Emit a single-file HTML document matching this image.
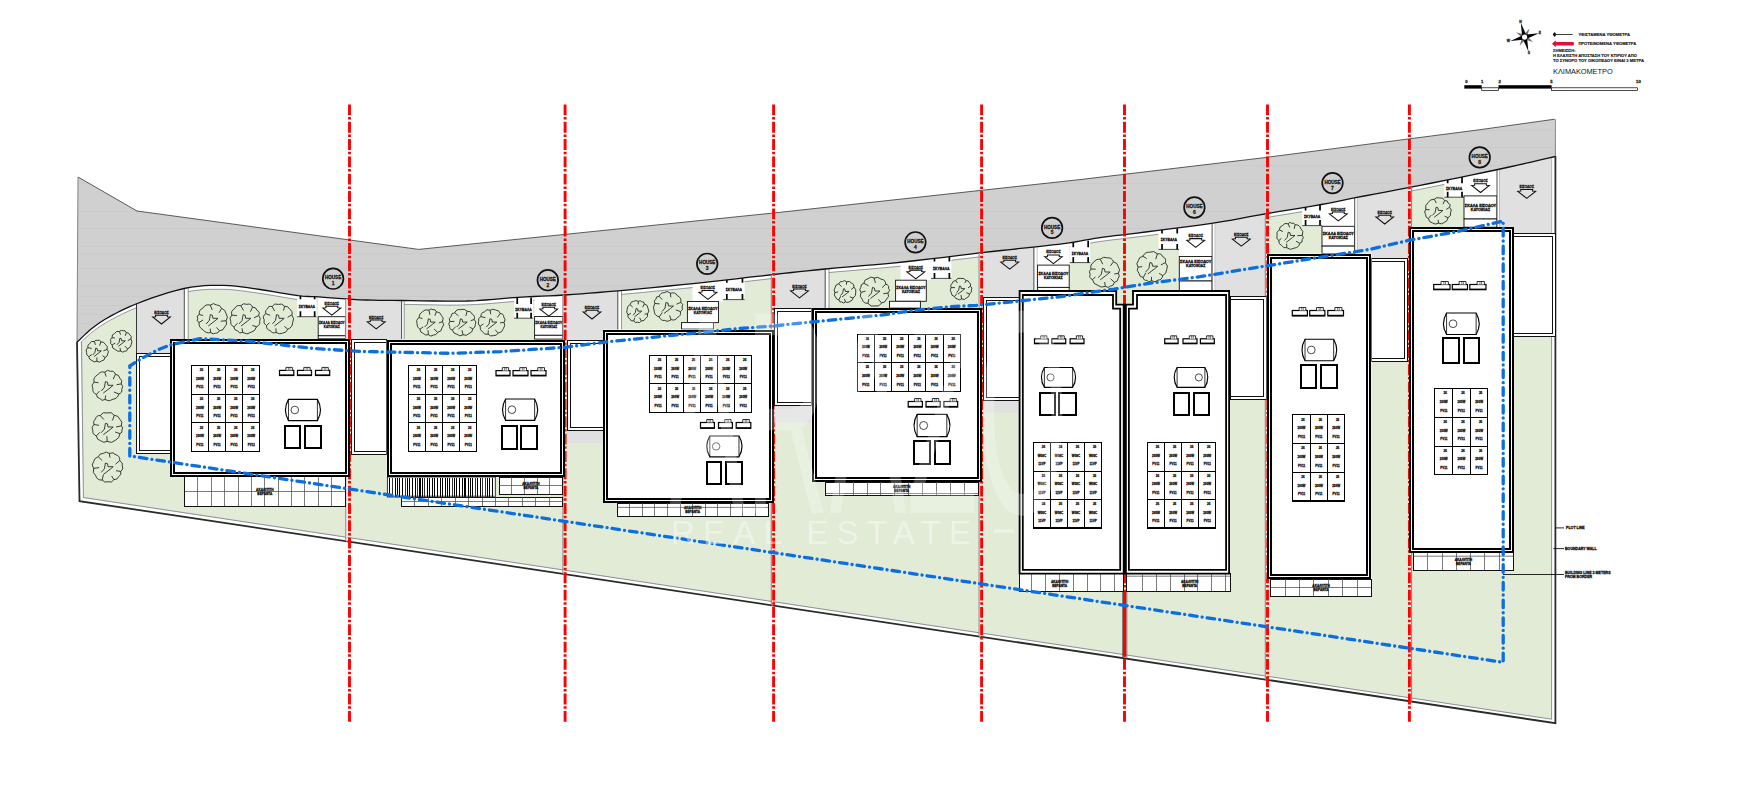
<!DOCTYPE html>
<html><head><meta charset="utf-8"><style>
html,body{margin:0;padding:0;background:#fff;overflow:hidden;}
svg{display:block;}
</style></head><body>
<svg width="1752" height="807" viewBox="0 0 1752 807">
<rect width="1752" height="807" fill="#fff"/>
<polygon points="77.0,342.0 79.4,339.9 82.5,336.9 86.2,333.4 90.5,329.6 95.1,325.9 100.0,322.5 105.1,319.3 110.6,316.1 116.4,313.0 122.6,309.9 129.2,306.9 136.0,304.0 143.4,301.1 151.4,298.2 159.8,295.3 168.2,292.6 176.4,290.3 184.0,288.5 191.1,287.2 197.8,286.3 204.3,285.7 210.6,285.4 216.9,285.4 223.2,285.4 229.5,285.6 235.6,286.2 241.7,286.9 247.7,287.7 253.8,288.6 260.0,289.5 266.5,290.5 273.3,291.6 280.1,292.8 286.7,293.9 292.8,294.9 298.2,295.7 302.4,296.2 305.6,296.4 308.3,296.5 311.0,296.6 314.3,296.7 318.7,296.9 324.4,297.3 330.9,297.8 338.0,298.4 345.4,298.9 352.8,299.4 360.0,299.8 366.7,300.0 373.1,300.2 379.5,300.3 386.3,300.4 393.7,300.4 402.0,300.5 411.7,300.6 422.5,300.8 433.9,301.0 445.5,301.2 456.7,301.2 467.0,301.0 476.4,300.6 485.2,300.0 493.6,299.3 501.8,298.6 509.9,297.9 518.0,297.3 526.0,296.9 533.7,296.5 541.4,296.2 549.1,295.9 556.9,295.5 565.0,295.0 573.2,294.4 581.2,293.9 589.5,293.2 598.1,292.5 607.5,291.7 617.8,290.8 629.3,289.8 641.9,288.6 655.1,287.3 668.7,286.0 682.3,284.7 695.6,283.3 708.9,281.9 722.5,280.3 736.2,278.8 749.5,277.2 762.0,275.8 773.5,274.5 783.3,273.4 791.7,272.5 799.4,271.6 807.0,270.8 815.4,270.0 825.2,269.0 836.7,267.9 849.2,266.9 862.5,265.7 876.1,264.6 889.8,263.3 903.1,262.0 916.5,260.5 930.2,258.9 944.0,257.3 957.4,255.6 970.1,254.1 981.6,252.7 991.9,251.5 1001.4,250.5 1010.1,249.6 1018.2,248.7 1025.8,247.9 1033.2,247.1 1040.2,246.3 1046.5,245.6 1052.5,244.9 1058.2,244.3 1063.7,243.6 1069.2,242.8 1074.6,242.0 1079.7,241.1 1084.7,240.2 1089.6,239.3 1094.7,238.4 1100.0,237.6 1105.1,236.9 1109.8,236.3 1114.6,235.7 1120.1,235.1 1126.7,234.3 1135.0,233.3 1145.6,232.0 1158.2,230.4 1172.0,228.7 1186.0,226.9 1199.5,225.1 1211.5,223.4 1222.0,221.7 1231.7,220.1 1240.8,218.4 1249.6,216.7 1258.3,215.1 1267.3,213.5 1276.6,211.9 1286.2,210.4 1295.7,208.8 1304.8,207.3 1313.5,205.9 1321.3,204.5 1327.8,203.3 1333.0,202.3 1337.7,201.3 1342.5,200.3 1348.2,199.1 1355.4,197.7 1364.3,196.0 1374.3,194.1 1385.1,192.1 1396.5,189.9 1408.3,187.7 1420.0,185.4 1432.1,183.0 1444.9,180.4 1458.0,177.8 1471.0,175.1 1483.6,172.5 1495.4,170.0 1507.0,167.5 1518.8,164.9 1530.1,162.3 1540.4,159.9 1549.1,157.9 1555.4,156.5 1555.4,723.2 79.5,501.1" fill="#e1ebd6"/>
<polyline points="1555.4,158.7 1549.1,160.1 1540.4,162.1 1530.1,164.5 1518.8,167.1 1507.0,169.7 1495.4,172.2 1483.6,174.7 1471.0,177.3 1458.0,180.0 1444.9,182.6 1432.1,185.2 1420.0,187.6 1408.3,189.9 1396.5,192.1 1385.1,194.3 1374.3,196.3 1364.3,198.2 1355.4,199.9 1348.2,201.3 1342.5,202.5 1337.7,203.5 1333.0,204.5 1327.8,205.5 1321.3,206.7 1313.5,208.1 1304.8,209.5 1295.7,211.0 1286.2,212.6 1276.6,214.1 1267.3,215.7 1258.3,217.3 1249.6,218.9 1240.8,220.6 1231.7,222.3 1222.0,223.9 1211.5,225.6 1199.5,227.3 1186.0,229.1 1172.0,230.9 1158.2,232.6 1145.6,234.2 1135.0,235.5 1126.7,236.5 1120.1,237.3 1114.6,237.9 1109.8,238.5 1105.1,239.1 1100.0,239.8 1094.7,240.6 1089.6,241.5 1084.7,242.4 1079.7,243.3 1074.6,244.2 1069.2,245.0 1063.7,245.8 1058.2,246.5 1052.5,247.1 1046.5,247.8 1040.2,248.5 1033.2,249.3 1025.8,250.1 1018.2,250.9 1010.1,251.8 1001.4,252.7 991.9,253.7 981.6,254.9 970.1,256.3 957.4,257.8 944.0,259.5 930.2,261.1 916.5,262.7 903.1,264.2 889.8,265.5 876.1,266.8 862.5,267.9 849.2,269.1 836.7,270.1 825.2,271.2 815.4,272.2 807.0,273.0 799.4,273.8 791.7,274.7 783.3,275.6 773.5,276.7 762.0,278.0 749.5,279.4 736.2,281.0 722.5,282.5 708.9,284.1 695.6,285.5 682.3,286.9 668.7,288.2 655.1,289.5 641.9,290.8 629.3,292.0 617.8,293.0 607.5,293.9 598.1,294.7 589.5,295.4 581.2,296.1 573.2,296.6 565.0,297.2 556.9,297.7 549.1,298.1 541.4,298.4 533.7,298.7 526.0,299.1 518.0,299.5 509.9,300.1 501.8,300.8 493.6,301.5 485.2,302.2 476.4,302.8 467.0,303.2 456.7,303.4 445.5,303.4 433.9,303.2 422.5,303.0 411.7,302.8 402.0,302.7 393.7,302.6 386.3,302.6 379.5,302.5 373.1,302.4 366.7,302.2 360.0,302.0 352.8,301.6 345.4,301.1 338.0,300.6 330.9,300.0 324.4,299.5 318.7,299.1 314.3,298.9 311.0,298.8 308.3,298.7 305.6,298.6 302.4,298.4 298.2,297.9 292.8,297.1 286.7,296.1 280.1,295.0 273.3,293.8 266.5,292.7 260.0,291.7 253.8,290.8 247.7,289.9 241.7,289.1 235.6,288.4 229.5,287.8 223.2,287.6 216.9,287.6 210.6,287.6 204.3,287.9 197.8,288.5 191.1,289.4 184.0,290.7 176.4,292.5 168.2,294.8 159.8,297.5 151.4,300.4 143.4,303.3 136.0,306.2 129.2,309.1 122.6,312.1 116.4,315.2 110.6,318.3 105.1,321.5 100.0,324.7 95.1,328.1 90.5,331.8 86.2,335.6 82.5,339.1 79.4,342.1 77.0,344.2" fill="none" stroke="#fff" stroke-width="3.2"/>
<polyline points="1555.4,160.4 1549.1,161.8 1540.4,163.8 1530.1,166.2 1518.8,168.8 1507.0,171.4 1495.4,173.9 1483.6,176.4 1471.0,179.0 1458.0,181.7 1444.9,184.3 1432.1,186.9 1420.0,189.3 1408.3,191.6 1396.5,193.8 1385.1,196.0 1374.3,198.0 1364.3,199.9 1355.4,201.6 1348.2,203.0 1342.5,204.2 1337.7,205.2 1333.0,206.2 1327.8,207.2 1321.3,208.4 1313.5,209.8 1304.8,211.2 1295.7,212.7 1286.2,214.3 1276.6,215.8 1267.3,217.4 1258.3,219.0 1249.6,220.6 1240.8,222.3 1231.7,224.0 1222.0,225.6 1211.5,227.3 1199.5,229.0 1186.0,230.8 1172.0,232.6 1158.2,234.3 1145.6,235.9 1135.0,237.2 1126.7,238.2 1120.1,239.0 1114.6,239.6 1109.8,240.2 1105.1,240.8 1100.0,241.5 1094.7,242.3 1089.6,243.2 1084.7,244.1 1079.7,245.0 1074.6,245.9 1069.2,246.7 1063.7,247.5 1058.2,248.2 1052.5,248.8 1046.5,249.5 1040.2,250.2 1033.2,251.0 1025.8,251.8 1018.2,252.6 1010.1,253.5 1001.4,254.4 991.9,255.4 981.6,256.6 970.1,258.0 957.4,259.5 944.0,261.2 930.2,262.8 916.5,264.4 903.1,265.9 889.8,267.2 876.1,268.5 862.5,269.6 849.2,270.8 836.7,271.8 825.2,272.9 815.4,273.9 807.0,274.7 799.4,275.5 791.7,276.4 783.3,277.3 773.5,278.4 762.0,279.7 749.5,281.1 736.2,282.7 722.5,284.2 708.9,285.8 695.6,287.2 682.3,288.6 668.7,289.9 655.1,291.2 641.9,292.5 629.3,293.7 617.8,294.7 607.5,295.6 598.1,296.4 589.5,297.1 581.2,297.8 573.2,298.3 565.0,298.9 556.9,299.4 549.1,299.8 541.4,300.1 533.7,300.4 526.0,300.8 518.0,301.2 509.9,301.8 501.8,302.5 493.6,303.2 485.2,303.9 476.4,304.5 467.0,304.9 456.7,305.1 445.5,305.1 433.9,304.9 422.5,304.7 411.7,304.5 402.0,304.4 393.7,304.3 386.3,304.3 379.5,304.2 373.1,304.1 366.7,303.9 360.0,303.7 352.8,303.3 345.4,302.8 338.0,302.3 330.9,301.7 324.4,301.2 318.7,300.8 314.3,300.6 311.0,300.5 308.3,300.4 305.6,300.3 302.4,300.1 298.2,299.6 292.8,298.8 286.7,297.8 280.1,296.7 273.3,295.5 266.5,294.4 260.0,293.4 253.8,292.5 247.7,291.6 241.7,290.8 235.6,290.1 229.5,289.5 223.2,289.3 216.9,289.3 210.6,289.3 204.3,289.6 197.8,290.2 191.1,291.1 184.0,292.4 176.4,294.2 168.2,296.5 159.8,299.2 151.4,302.1 143.4,305.0 136.0,307.9 129.2,310.8 122.6,313.8 116.4,316.9 110.6,320.0 105.1,323.2 100.0,326.4 95.1,329.8 90.5,333.5 86.2,337.3 82.5,340.8 79.4,343.8 77.0,345.9" fill="none" stroke="#556" stroke-width="0.6"/>
<polyline points="1553.4,156 1553.4,721.5 81.5,499.5 79,342" fill="none" stroke="#fff" stroke-width="3.4"/>
<polyline points="1551.6,156 1551.6,719.2 83.4,497.5 81.5,342" fill="none" stroke="#667" stroke-width="0.7"/>
<clipPath id="siteclip"><polygon points="77.0,342.0 79.4,339.9 82.5,336.9 86.2,333.4 90.5,329.6 95.1,325.9 100.0,322.5 105.1,319.3 110.6,316.1 116.4,313.0 122.6,309.9 129.2,306.9 136.0,304.0 143.4,301.1 151.4,298.2 159.8,295.3 168.2,292.6 176.4,290.3 184.0,288.5 191.1,287.2 197.8,286.3 204.3,285.7 210.6,285.4 216.9,285.4 223.2,285.4 229.5,285.6 235.6,286.2 241.7,286.9 247.7,287.7 253.8,288.6 260.0,289.5 266.5,290.5 273.3,291.6 280.1,292.8 286.7,293.9 292.8,294.9 298.2,295.7 302.4,296.2 305.6,296.4 308.3,296.5 311.0,296.6 314.3,296.7 318.7,296.9 324.4,297.3 330.9,297.8 338.0,298.4 345.4,298.9 352.8,299.4 360.0,299.8 366.7,300.0 373.1,300.2 379.5,300.3 386.3,300.4 393.7,300.4 402.0,300.5 411.7,300.6 422.5,300.8 433.9,301.0 445.5,301.2 456.7,301.2 467.0,301.0 476.4,300.6 485.2,300.0 493.6,299.3 501.8,298.6 509.9,297.9 518.0,297.3 526.0,296.9 533.7,296.5 541.4,296.2 549.1,295.9 556.9,295.5 565.0,295.0 573.2,294.4 581.2,293.9 589.5,293.2 598.1,292.5 607.5,291.7 617.8,290.8 629.3,289.8 641.9,288.6 655.1,287.3 668.7,286.0 682.3,284.7 695.6,283.3 708.9,281.9 722.5,280.3 736.2,278.8 749.5,277.2 762.0,275.8 773.5,274.5 783.3,273.4 791.7,272.5 799.4,271.6 807.0,270.8 815.4,270.0 825.2,269.0 836.7,267.9 849.2,266.9 862.5,265.7 876.1,264.6 889.8,263.3 903.1,262.0 916.5,260.5 930.2,258.9 944.0,257.3 957.4,255.6 970.1,254.1 981.6,252.7 991.9,251.5 1001.4,250.5 1010.1,249.6 1018.2,248.7 1025.8,247.9 1033.2,247.1 1040.2,246.3 1046.5,245.6 1052.5,244.9 1058.2,244.3 1063.7,243.6 1069.2,242.8 1074.6,242.0 1079.7,241.1 1084.7,240.2 1089.6,239.3 1094.7,238.4 1100.0,237.6 1105.1,236.9 1109.8,236.3 1114.6,235.7 1120.1,235.1 1126.7,234.3 1135.0,233.3 1145.6,232.0 1158.2,230.4 1172.0,228.7 1186.0,226.9 1199.5,225.1 1211.5,223.4 1222.0,221.7 1231.7,220.1 1240.8,218.4 1249.6,216.7 1258.3,215.1 1267.3,213.5 1276.6,211.9 1286.2,210.4 1295.7,208.8 1304.8,207.3 1313.5,205.9 1321.3,204.5 1327.8,203.3 1333.0,202.3 1337.7,201.3 1342.5,200.3 1348.2,199.1 1355.4,197.7 1364.3,196.0 1374.3,194.1 1385.1,192.1 1396.5,189.9 1408.3,187.7 1420.0,185.4 1432.1,183.0 1444.9,180.4 1458.0,177.8 1471.0,175.1 1483.6,172.5 1495.4,170.0 1507.0,167.5 1518.8,164.9 1530.1,162.3 1540.4,159.9 1549.1,157.9 1555.4,156.5 1555.4,723.2 79.5,501.1"/></clipPath>
<g clip-path="url(#siteclip)">
<rect x="136.40" y="140.00" width="47.90" height="214.00" fill="#e0e0e0" stroke="none" stroke-width="1" />
<text x="161.50" y="313.70" font-size="4.1" text-anchor="middle" fill="#111" stroke="#111" stroke-width="0.28" font-family="Liberation Sans" font-weight="bold" textLength="14.5" lengthAdjust="spacingAndGlyphs">ΕΙΣΟΔΟΣ</text>
<polygon points="155.6,315.2 167.4,315.2 167.4,316.7 170.4,317.0 161.5,324.0 152.6,317.0 155.6,316.7" fill="none" stroke="#111" stroke-width="1.05" stroke-linejoin="miter"/>
<rect x="184.30" y="280.00" width="3.90" height="59.00" fill="#fff" stroke="none" stroke-width="1" />
<line x1="184.30" y1="280.00" x2="184.30" y2="339.00" stroke="#222" stroke-width="0.8" />
<line x1="188.20" y1="280.00" x2="188.20" y2="339.00" stroke="#555" stroke-width="0.6" />
<line x1="136.50" y1="290.00" x2="136.50" y2="354.00" stroke="#222" stroke-width="0.9" />
<rect x="297.10" y="140.00" width="19.50" height="176.70" fill="#fff" stroke="none" stroke-width="1" />
<line x1="297.10" y1="316.70" x2="316.60" y2="316.70" stroke="#222" stroke-width="0.8" />
<line x1="300.42" y1="292.70" x2="300.42" y2="299.20" stroke="#000" stroke-width="1.7" />
<line x1="300.42" y1="311.20" x2="300.42" y2="316.70" stroke="#000" stroke-width="1.7" />
<line x1="314.65" y1="292.70" x2="314.65" y2="299.20" stroke="#000" stroke-width="1.7" />
<line x1="314.65" y1="311.20" x2="314.65" y2="316.70" stroke="#000" stroke-width="1.7" />
<text x="306.85" y="307.90" font-size="3.4" text-anchor="middle" fill="#111" stroke="#111" stroke-width="0.28" font-family="Liberation Sans" font-weight="bold" >ΣΚΥΒΑΛΑ</text>
<rect x="316.60" y="290.00" width="1.60" height="49.00" fill="#e1ebd6" stroke="none" stroke-width="1" />
<rect x="318.20" y="140.00" width="27.20" height="176.70" fill="#fff" stroke="none" stroke-width="1" />
<rect x="318.20" y="140.00" width="27.20" height="198.80" fill="#fff" stroke="none" stroke-width="1" />
<text x="331.80" y="304.80" font-size="4.1" text-anchor="middle" fill="#111" stroke="#111" stroke-width="0.28" font-family="Liberation Sans" font-weight="bold" textLength="14.5" lengthAdjust="spacingAndGlyphs">ΕΙΣΟΔΟΣ</text>
<polygon points="325.9,306.3 337.7,306.3 337.7,307.8 340.7,308.1 331.8,315.1 322.9,308.1 325.9,307.8" fill="none" stroke="#111" stroke-width="1.05" stroke-linejoin="miter"/>
<rect x="318.20" y="316.70" width="27.20" height="19.10" fill="#fff" stroke="#111" stroke-width="0.9" />
<text x="331.80" y="324.10" font-size="3.3" text-anchor="middle" fill="#111" stroke="#111" stroke-width="0.28" font-family="Liberation Sans" font-weight="bold" textLength="25.8" lengthAdjust="spacingAndGlyphs">ΣΚΑΛΑ ΕΙΣΟΔΟΥ</text>
<text x="331.80" y="328.00" font-size="3.3" text-anchor="middle" fill="#111" stroke="#111" stroke-width="0.28" font-family="Liberation Sans" font-weight="bold" textLength="16.0" lengthAdjust="spacingAndGlyphs">ΚΑΤΟΙΚΙΑΣ</text>
<rect x="318.20" y="335.80" width="27.20" height="3.00" fill="#fff" stroke="#111" stroke-width="0.9" />
<rect x="345.40" y="140.00" width="4.10" height="199.00" fill="#e0e0e0" stroke="none" stroke-width="1" />
<rect x="349.50" y="140.00" width="52.10" height="199.50" fill="#e0e0e0" stroke="none" stroke-width="1" />
<text x="376.20" y="318.50" font-size="4.1" text-anchor="middle" fill="#111" stroke="#111" stroke-width="0.28" font-family="Liberation Sans" font-weight="bold" textLength="14.5" lengthAdjust="spacingAndGlyphs">ΕΙΣΟΔΟΣ</text>
<polygon points="370.3,320.0 382.1,320.0 382.1,321.5 385.1,321.8 376.2,328.8 367.3,321.8 370.3,321.5" fill="none" stroke="#111" stroke-width="1.05" stroke-linejoin="miter"/>
<rect x="401.60" y="290.00" width="2.60" height="49.00" fill="#fff" stroke="none" stroke-width="1" />
<line x1="401.60" y1="290.00" x2="401.60" y2="339.00" stroke="#222" stroke-width="0.8" />
<line x1="404.20" y1="290.00" x2="404.20" y2="339.00" stroke="#555" stroke-width="0.6" />
<rect x="514.00" y="140.00" width="19.00" height="178.20" fill="#fff" stroke="none" stroke-width="1" />
<line x1="514.00" y1="318.20" x2="533.00" y2="318.20" stroke="#222" stroke-width="0.8" />
<line x1="517.23" y1="297.40" x2="517.23" y2="303.90" stroke="#000" stroke-width="1.7" />
<line x1="517.23" y1="312.70" x2="517.23" y2="318.20" stroke="#000" stroke-width="1.7" />
<line x1="531.10" y1="297.40" x2="531.10" y2="303.90" stroke="#000" stroke-width="1.7" />
<line x1="531.10" y1="312.70" x2="531.10" y2="318.20" stroke="#000" stroke-width="1.7" />
<text x="523.50" y="311.00" font-size="3.4" text-anchor="middle" fill="#111" stroke="#111" stroke-width="0.28" font-family="Liberation Sans" font-weight="bold" >ΣΚΥΒΑΛΑ</text>
<rect x="534.60" y="140.00" width="28.30" height="176.50" fill="#fff" stroke="none" stroke-width="1" />
<rect x="534.60" y="140.00" width="28.30" height="199.10" fill="#fff" stroke="none" stroke-width="1" />
<text x="548.75" y="305.80" font-size="4.1" text-anchor="middle" fill="#111" stroke="#111" stroke-width="0.28" font-family="Liberation Sans" font-weight="bold" textLength="14.5" lengthAdjust="spacingAndGlyphs">ΕΙΣΟΔΟΣ</text>
<polygon points="542.9,307.3 554.6,307.3 554.6,308.8 557.6,309.1 548.8,316.1 539.9,309.1 542.9,308.8" fill="none" stroke="#111" stroke-width="1.05" stroke-linejoin="miter"/>
<rect x="534.60" y="316.50" width="28.30" height="18.80" fill="#fff" stroke="#111" stroke-width="0.9" />
<text x="548.75" y="323.70" font-size="3.3" text-anchor="middle" fill="#111" stroke="#111" stroke-width="0.28" font-family="Liberation Sans" font-weight="bold" textLength="26.9" lengthAdjust="spacingAndGlyphs">ΣΚΑΛΑ ΕΙΣΟΔΟΥ</text>
<text x="548.75" y="327.60" font-size="3.3" text-anchor="middle" fill="#111" stroke="#111" stroke-width="0.28" font-family="Liberation Sans" font-weight="bold" textLength="16.7" lengthAdjust="spacingAndGlyphs">ΚΑΤΟΙΚΙΑΣ</text>
<rect x="534.60" y="335.30" width="28.30" height="3.80" fill="#fff" stroke="#111" stroke-width="0.9" />
<rect x="562.90" y="140.00" width="2.20" height="200.00" fill="#e0e0e0" stroke="none" stroke-width="1" />
<rect x="565.10" y="140.00" width="52.70" height="199.40" fill="#e0e0e0" stroke="none" stroke-width="1" />
<text x="592.00" y="308.70" font-size="4.1" text-anchor="middle" fill="#111" stroke="#111" stroke-width="0.28" font-family="Liberation Sans" font-weight="bold" textLength="14.5" lengthAdjust="spacingAndGlyphs">ΕΙΣΟΔΟΣ</text>
<polygon points="586.1,310.2 597.9,310.2 597.9,311.7 600.9,312.0 592.0,319.0 583.1,312.0 586.1,311.7" fill="none" stroke="#111" stroke-width="1.05" stroke-linejoin="miter"/>
<rect x="617.80" y="285.00" width="3.70" height="54.40" fill="#fff" stroke="none" stroke-width="1" />
<line x1="617.80" y1="285.00" x2="617.80" y2="339.40" stroke="#222" stroke-width="0.8" />
<line x1="621.50" y1="285.00" x2="621.50" y2="339.40" stroke="#555" stroke-width="0.6" />
<rect x="692.50" y="140.00" width="30.70" height="161.50" fill="#fff" stroke="none" stroke-width="1" />
<text x="707.85" y="289.00" font-size="4.1" text-anchor="middle" fill="#111" stroke="#111" stroke-width="0.28" font-family="Liberation Sans" font-weight="bold" textLength="14.5" lengthAdjust="spacingAndGlyphs">ΕΙΣΟΔΟΣ</text>
<polygon points="702.0,290.5 713.8,290.5 713.8,292.0 716.8,292.3 707.9,299.3 699.0,292.3 702.0,292.0" fill="none" stroke="#111" stroke-width="1.05" stroke-linejoin="miter"/>
<rect x="687.40" y="301.50" width="31.10" height="21.10" fill="#fff" stroke="#111" stroke-width="0.9" />
<text x="702.95" y="309.60" font-size="3.3" text-anchor="middle" fill="#111" stroke="#111" stroke-width="0.28" font-family="Liberation Sans" font-weight="bold" textLength="29.5" lengthAdjust="spacingAndGlyphs">ΣΚΑΛΑ ΕΙΣΟΔΟΥ</text>
<text x="702.95" y="313.50" font-size="3.3" text-anchor="middle" fill="#111" stroke="#111" stroke-width="0.28" font-family="Liberation Sans" font-weight="bold" textLength="18.3" lengthAdjust="spacingAndGlyphs">ΚΑΤΟΙΚΙΑΣ</text>
<rect x="681.50" y="322.60" width="31.90" height="6.50" fill="#fff" stroke="#111" stroke-width="0.9" />
<rect x="723.20" y="140.00" width="21.40" height="159.60" fill="#fff" stroke="none" stroke-width="1" />
<line x1="723.20" y1="299.60" x2="744.60" y2="299.60" stroke="#222" stroke-width="0.8" />
<line x1="726.84" y1="276.30" x2="726.84" y2="282.80" stroke="#000" stroke-width="1.7" />
<line x1="726.84" y1="294.10" x2="726.84" y2="299.60" stroke="#000" stroke-width="1.7" />
<line x1="742.46" y1="276.30" x2="742.46" y2="282.80" stroke="#000" stroke-width="1.7" />
<line x1="742.46" y1="294.10" x2="742.46" y2="299.60" stroke="#000" stroke-width="1.7" />
<text x="733.90" y="291.15" font-size="3.4" text-anchor="middle" fill="#111" stroke="#111" stroke-width="0.28" font-family="Liberation Sans" font-weight="bold" >ΣΚΥΒΑΛΑ</text>
<rect x="773.60" y="140.00" width="51.60" height="168.50" fill="#e0e0e0" stroke="none" stroke-width="1" />
<text x="799.50" y="287.50" font-size="4.1" text-anchor="middle" fill="#111" stroke="#111" stroke-width="0.28" font-family="Liberation Sans" font-weight="bold" textLength="14.5" lengthAdjust="spacingAndGlyphs">ΕΙΣΟΔΟΣ</text>
<polygon points="793.6,289.0 805.4,289.0 805.4,290.5 808.4,290.8 799.5,297.8 790.6,290.8 793.6,290.5" fill="none" stroke="#111" stroke-width="1.05" stroke-linejoin="miter"/>
<rect x="825.20" y="265.00" width="3.80" height="43.50" fill="#fff" stroke="none" stroke-width="1" />
<line x1="825.20" y1="265.00" x2="825.20" y2="308.50" stroke="#222" stroke-width="0.8" />
<line x1="829.00" y1="265.00" x2="829.00" y2="308.50" stroke="#555" stroke-width="0.6" />
<rect x="900.60" y="140.00" width="30.40" height="140.20" fill="#fff" stroke="none" stroke-width="1" />
<text x="915.80" y="268.60" font-size="4.1" text-anchor="middle" fill="#111" stroke="#111" stroke-width="0.28" font-family="Liberation Sans" font-weight="bold" textLength="14.5" lengthAdjust="spacingAndGlyphs">ΕΙΣΟΔΟΣ</text>
<polygon points="909.9,270.1 921.7,270.1 921.7,271.6 924.7,271.9 915.8,278.9 906.9,271.9 909.9,271.6" fill="none" stroke="#111" stroke-width="1.05" stroke-linejoin="miter"/>
<rect x="895.60" y="280.20" width="30.70" height="21.10" fill="#fff" stroke="#111" stroke-width="0.9" />
<text x="910.95" y="288.70" font-size="3.3" text-anchor="middle" fill="#111" stroke="#111" stroke-width="0.28" font-family="Liberation Sans" font-weight="bold" textLength="29.2" lengthAdjust="spacingAndGlyphs">ΣΚΑΛΑ ΕΙΣΟΔΟΥ</text>
<text x="910.95" y="292.60" font-size="3.3" text-anchor="middle" fill="#111" stroke="#111" stroke-width="0.28" font-family="Liberation Sans" font-weight="bold" textLength="18.1" lengthAdjust="spacingAndGlyphs">ΚΑΤΟΙΚΙΑΣ</text>
<rect x="889.50" y="301.30" width="30.90" height="6.80" fill="#fff" stroke="#111" stroke-width="0.9" />
<rect x="931.00" y="140.00" width="20.40" height="138.40" fill="#fff" stroke="none" stroke-width="1" />
<line x1="931.00" y1="278.40" x2="951.40" y2="278.40" stroke="#222" stroke-width="0.8" />
<line x1="934.47" y1="255.00" x2="934.47" y2="261.50" stroke="#000" stroke-width="1.7" />
<line x1="934.47" y1="272.90" x2="934.47" y2="278.40" stroke="#000" stroke-width="1.7" />
<line x1="949.36" y1="255.00" x2="949.36" y2="261.50" stroke="#000" stroke-width="1.7" />
<line x1="949.36" y1="272.90" x2="949.36" y2="278.40" stroke="#000" stroke-width="1.7" />
<text x="941.20" y="269.90" font-size="3.4" text-anchor="middle" fill="#111" stroke="#111" stroke-width="0.28" font-family="Liberation Sans" font-weight="bold" >ΣΚΥΒΑΛΑ</text>
<rect x="981.60" y="140.00" width="52.30" height="156.70" fill="#e0e0e0" stroke="none" stroke-width="1" />
<text x="1009.70" y="258.80" font-size="4.1" text-anchor="middle" fill="#111" stroke="#111" stroke-width="0.28" font-family="Liberation Sans" font-weight="bold" textLength="14.5" lengthAdjust="spacingAndGlyphs">ΕΙΣΟΔΟΣ</text>
<polygon points="1003.8,260.3 1015.6,260.3 1015.6,261.8 1018.6,262.1 1009.7,269.1 1000.8,262.1 1003.8,261.8" fill="none" stroke="#111" stroke-width="1.05" stroke-linejoin="miter"/>
<rect x="1033.90" y="245.00" width="3.40" height="45.50" fill="#fff" stroke="none" stroke-width="1" />
<line x1="1033.90" y1="245.00" x2="1033.90" y2="290.50" stroke="#222" stroke-width="0.8" />
<line x1="1037.30" y1="245.00" x2="1037.30" y2="290.50" stroke="#555" stroke-width="0.6" />
<rect x="1037.60" y="140.00" width="31.60" height="125.10" fill="#fff" stroke="none" stroke-width="1" />
<rect x="1037.60" y="140.00" width="31.60" height="150.50" fill="#fff" stroke="none" stroke-width="1" />
<text x="1053.40" y="253.40" font-size="4.1" text-anchor="middle" fill="#111" stroke="#111" stroke-width="0.28" font-family="Liberation Sans" font-weight="bold" textLength="14.5" lengthAdjust="spacingAndGlyphs">ΕΙΣΟΔΟΣ</text>
<polygon points="1047.5,254.9 1059.3,254.9 1059.3,256.4 1062.3,256.7 1053.4,263.7 1044.5,256.7 1047.5,256.4" fill="none" stroke="#111" stroke-width="1.05" stroke-linejoin="miter"/>
<rect x="1037.60" y="265.10" width="31.60" height="22.30" fill="#fff" stroke="#111" stroke-width="0.9" />
<text x="1053.40" y="275.45" font-size="3.3" text-anchor="middle" fill="#111" stroke="#111" stroke-width="0.28" font-family="Liberation Sans" font-weight="bold" textLength="30.0" lengthAdjust="spacingAndGlyphs">ΣΚΑΛΑ ΕΙΣΟΔΟΥ</text>
<text x="1053.40" y="279.35" font-size="3.3" text-anchor="middle" fill="#111" stroke="#111" stroke-width="0.28" font-family="Liberation Sans" font-weight="bold" textLength="18.6" lengthAdjust="spacingAndGlyphs">ΚΑΤΟΙΚΙΑΣ</text>
<rect x="1037.60" y="287.40" width="31.60" height="3.10" fill="#fff" stroke="#111" stroke-width="0.9" />
<rect x="1069.80" y="140.00" width="20.40" height="122.60" fill="#fff" stroke="none" stroke-width="1" />
<line x1="1069.80" y1="262.60" x2="1090.20" y2="262.60" stroke="#222" stroke-width="0.8" />
<line x1="1073.27" y1="240.80" x2="1073.27" y2="247.30" stroke="#000" stroke-width="1.7" />
<line x1="1073.27" y1="257.10" x2="1073.27" y2="262.60" stroke="#000" stroke-width="1.7" />
<line x1="1088.16" y1="240.80" x2="1088.16" y2="247.30" stroke="#000" stroke-width="1.7" />
<line x1="1088.16" y1="257.10" x2="1088.16" y2="262.60" stroke="#000" stroke-width="1.7" />
<text x="1080.00" y="254.90" font-size="3.4" text-anchor="middle" fill="#111" stroke="#111" stroke-width="0.28" font-family="Liberation Sans" font-weight="bold" >ΣΚΥΒΑΛΑ</text>
<rect x="1158.50" y="140.00" width="20.80" height="109.40" fill="#fff" stroke="none" stroke-width="1" />
<line x1="1158.50" y1="249.40" x2="1179.30" y2="249.40" stroke="#222" stroke-width="0.8" />
<line x1="1162.04" y1="227.00" x2="1162.04" y2="233.50" stroke="#000" stroke-width="1.7" />
<line x1="1162.04" y1="243.90" x2="1162.04" y2="249.40" stroke="#000" stroke-width="1.7" />
<line x1="1177.22" y1="227.00" x2="1177.22" y2="233.50" stroke="#000" stroke-width="1.7" />
<line x1="1177.22" y1="243.90" x2="1177.22" y2="249.40" stroke="#000" stroke-width="1.7" />
<text x="1168.90" y="241.40" font-size="3.4" text-anchor="middle" fill="#111" stroke="#111" stroke-width="0.28" font-family="Liberation Sans" font-weight="bold" >ΣΚΥΒΑΛΑ</text>
<rect x="1179.30" y="140.00" width="32.80" height="116.50" fill="#fff" stroke="none" stroke-width="1" />
<rect x="1179.30" y="140.00" width="32.80" height="150.70" fill="#fff" stroke="none" stroke-width="1" />
<text x="1195.70" y="237.10" font-size="4.1" text-anchor="middle" fill="#111" stroke="#111" stroke-width="0.28" font-family="Liberation Sans" font-weight="bold" textLength="14.5" lengthAdjust="spacingAndGlyphs">ΕΙΣΟΔΟΣ</text>
<polygon points="1189.8,238.6 1201.6,238.6 1201.6,240.1 1204.6,240.4 1195.7,247.4 1186.8,240.4 1189.8,240.1" fill="none" stroke="#111" stroke-width="1.05" stroke-linejoin="miter"/>
<rect x="1179.30" y="256.50" width="32.80" height="24.50" fill="#fff" stroke="#111" stroke-width="0.9" />
<text x="1195.70" y="262.80" font-size="3.3" text-anchor="middle" fill="#111" stroke="#111" stroke-width="0.28" font-family="Liberation Sans" font-weight="bold" textLength="31.2" lengthAdjust="spacingAndGlyphs">ΣΚΑΛΑ ΕΙΣΟΔΟΥ</text>
<text x="1195.70" y="266.70" font-size="3.3" text-anchor="middle" fill="#111" stroke="#111" stroke-width="0.28" font-family="Liberation Sans" font-weight="bold" textLength="19.3" lengthAdjust="spacingAndGlyphs">ΚΑΤΟΙΚΙΑΣ</text>
<rect x="1179.30" y="281.00" width="32.80" height="9.70" fill="#fff" stroke="#111" stroke-width="0.9" />
<rect x="1212.10" y="222.00" width="3.10" height="68.70" fill="#fff" stroke="none" stroke-width="1" />
<line x1="1212.10" y1="222.00" x2="1212.10" y2="290.70" stroke="#222" stroke-width="0.8" />
<line x1="1215.20" y1="222.00" x2="1215.20" y2="290.70" stroke="#555" stroke-width="0.6" />
<rect x="1215.20" y="140.00" width="52.30" height="156.40" fill="#e0e0e0" stroke="none" stroke-width="1" />
<text x="1241.30" y="235.80" font-size="4.1" text-anchor="middle" fill="#111" stroke="#111" stroke-width="0.28" font-family="Liberation Sans" font-weight="bold" textLength="14.5" lengthAdjust="spacingAndGlyphs">ΕΙΣΟΔΟΣ</text>
<polygon points="1235.4,237.3 1247.2,237.3 1247.2,238.8 1250.2,239.1 1241.3,246.1 1232.4,239.1 1235.4,238.8" fill="none" stroke="#111" stroke-width="1.05" stroke-linejoin="miter"/>
<rect x="1302.20" y="140.00" width="19.80" height="85.60" fill="#fff" stroke="none" stroke-width="1" />
<line x1="1302.20" y1="225.60" x2="1322.00" y2="225.60" stroke="#222" stroke-width="0.8" />
<line x1="1305.57" y1="203.90" x2="1305.57" y2="210.40" stroke="#000" stroke-width="1.7" />
<line x1="1305.57" y1="220.10" x2="1305.57" y2="225.60" stroke="#000" stroke-width="1.7" />
<line x1="1320.02" y1="203.90" x2="1320.02" y2="210.40" stroke="#000" stroke-width="1.7" />
<line x1="1320.02" y1="220.10" x2="1320.02" y2="225.60" stroke="#000" stroke-width="1.7" />
<text x="1312.10" y="217.95" font-size="3.4" text-anchor="middle" fill="#111" stroke="#111" stroke-width="0.28" font-family="Liberation Sans" font-weight="bold" >ΣΚΥΒΑΛΑ</text>
<rect x="1322.00" y="140.00" width="32.70" height="86.30" fill="#fff" stroke="none" stroke-width="1" />
<rect x="1322.00" y="140.00" width="32.70" height="113.60" fill="#fff" stroke="none" stroke-width="1" />
<text x="1338.35" y="210.50" font-size="4.1" text-anchor="middle" fill="#111" stroke="#111" stroke-width="0.28" font-family="Liberation Sans" font-weight="bold" textLength="14.5" lengthAdjust="spacingAndGlyphs">ΕΙΣΟΔΟΣ</text>
<polygon points="1332.4,212.0 1344.2,212.0 1344.2,213.5 1347.2,213.8 1338.3,220.8 1329.4,213.8 1332.4,213.5" fill="none" stroke="#111" stroke-width="1.05" stroke-linejoin="miter"/>
<rect x="1322.00" y="226.30" width="32.70" height="19.80" fill="#fff" stroke="#111" stroke-width="0.9" />
<text x="1338.35" y="235.40" font-size="3.3" text-anchor="middle" fill="#111" stroke="#111" stroke-width="0.28" font-family="Liberation Sans" font-weight="bold" textLength="31.1" lengthAdjust="spacingAndGlyphs">ΣΚΑΛΑ ΕΙΣΟΔΟΥ</text>
<text x="1338.35" y="239.30" font-size="3.3" text-anchor="middle" fill="#111" stroke="#111" stroke-width="0.28" font-family="Liberation Sans" font-weight="bold" textLength="19.3" lengthAdjust="spacingAndGlyphs">ΚΑΤΟΙΚΙΑΣ</text>
<rect x="1322.00" y="246.10" width="32.70" height="7.50" fill="#fff" stroke="#111" stroke-width="0.9" />
<rect x="1354.70" y="197.00" width="2.70" height="56.60" fill="#fff" stroke="none" stroke-width="1" />
<line x1="1354.70" y1="197.00" x2="1354.70" y2="253.60" stroke="#222" stroke-width="0.8" />
<line x1="1357.40" y1="197.00" x2="1357.40" y2="253.60" stroke="#555" stroke-width="0.6" />
<rect x="1357.40" y="140.00" width="52.00" height="120.60" fill="#e0e0e0" stroke="none" stroke-width="1" />
<text x="1384.70" y="213.70" font-size="4.1" text-anchor="middle" fill="#111" stroke="#111" stroke-width="0.28" font-family="Liberation Sans" font-weight="bold" textLength="14.5" lengthAdjust="spacingAndGlyphs">ΕΙΣΟΔΟΣ</text>
<polygon points="1378.8,215.2 1390.6,215.2 1390.6,216.7 1393.6,217.0 1384.7,224.0 1375.8,217.0 1378.8,216.7" fill="none" stroke="#111" stroke-width="1.05" stroke-linejoin="miter"/>
<rect x="1444.30" y="140.00" width="19.70" height="57.20" fill="#fff" stroke="none" stroke-width="1" />
<line x1="1444.30" y1="197.20" x2="1464.00" y2="197.20" stroke="#222" stroke-width="0.8" />
<line x1="1447.65" y1="176.80" x2="1447.65" y2="183.30" stroke="#000" stroke-width="1.7" />
<line x1="1447.65" y1="191.70" x2="1447.65" y2="197.20" stroke="#000" stroke-width="1.7" />
<line x1="1462.03" y1="176.80" x2="1462.03" y2="183.30" stroke="#000" stroke-width="1.7" />
<line x1="1462.03" y1="191.70" x2="1462.03" y2="197.20" stroke="#000" stroke-width="1.7" />
<text x="1454.15" y="190.20" font-size="3.4" text-anchor="middle" fill="#111" stroke="#111" stroke-width="0.28" font-family="Liberation Sans" font-weight="bold" >ΣΚΥΒΑΛΑ</text>
<rect x="1464.00" y="140.00" width="33.00" height="55.90" fill="#fff" stroke="none" stroke-width="1" />
<rect x="1464.00" y="140.00" width="33.00" height="87.20" fill="#fff" stroke="none" stroke-width="1" />
<text x="1480.50" y="182.20" font-size="4.1" text-anchor="middle" fill="#111" stroke="#111" stroke-width="0.28" font-family="Liberation Sans" font-weight="bold" textLength="14.5" lengthAdjust="spacingAndGlyphs">ΕΙΣΟΔΟΣ</text>
<polygon points="1474.6,183.7 1486.4,183.7 1486.4,185.2 1489.4,185.5 1480.5,192.5 1471.6,185.5 1474.6,185.2" fill="none" stroke="#111" stroke-width="1.05" stroke-linejoin="miter"/>
<rect x="1464.00" y="195.90" width="33.00" height="23.10" fill="#fff" stroke="#111" stroke-width="0.9" />
<text x="1480.50" y="206.65" font-size="3.3" text-anchor="middle" fill="#111" stroke="#111" stroke-width="0.28" font-family="Liberation Sans" font-weight="bold" textLength="31.3" lengthAdjust="spacingAndGlyphs">ΣΚΑΛΑ ΕΙΣΟΔΟΥ</text>
<text x="1480.50" y="210.55" font-size="3.3" text-anchor="middle" fill="#111" stroke="#111" stroke-width="0.28" font-family="Liberation Sans" font-weight="bold" textLength="19.4" lengthAdjust="spacingAndGlyphs">ΚΑΤΟΙΚΙΑΣ</text>
<rect x="1464.00" y="219.00" width="33.00" height="8.20" fill="#fff" stroke="#111" stroke-width="0.9" />
<rect x="1497.00" y="168.00" width="2.50" height="59.20" fill="#fff" stroke="none" stroke-width="1" />
<line x1="1497.00" y1="168.00" x2="1497.00" y2="227.20" stroke="#222" stroke-width="0.8" />
<line x1="1499.50" y1="168.00" x2="1499.50" y2="227.20" stroke="#555" stroke-width="0.6" />
<rect x="1499.50" y="140.00" width="52.00" height="94.40" fill="#e0e0e0" stroke="none" stroke-width="1" />
<text x="1526.70" y="188.00" font-size="4.1" text-anchor="middle" fill="#111" stroke="#111" stroke-width="0.28" font-family="Liberation Sans" font-weight="bold" textLength="14.5" lengthAdjust="spacingAndGlyphs">ΕΙΣΟΔΟΣ</text>
<polygon points="1520.8,189.5 1532.6,189.5 1532.6,191.0 1535.6,191.3 1526.7,198.3 1517.8,191.3 1520.8,191.0" fill="none" stroke="#111" stroke-width="1.05" stroke-linejoin="miter"/>
<path d="M102.54,355.78 L105.07,357.50 Q104.66,360.72 101.66,360.82 Q99.67,363.18 96.92,361.28 M96.88,357.39 L96.92,361.28 Q94.01,362.70 91.93,360.53 Q89.18,359.68 88.71,356.64 M91.83,354.62 L88.71,356.64 Q86.14,355.11 86.56,352.37 Q85.14,349.75 87.73,347.74 M91.74,348.40 L87.73,347.74 Q87.43,344.73 89.84,343.30 Q91.21,340.61 94.41,341.51 M95.41,344.88 L94.41,341.51 Q95.84,339.56 97.71,340.41 Q99.74,339.32 100.89,341.82 M99.64,345.62 L100.89,341.82 Q104.17,341.60 105.40,344.43 Q108.18,346.07 107.11,349.36 M103.41,350.84 L107.11,349.36 Q109.37,351.58 107.72,353.84 Q107.79,356.45 105.07,357.50 M92.71,354.93 L94.97,352.35 L95.69,348.18 L97.20,348.62 L97.56,350.84 L101.29,350.84 L99.07,352.71 L94.18,356.44" fill="none" stroke="#262b24" stroke-width="0.9" stroke-linejoin="round"/>
<path d="M119.95,347.92 L120.70,351.08 Q117.47,352.03 115.30,349.60 Q111.84,348.70 112.14,344.97 M115.28,343.01 L112.14,344.97 Q109.66,343.61 110.79,341.39 Q109.53,339.21 112.01,337.78 M114.88,337.98 L112.01,337.78 Q111.48,334.33 114.65,333.35 Q116.23,330.59 119.44,331.48 M120.55,334.70 L119.44,331.48 Q121.19,329.51 123.08,330.79 Q125.42,329.82 126.28,332.64 M125.29,335.84 L126.28,332.64 Q129.09,332.49 129.80,334.89 Q132.17,336.14 130.93,338.91 M127.81,340.59 L130.93,338.91 Q132.73,341.73 131.30,344.57 Q130.74,347.72 127.58,348.85 M124.94,346.07 L127.58,348.85 Q127.07,351.74 124.58,351.32 Q122.80,352.98 120.70,351.08 M116.89,344.87 L119.11,342.33 L119.82,338.24 L121.30,338.66 L121.65,340.85 L125.32,340.85 L123.13,342.68 L118.34,346.35" fill="none" stroke="#262b24" stroke-width="0.9" stroke-linejoin="round"/>
<path d="M105.72,395.49 L105.04,399.53 Q101.58,401.62 99.90,398.49 Q96.53,398.29 96.56,394.45 M99.39,391.14 L96.56,394.45 Q92.23,392.89 92.86,388.77 Q90.76,385.23 94.05,382.10 M98.46,382.79 L94.05,382.10 Q93.05,377.07 97.46,375.06 Q99.90,371.10 104.70,372.13 M106.17,376.59 L104.70,372.13 Q107.49,368.94 110.45,371.33 Q114.07,370.35 115.42,374.31 M113.26,379.12 L115.42,374.31 Q119.21,374.66 119.82,378.19 Q122.76,380.29 121.31,383.86 M116.61,384.70 L121.31,383.86 Q123.89,386.64 121.72,389.31 Q122.77,392.85 118.82,393.95 M113.92,392.00 L118.82,393.95 Q117.63,398.69 112.96,399.26 Q109.23,402.35 105.04,399.53 M101.29,390.97 L104.42,387.39 L105.41,381.63 L107.50,382.22 L108.00,385.30 L113.16,385.30 L110.08,387.89 L103.33,393.05" fill="none" stroke="#262b24" stroke-width="0.9" stroke-linejoin="round"/>
<path d="M112.44,420.49 L114.24,415.29 Q118.60,415.40 119.78,419.26 Q123.06,421.76 121.36,425.89 M116.03,427.00 L121.36,425.89 Q123.84,427.94 121.81,429.95 Q123.09,432.53 120.03,433.63 M115.15,432.00 L120.03,433.63 Q119.48,438.43 115.31,440.33 Q111.88,443.83 107.18,441.45 M106.89,436.22 L107.18,441.45 Q103.47,443.35 100.67,440.77 Q96.88,440.07 96.33,435.86 M99.99,432.21 L96.33,435.86 Q92.32,434.42 92.83,430.67 Q90.82,427.47 93.88,424.50 M99.02,425.29 L93.88,424.50 Q92.65,420.88 95.53,418.94 Q96.14,415.25 100.27,415.57 M103.77,419.48 L100.27,415.57 Q102.79,411.29 107.20,412.97 Q111.52,411.22 114.24,415.29 M101.29,432.67 L104.42,429.09 L105.41,423.33 L107.50,423.92 L108.00,427.00 L113.16,427.00 L110.08,429.59 L103.33,434.75" fill="none" stroke="#262b24" stroke-width="0.9" stroke-linejoin="round"/>
<path d="M115.55,464.13 L119.78,460.58 Q123.12,462.51 122.34,465.87 Q123.95,469.06 120.76,471.52 M116.01,470.61 L120.76,471.52 Q121.64,475.10 118.66,476.69 Q117.62,479.93 113.90,479.60 M111.64,475.99 L113.90,479.60 Q111.79,483.36 108.11,481.73 Q104.66,483.28 102.17,480.09 M103.36,474.89 L102.17,480.09 Q97.13,480.41 95.76,475.80 Q92.08,472.99 93.60,468.40 M99.13,467.58 L93.60,468.40 Q90.84,464.73 93.63,461.66 Q94.18,457.83 98.25,456.76 M102.15,460.48 L98.25,456.76 Q99.59,453.12 103.25,453.40 Q106.09,450.72 109.28,453.36 M109.99,457.58 L109.28,453.36 Q113.44,451.64 116.00,454.83 Q120.05,455.94 119.78,460.58 M101.29,472.37 L104.42,468.79 L105.41,463.03 L107.50,463.62 L108.00,466.70 L113.16,466.70 L110.08,469.29 L103.33,474.45" fill="none" stroke="#262b24" stroke-width="0.9" stroke-linejoin="round"/>
<path d="M203.13,319.96 L199.04,322.48 Q195.65,320.88 197.79,318.49 Q195.75,316.00 199.21,314.55 M203.17,315.52 L199.21,314.55 Q198.77,309.71 203.10,307.89 Q205.52,303.76 210.29,305.10 M212.16,309.88 L210.29,305.10 Q213.49,302.33 216.47,304.86 Q220.17,304.66 221.55,308.39 M219.14,312.74 L221.55,308.39 Q225.62,309.72 226.11,313.73 Q228.72,317.05 226.12,320.74 M220.83,321.24 L226.12,320.74 Q227.83,324.71 224.60,326.99 Q223.66,330.80 219.39,330.77 M216.60,327.40 L219.39,330.77 Q218.16,333.77 215.40,333.16 Q213.13,334.91 210.79,332.57 M210.12,328.65 L210.79,332.57 Q205.85,333.75 203.04,329.71 Q198.56,327.58 199.04,322.48 M206.23,323.93 L209.34,320.38 L210.33,314.65 L212.40,315.25 L212.89,318.31 L218.03,318.31 L214.97,320.87 L208.25,326.01" fill="none" stroke="#262b24" stroke-width="0.9" stroke-linejoin="round"/>
<path d="M254.04,317.77 L258.66,315.51 Q261.27,318.35 259.68,321.49 Q260.41,325.14 256.59,326.70 M252.35,325.47 L256.59,326.70 Q255.28,331.27 250.85,332.37 Q247.02,335.41 242.78,332.45 M241.97,328.36 L242.78,332.45 Q239.30,334.01 237.52,330.94 Q234.14,330.48 233.90,326.83 M237.65,323.21 L233.90,326.83 Q230.04,325.15 230.80,321.36 Q228.69,318.05 231.83,315.14 M236.98,315.58 L231.83,315.14 Q230.52,310.55 234.56,308.75 Q236.23,304.77 240.79,305.66 M243.58,310.48 L240.79,305.66 Q243.53,302.51 246.93,304.38 Q250.79,303.05 252.59,307.07 M250.37,311.75 L252.59,307.07 Q256.27,307.03 256.96,310.33 Q260.37,311.81 258.66,315.51 M239.03,323.93 L242.14,320.38 L243.13,314.65 L245.20,315.25 L245.69,318.31 L250.83,318.31 L247.77,320.87 L241.05,326.01" fill="none" stroke="#262b24" stroke-width="0.9" stroke-linejoin="round"/>
<path d="M284.44,326.40 L287.76,329.20 Q286.33,333.03 282.61,333.11 Q279.37,334.81 276.17,332.44 M275.85,328.35 L276.17,332.44 Q272.21,334.02 270.28,330.50 Q266.27,329.88 266.51,325.58 M269.57,322.76 L266.51,325.58 Q262.66,323.55 264.20,319.78 Q261.86,316.21 265.70,313.73 M270.17,315.31 L265.70,313.73 Q264.62,310.19 267.51,308.90 Q268.20,305.53 272.11,306.56 M274.59,311.05 L272.11,306.56 Q274.40,302.59 278.31,304.42 Q282.08,302.80 284.60,306.31 M283.52,310.55 L284.60,306.31 Q288.53,305.90 289.75,309.28 Q292.90,311.02 291.88,314.84 M287.60,317.35 L291.88,314.84 Q294.87,318.71 292.62,322.82 Q292.44,327.55 287.76,329.20 M272.43,323.93 L275.54,320.38 L276.53,314.65 L278.60,315.25 L279.09,318.31 L284.23,318.31 L281.17,320.87 L274.45,326.01" fill="none" stroke="#262b24" stroke-width="0.9" stroke-linejoin="round"/>
<path d="M434.08,329.06 L437.62,332.35 Q436.40,335.42 433.40,335.09 Q430.95,337.25 428.39,334.70 M428.01,330.13 L428.39,334.70 Q425.19,335.89 423.22,333.41 Q420.07,332.73 419.88,329.25 M423.22,326.87 L419.88,329.25 Q416.71,327.14 416.99,323.61 Q415.39,320.04 418.90,317.56 M422.40,318.50 L418.90,317.56 Q419.09,313.55 422.40,311.74 Q425.00,308.74 429.02,310.23 M429.84,314.79 L429.02,310.23 Q431.06,307.82 432.96,309.74 Q435.49,308.74 436.34,311.81 M434.88,315.78 L436.34,311.81 Q440.42,311.83 441.39,315.41 Q444.40,317.76 442.49,321.51 M438.84,323.02 L442.49,321.51 Q444.94,325.05 442.04,327.82 Q441.81,331.77 437.62,332.35 M424.71,327.07 L427.48,323.91 L428.36,318.81 L430.20,319.34 L430.64,322.06 L435.21,322.06 L432.48,324.34 L426.51,328.91" fill="none" stroke="#262b24" stroke-width="0.9" stroke-linejoin="round"/>
<path d="M458.48,315.87 L454.71,312.71 Q456.62,308.75 460.68,309.68 Q464.37,308.08 467.19,311.23 M465.83,315.99 L467.19,311.23 Q471.01,310.77 472.19,314.09 Q475.47,315.72 474.16,319.50 M470.69,320.71 L474.16,319.50 Q476.92,321.77 475.33,324.44 Q475.71,327.33 472.78,328.83 M469.64,327.17 L472.78,328.83 Q472.51,332.69 469.02,333.59 Q466.66,336.36 463.08,334.80 M461.94,330.25 L463.08,334.80 Q459.63,337.03 456.92,334.28 Q453.24,333.86 452.43,330.03 M455.71,326.60 L452.43,330.03 Q449.04,329.23 449.75,326.21 Q447.45,324.07 449.91,321.55 M454.47,321.36 L449.91,321.55 Q448.18,318.36 451.00,316.42 Q451.12,313.02 454.71,312.71 M456.71,327.07 L459.48,323.91 L460.36,318.81 L462.20,319.34 L462.64,322.06 L467.21,322.06 L464.48,324.34 L458.51,328.91" fill="none" stroke="#262b24" stroke-width="0.9" stroke-linejoin="round"/>
<path d="M495.22,330.07 L498.33,332.96 Q496.63,336.04 493.47,335.62 Q490.52,336.84 488.10,334.26 M488.28,330.36 L488.10,334.26 Q484.31,334.95 482.50,331.91 Q479.68,330.00 480.08,326.34 M483.48,323.90 L480.08,326.34 Q477.26,324.14 478.63,321.28 Q477.55,318.14 480.99,316.58 M485.48,317.74 L480.99,316.58 Q480.66,312.42 484.49,311.85 Q486.39,308.44 490.16,310.28 M490.71,314.24 L490.16,310.28 Q493.06,308.17 495.76,310.10 Q499.12,310.01 500.21,313.49 M497.32,317.44 L500.21,313.49 Q504.06,313.81 503.81,317.22 Q506.17,319.42 504.13,322.40 M500.02,322.83 L504.13,322.40 Q505.65,325.99 503.22,328.77 Q502.42,332.54 498.33,332.96 M486.31,327.07 L489.08,323.91 L489.96,318.81 L491.80,319.34 L492.24,322.06 L496.81,322.06 L494.08,324.34 L488.11,328.91" fill="none" stroke="#262b24" stroke-width="0.9" stroke-linejoin="round"/>
<path d="M642.65,307.22 L644.40,303.93 Q647.97,304.85 647.98,308.28 Q650.00,311.10 647.49,313.89 M644.52,314.12 L647.49,313.89 Q648.49,317.12 645.53,318.40 Q644.54,321.31 641.34,320.96 M639.55,317.69 L641.34,320.96 Q639.87,323.69 637.52,322.25 Q635.20,323.35 633.72,320.90 M634.66,317.88 L633.72,320.90 Q630.55,321.69 629.82,318.78 Q627.06,317.81 627.97,314.76 M630.88,313.47 L627.97,314.76 Q625.86,312.22 627.17,309.34 Q626.96,306.10 630.06,304.68 M632.69,307.05 L630.06,304.68 Q630.55,301.39 633.52,301.35 Q635.78,299.87 638.32,301.36 M638.28,304.38 L638.32,301.36 Q640.38,299.96 641.74,301.75 Q644.16,301.18 644.40,303.93 M633.07,315.27 L635.35,312.66 L636.08,308.46 L637.60,308.89 L637.96,311.14 L641.73,311.14 L639.48,313.02 L634.56,316.79" fill="none" stroke="#262b24" stroke-width="0.9" stroke-linejoin="round"/>
<path d="M662.22,299.64 L659.12,296.33 Q660.43,292.43 664.19,292.69 Q667.26,290.04 670.41,293.22 M670.82,297.35 L670.41,293.22 Q675.14,291.71 677.41,295.76 Q681.66,297.53 680.85,302.37 M676.45,304.16 L680.85,302.37 Q684.06,304.29 681.99,307.03 Q683.78,309.90 680.50,311.59 M675.77,309.90 L680.50,311.59 Q681.25,316.05 677.37,317.45 Q675.36,321.00 671.10,319.64 M669.58,315.46 L671.10,319.64 Q667.97,322.68 664.65,320.45 Q660.66,320.96 659.27,316.80 M662.25,312.45 L659.27,316.80 Q654.33,315.72 654.23,311.05 Q652.37,307.21 654.85,303.44 M659.65,303.89 L654.85,303.44 Q653.21,300.51 655.88,299.22 Q655.66,296.17 659.12,296.33 M661.99,311.50 L665.02,308.04 L665.98,302.46 L668.00,303.04 L668.48,306.02 L673.48,306.02 L670.50,308.52 L663.96,313.52" fill="none" stroke="#262b24" stroke-width="0.9" stroke-linejoin="round"/>
<path d="M849.86,296.80 L853.06,298.00 Q852.55,300.83 850.01,301.49 Q848.01,303.20 845.40,301.96 M844.49,298.91 L845.40,301.96 Q843.36,304.06 841.81,301.96 Q839.34,302.77 838.86,299.91 M840.67,296.22 L838.86,299.91 Q836.10,299.49 835.52,297.01 Q833.38,295.31 834.87,292.65 M838.15,291.88 L834.87,292.65 Q833.24,289.84 835.12,287.47 Q835.32,284.27 838.75,283.77 M841.51,286.67 L838.75,283.77 Q839.74,280.98 842.45,281.56 Q844.57,279.63 846.75,281.78 M846.31,284.73 L846.75,281.78 Q849.76,280.62 851.45,283.01 Q854.30,283.84 854.03,287.12 M851.18,289.58 L854.03,287.12 Q856.62,289.51 855.70,292.75 Q856.18,296.16 853.06,298.00 M840.47,295.57 L842.75,292.96 L843.48,288.76 L845.00,289.19 L845.36,291.44 L849.13,291.44 L846.88,293.32 L841.96,297.09" fill="none" stroke="#262b24" stroke-width="0.9" stroke-linejoin="round"/>
<path d="M883.32,293.74 L887.92,292.99 Q889.99,296.91 886.54,299.08 Q885.63,302.68 881.65,302.95 M878.34,299.39 L881.65,302.95 Q879.24,307.26 874.88,305.93 Q870.60,307.47 867.97,303.32 M868.91,298.94 L867.97,303.32 Q863.19,303.52 862.23,299.29 Q858.91,296.59 861.03,292.38 M865.53,291.09 L861.03,292.38 Q858.53,289.64 860.85,287.31 Q860.43,284.19 863.84,283.22 M868.58,285.80 L863.84,283.22 Q864.35,279.20 867.99,278.70 Q870.49,275.83 874.09,278.01 M875.42,282.93 L874.09,278.01 Q878.05,276.12 881.01,279.15 Q885.48,279.53 885.86,284.21 M882.11,287.64 L885.86,284.21 Q889.39,285.20 888.52,288.22 Q890.93,290.52 887.92,292.99 M868.49,296.50 L871.52,293.04 L872.48,287.46 L874.50,288.04 L874.98,291.02 L879.98,291.02 L877.00,293.52 L870.46,298.52" fill="none" stroke="#262b24" stroke-width="0.9" stroke-linejoin="round"/>
<path d="M957.51,283.07 L955.70,280.57 Q957.61,277.37 960.92,278.39 Q964.15,277.65 966.12,280.59 M964.90,282.95 L966.12,280.59 Q968.77,280.36 969.32,282.61 Q971.36,283.74 970.41,286.23 M968.06,287.85 L970.41,286.23 Q972.91,287.97 971.38,290.19 Q972.08,292.59 969.55,293.82 M966.31,292.71 L969.55,293.82 Q969.41,297.05 966.55,297.92 Q964.65,300.47 961.57,298.88 M961.00,295.06 L961.57,298.88 Q959.44,300.61 957.59,299.03 Q955.29,298.98 954.48,296.54 M956.97,293.57 L954.48,296.54 Q951.18,295.86 951.28,292.66 Q949.33,290.31 951.09,287.63 M955.01,287.57 L951.09,287.63 Q949.87,284.87 952.22,283.34 Q952.73,280.62 955.70,280.57 M956.49,292.67 L958.71,290.13 L959.42,286.04 L960.90,286.46 L961.25,288.65 L964.92,288.65 L962.73,290.48 L957.94,294.15" fill="none" stroke="#262b24" stroke-width="0.9" stroke-linejoin="round"/>
<path d="M1102.75,264.16 L1100.21,259.23 Q1103.51,256.04 1107.36,257.83 Q1111.77,257.28 1113.47,261.82 M1110.43,265.81 L1113.47,261.82 Q1117.73,262.65 1118.21,266.58 Q1120.78,269.62 1118.43,273.29 M1114.30,274.03 L1118.43,273.29 Q1120.33,276.35 1118.08,278.57 Q1118.02,281.79 1114.38,282.35 M1110.64,278.76 L1114.38,282.35 Q1113.79,285.90 1110.63,286.04 Q1108.50,288.55 1105.38,286.42 M1104.64,281.97 L1105.38,286.42 Q1101.08,288.28 1097.71,285.26 Q1093.24,284.22 1092.46,279.55 M1095.50,276.95 L1092.46,279.55 Q1088.56,278.03 1090.21,274.48 Q1088.11,271.55 1091.00,268.99 M1095.70,269.19 L1091.00,268.99 Q1089.87,264.41 1093.72,262.34 Q1095.82,258.78 1100.21,259.23 M1098.29,277.67 L1101.42,274.09 L1102.41,268.33 L1104.50,268.92 L1105.00,272.00 L1110.16,272.00 L1107.08,274.59 L1100.33,279.75" fill="none" stroke="#262b24" stroke-width="0.9" stroke-linejoin="round"/>
<path d="M1160.91,264.93 L1165.33,262.58 Q1168.85,265.82 1166.69,269.62 Q1166.69,273.69 1162.74,275.60 M1159.06,273.34 L1162.74,275.60 Q1162.14,280.05 1157.99,280.12 Q1155.18,283.20 1151.46,280.64 M1151.48,276.88 L1151.46,280.64 Q1148.66,283.23 1146.86,280.36 Q1143.84,280.95 1143.22,277.54 M1145.84,272.72 L1143.22,277.54 Q1139.16,276.99 1138.92,273.19 Q1136.06,270.70 1138.06,267.13 M1142.27,266.63 L1138.06,267.13 Q1135.45,263.52 1138.30,260.74 Q1138.84,257.07 1142.82,256.20 M1146.63,258.59 L1142.82,256.20 Q1145.00,251.85 1149.63,252.21 Q1153.93,250.13 1157.35,253.82 M1155.77,259.21 L1157.35,253.82 Q1161.48,253.23 1162.86,256.82 Q1166.62,258.34 1165.33,262.58 M1145.79,271.87 L1148.92,268.29 L1149.91,262.53 L1152.00,263.12 L1152.50,266.20 L1157.66,266.20 L1154.58,268.79 L1147.83,273.95" fill="none" stroke="#262b24" stroke-width="0.9" stroke-linejoin="round"/>
<path d="M1296.04,241.26 L1299.74,243.31 Q1298.66,247.93 1294.15,248.12 Q1290.46,250.82 1286.79,247.71 M1286.64,243.58 L1286.79,247.71 Q1283.23,248.55 1281.67,245.47 Q1278.53,244.23 1278.74,240.70 M1281.45,238.30 L1278.74,240.70 Q1275.99,238.38 1277.08,235.22 Q1275.88,231.83 1279.31,229.95 M1282.90,231.50 L1279.31,229.95 Q1279.35,226.27 1282.72,225.45 Q1284.58,222.37 1288.12,223.80 M1289.74,227.44 L1288.12,223.80 Q1289.88,221.10 1291.74,223.35 Q1294.01,222.17 1295.10,224.77 M1294.18,228.89 L1295.10,224.77 Q1299.66,224.53 1300.82,228.62 Q1304.16,231.23 1302.23,235.36 M1297.34,235.67 L1302.23,235.36 Q1304.53,237.79 1302.16,239.70 Q1302.93,242.58 1299.74,243.31 M1284.55,240.43 L1287.30,237.29 L1288.17,232.24 L1290.00,232.76 L1290.44,235.46 L1294.97,235.46 L1292.27,237.73 L1286.34,242.26" fill="none" stroke="#262b24" stroke-width="0.9" stroke-linejoin="round"/>
<path d="M1444.65,216.26 L1448.06,217.73 Q1447.59,221.39 1444.36,222.38 Q1441.92,224.93 1438.46,223.13 M1438.18,219.84 L1438.46,223.13 Q1435.22,225.06 1432.52,222.94 Q1429.03,222.49 1428.42,218.64 M1431.18,215.10 L1428.42,218.64 Q1425.27,217.54 1425.59,214.48 Q1423.59,212.09 1425.74,209.47 M1429.68,209.82 L1425.74,209.47 Q1424.66,205.20 1428.03,202.66 Q1429.99,199.00 1434.31,199.20 M1436.24,203.08 L1434.31,199.20 Q1436.78,196.77 1439.72,197.97 Q1443.12,196.94 1444.58,200.64 M1442.99,204.20 L1444.58,200.64 Q1448.04,200.02 1448.14,203.17 Q1451.09,204.15 1449.59,207.29 M1446.23,209.43 L1449.59,207.29 Q1452.43,209.78 1450.59,212.77 Q1451.34,216.09 1448.06,217.73 M1432.45,215.43 L1435.20,212.29 L1436.07,207.24 L1437.90,207.76 L1438.34,210.46 L1442.87,210.46 L1440.17,212.73 L1434.24,217.26" fill="none" stroke="#262b24" stroke-width="0.9" stroke-linejoin="round"/>
</g>
<polygon points="78.0,177.0 137.0,211.0 418.7,249.4 773.6,213.0 1080.0,179.6 1260.0,158.2 1480.0,129.7 1554.7,119.2 1555.4,156.5 1549.1,157.9 1540.4,159.9 1530.1,162.3 1518.8,164.9 1507.0,167.5 1495.4,170.0 1483.6,172.5 1471.0,175.1 1458.0,177.8 1444.9,180.4 1432.1,183.0 1420.0,185.4 1408.3,187.7 1396.5,189.9 1385.1,192.1 1374.3,194.1 1364.3,196.0 1355.4,197.7 1348.2,199.1 1342.5,200.3 1337.7,201.3 1333.0,202.3 1327.8,203.3 1321.3,204.5 1313.5,205.9 1304.8,207.3 1295.7,208.8 1286.2,210.4 1276.6,211.9 1267.3,213.5 1258.3,215.1 1249.6,216.7 1240.8,218.4 1231.7,220.1 1222.0,221.7 1211.5,223.4 1199.5,225.1 1186.0,226.9 1172.0,228.7 1158.2,230.4 1145.6,232.0 1135.0,233.3 1126.7,234.3 1120.1,235.1 1114.6,235.7 1109.8,236.3 1105.1,236.9 1100.0,237.6 1094.7,238.4 1089.6,239.3 1084.7,240.2 1079.7,241.1 1074.6,242.0 1069.2,242.8 1063.7,243.6 1058.2,244.3 1052.5,244.9 1046.5,245.6 1040.2,246.3 1033.2,247.1 1025.8,247.9 1018.2,248.7 1010.1,249.6 1001.4,250.5 991.9,251.5 981.6,252.7 970.1,254.1 957.4,255.6 944.0,257.3 930.2,258.9 916.5,260.5 903.1,262.0 889.8,263.3 876.1,264.6 862.5,265.7 849.2,266.9 836.7,267.9 825.2,269.0 815.4,270.0 807.0,270.8 799.4,271.6 791.7,272.5 783.3,273.4 773.5,274.5 762.0,275.8 749.5,277.2 736.2,278.8 722.5,280.3 708.9,281.9 695.6,283.3 682.3,284.7 668.7,286.0 655.1,287.3 641.9,288.6 629.3,289.8 617.8,290.8 607.5,291.7 598.1,292.5 589.5,293.2 581.2,293.9 573.2,294.4 565.0,295.0 556.9,295.5 549.1,295.9 541.4,296.2 533.7,296.5 526.0,296.9 518.0,297.3 509.9,297.9 501.8,298.6 493.6,299.3 485.2,300.0 476.4,300.6 467.0,301.0 456.7,301.2 445.5,301.2 433.9,301.0 422.5,300.8 411.7,300.6 402.0,300.5 393.7,300.4 386.3,300.4 379.5,300.3 373.1,300.2 366.7,300.0 360.0,299.8 352.8,299.4 345.4,298.9 338.0,298.4 330.9,297.8 324.4,297.3 318.7,296.9 314.3,296.7 311.0,296.6 308.3,296.5 305.6,296.4 302.4,296.2 298.2,295.7 292.8,294.9 286.7,293.9 280.1,292.8 273.3,291.6 266.5,290.5 260.0,289.5 253.8,288.6 247.7,287.7 241.7,286.9 235.6,286.2 229.5,285.6 223.2,285.4 216.9,285.4 210.6,285.4 204.3,285.7 197.8,286.3 191.1,287.2 184.0,288.5 176.4,290.3 168.2,292.6 159.8,295.3 151.4,298.2 143.4,301.1 136.0,304.0 129.2,306.9 122.6,309.9 116.4,313.0 110.6,316.1 105.1,319.3 100.0,322.5 95.1,325.9 90.5,329.6 86.2,333.4 82.5,336.9 79.4,339.9 77.0,342.0" fill="#d0d0d0"/>
<line x1="78" y1="130.5" x2="1555" y2="130.5" stroke="#c9c9c9" stroke-width="0.8" clip-path="url(#roadclip)"/>
<line x1="78" y1="147.5" x2="1555" y2="147.5" stroke="#c9c9c9" stroke-width="0.8" clip-path="url(#roadclip)"/>
<line x1="78" y1="165.5" x2="1555" y2="165.5" stroke="#c9c9c9" stroke-width="0.8" clip-path="url(#roadclip)"/>
<line x1="78" y1="183.5" x2="1555" y2="183.5" stroke="#c9c9c9" stroke-width="0.8" clip-path="url(#roadclip)"/>
<line x1="78" y1="211.5" x2="1555" y2="211.5" stroke="#c9c9c9" stroke-width="0.8" clip-path="url(#roadclip)"/>
<line x1="78" y1="228.5" x2="1555" y2="228.5" stroke="#c9c9c9" stroke-width="0.8" clip-path="url(#roadclip)"/>
<line x1="78" y1="246.5" x2="1555" y2="246.5" stroke="#c9c9c9" stroke-width="0.8" clip-path="url(#roadclip)"/>
<line x1="78" y1="253.5" x2="1555" y2="253.5" stroke="#c9c9c9" stroke-width="0.8" clip-path="url(#roadclip)"/>
<line x1="78" y1="268.5" x2="1555" y2="268.5" stroke="#c9c9c9" stroke-width="0.8" clip-path="url(#roadclip)"/>
<line x1="78" y1="285.5" x2="1555" y2="285.5" stroke="#c9c9c9" stroke-width="0.8" clip-path="url(#roadclip)"/>
<line x1="78" y1="296.5" x2="1555" y2="296.5" stroke="#c9c9c9" stroke-width="0.8" clip-path="url(#roadclip)"/>
<line x1="78" y1="305.5" x2="1555" y2="305.5" stroke="#c9c9c9" stroke-width="0.8" clip-path="url(#roadclip)"/>
<line x1="78" y1="314.5" x2="1555" y2="314.5" stroke="#c9c9c9" stroke-width="0.8" clip-path="url(#roadclip)"/>
<line x1="78" y1="323.5" x2="1555" y2="323.5" stroke="#c9c9c9" stroke-width="0.8" clip-path="url(#roadclip)"/>
<line x1="78" y1="332.5" x2="1555" y2="332.5" stroke="#c9c9c9" stroke-width="0.8" clip-path="url(#roadclip)"/>
<clipPath id="roadclip"><polygon points="78.0,177.0 137.0,211.0 418.7,249.4 773.6,213.0 1080.0,179.6 1260.0,158.2 1480.0,129.7 1554.7,119.2 1555.4,156.5 1549.1,157.9 1540.4,159.9 1530.1,162.3 1518.8,164.9 1507.0,167.5 1495.4,170.0 1483.6,172.5 1471.0,175.1 1458.0,177.8 1444.9,180.4 1432.1,183.0 1420.0,185.4 1408.3,187.7 1396.5,189.9 1385.1,192.1 1374.3,194.1 1364.3,196.0 1355.4,197.7 1348.2,199.1 1342.5,200.3 1337.7,201.3 1333.0,202.3 1327.8,203.3 1321.3,204.5 1313.5,205.9 1304.8,207.3 1295.7,208.8 1286.2,210.4 1276.6,211.9 1267.3,213.5 1258.3,215.1 1249.6,216.7 1240.8,218.4 1231.7,220.1 1222.0,221.7 1211.5,223.4 1199.5,225.1 1186.0,226.9 1172.0,228.7 1158.2,230.4 1145.6,232.0 1135.0,233.3 1126.7,234.3 1120.1,235.1 1114.6,235.7 1109.8,236.3 1105.1,236.9 1100.0,237.6 1094.7,238.4 1089.6,239.3 1084.7,240.2 1079.7,241.1 1074.6,242.0 1069.2,242.8 1063.7,243.6 1058.2,244.3 1052.5,244.9 1046.5,245.6 1040.2,246.3 1033.2,247.1 1025.8,247.9 1018.2,248.7 1010.1,249.6 1001.4,250.5 991.9,251.5 981.6,252.7 970.1,254.1 957.4,255.6 944.0,257.3 930.2,258.9 916.5,260.5 903.1,262.0 889.8,263.3 876.1,264.6 862.5,265.7 849.2,266.9 836.7,267.9 825.2,269.0 815.4,270.0 807.0,270.8 799.4,271.6 791.7,272.5 783.3,273.4 773.5,274.5 762.0,275.8 749.5,277.2 736.2,278.8 722.5,280.3 708.9,281.9 695.6,283.3 682.3,284.7 668.7,286.0 655.1,287.3 641.9,288.6 629.3,289.8 617.8,290.8 607.5,291.7 598.1,292.5 589.5,293.2 581.2,293.9 573.2,294.4 565.0,295.0 556.9,295.5 549.1,295.9 541.4,296.2 533.7,296.5 526.0,296.9 518.0,297.3 509.9,297.9 501.8,298.6 493.6,299.3 485.2,300.0 476.4,300.6 467.0,301.0 456.7,301.2 445.5,301.2 433.9,301.0 422.5,300.8 411.7,300.6 402.0,300.5 393.7,300.4 386.3,300.4 379.5,300.3 373.1,300.2 366.7,300.0 360.0,299.8 352.8,299.4 345.4,298.9 338.0,298.4 330.9,297.8 324.4,297.3 318.7,296.9 314.3,296.7 311.0,296.6 308.3,296.5 305.6,296.4 302.4,296.2 298.2,295.7 292.8,294.9 286.7,293.9 280.1,292.8 273.3,291.6 266.5,290.5 260.0,289.5 253.8,288.6 247.7,287.7 241.7,286.9 235.6,286.2 229.5,285.6 223.2,285.4 216.9,285.4 210.6,285.4 204.3,285.7 197.8,286.3 191.1,287.2 184.0,288.5 176.4,290.3 168.2,292.6 159.8,295.3 151.4,298.2 143.4,301.1 136.0,304.0 129.2,306.9 122.6,309.9 116.4,313.0 110.6,316.1 105.1,319.3 100.0,322.5 95.1,325.9 90.5,329.6 86.2,333.4 82.5,336.9 79.4,339.9 77.0,342.0"/></clipPath>
<polyline points="78.0,177.0 137.0,211.0 418.7,249.4 773.6,213.0 1080.0,179.6 1260.0,158.2 1480.0,129.7 1554.7,119.2" fill="none" stroke="#4a4a4a" stroke-width="0.9"/>
<polyline points="78,177 77,342" fill="none" stroke="#777" stroke-width="0.9"/>
<polyline points="1555.4,119.2 1555.4,156.5" fill="none" stroke="#777" stroke-width="0.9"/>
<polyline points="1555.4,156.5 1549.1,157.9 1540.4,159.9 1530.1,162.3 1518.8,164.9 1507.0,167.5 1495.4,170.0 1483.6,172.5 1471.0,175.1 1458.0,177.8 1444.9,180.4 1432.1,183.0 1420.0,185.4 1408.3,187.7 1396.5,189.9 1385.1,192.1 1374.3,194.1 1364.3,196.0 1355.4,197.7 1348.2,199.1 1342.5,200.3 1337.7,201.3 1333.0,202.3 1327.8,203.3 1321.3,204.5 1313.5,205.9 1304.8,207.3 1295.7,208.8 1286.2,210.4 1276.6,211.9 1267.3,213.5 1258.3,215.1 1249.6,216.7 1240.8,218.4 1231.7,220.1 1222.0,221.7 1211.5,223.4 1199.5,225.1 1186.0,226.9 1172.0,228.7 1158.2,230.4 1145.6,232.0 1135.0,233.3 1126.7,234.3 1120.1,235.1 1114.6,235.7 1109.8,236.3 1105.1,236.9 1100.0,237.6 1094.7,238.4 1089.6,239.3 1084.7,240.2 1079.7,241.1 1074.6,242.0 1069.2,242.8 1063.7,243.6 1058.2,244.3 1052.5,244.9 1046.5,245.6 1040.2,246.3 1033.2,247.1 1025.8,247.9 1018.2,248.7 1010.1,249.6 1001.4,250.5 991.9,251.5 981.6,252.7 970.1,254.1 957.4,255.6 944.0,257.3 930.2,258.9 916.5,260.5 903.1,262.0 889.8,263.3 876.1,264.6 862.5,265.7 849.2,266.9 836.7,267.9 825.2,269.0 815.4,270.0 807.0,270.8 799.4,271.6 791.7,272.5 783.3,273.4 773.5,274.5 762.0,275.8 749.5,277.2 736.2,278.8 722.5,280.3 708.9,281.9 695.6,283.3 682.3,284.7 668.7,286.0 655.1,287.3 641.9,288.6 629.3,289.8 617.8,290.8 607.5,291.7 598.1,292.5 589.5,293.2 581.2,293.9 573.2,294.4 565.0,295.0 556.9,295.5 549.1,295.9 541.4,296.2 533.7,296.5 526.0,296.9 518.0,297.3 509.9,297.9 501.8,298.6 493.6,299.3 485.2,300.0 476.4,300.6 467.0,301.0 456.7,301.2 445.5,301.2 433.9,301.0 422.5,300.8 411.7,300.6 402.0,300.5 393.7,300.4 386.3,300.4 379.5,300.3 373.1,300.2 366.7,300.0 360.0,299.8 352.8,299.4 345.4,298.9 338.0,298.4 330.9,297.8 324.4,297.3 318.7,296.9 314.3,296.7 311.0,296.6 308.3,296.5 305.6,296.4 302.4,296.2 298.2,295.7 292.8,294.9 286.7,293.9 280.1,292.8 273.3,291.6 266.5,290.5 260.0,289.5 253.8,288.6 247.7,287.7 241.7,286.9 235.6,286.2 229.5,285.6 223.2,285.4 216.9,285.4 210.6,285.4 204.3,285.7 197.8,286.3 191.1,287.2 184.0,288.5 176.4,290.3 168.2,292.6 159.8,295.3 151.4,298.2 143.4,301.1 136.0,304.0 129.2,306.9 122.6,309.9 116.4,313.0 110.6,316.1 105.1,319.3 100.0,322.5 95.1,325.9 90.5,329.6 86.2,333.4 82.5,336.9 79.4,339.9 77.0,342.0" fill="none" stroke="#111" stroke-width="1.3"/>
<polyline points="1555.4,156 1555.4,723.2 79.5,501.1 77,342" fill="none" stroke="#2a2a2a" stroke-width="1.8" stroke-linejoin="miter"/>
<circle cx="333.1" cy="278.7" r="10.3" fill="none" stroke="#111" stroke-width="1.7"/>
<text x="333.10" y="279.30" font-size="5.4" text-anchor="middle" fill="#111" stroke="#111" stroke-width="0.28" font-family="Liberation Sans" font-weight="bold" textLength="16.2" lengthAdjust="spacingAndGlyphs">HOUSE</text>
<text x="333.10" y="285.20" font-size="5.0" text-anchor="middle" fill="#332200" stroke="#332200" stroke-width="0.28" font-family="Liberation Sans" font-weight="bold" >1</text>
<circle cx="547.8" cy="280.2" r="10.3" fill="none" stroke="#111" stroke-width="1.7"/>
<text x="547.80" y="280.80" font-size="5.4" text-anchor="middle" fill="#111" stroke="#111" stroke-width="0.28" font-family="Liberation Sans" font-weight="bold" textLength="16.2" lengthAdjust="spacingAndGlyphs">HOUSE</text>
<text x="547.80" y="286.70" font-size="5.0" text-anchor="middle" fill="#332200" stroke="#332200" stroke-width="0.28" font-family="Liberation Sans" font-weight="bold" >2</text>
<circle cx="707.2" cy="263.8" r="10.3" fill="none" stroke="#111" stroke-width="1.7"/>
<text x="707.20" y="264.40" font-size="5.4" text-anchor="middle" fill="#111" stroke="#111" stroke-width="0.28" font-family="Liberation Sans" font-weight="bold" textLength="16.2" lengthAdjust="spacingAndGlyphs">HOUSE</text>
<text x="707.20" y="270.30" font-size="5.0" text-anchor="middle" fill="#332200" stroke="#332200" stroke-width="0.28" font-family="Liberation Sans" font-weight="bold" >3</text>
<circle cx="915.4" cy="242.3" r="10.3" fill="none" stroke="#111" stroke-width="1.7"/>
<text x="915.40" y="242.90" font-size="5.4" text-anchor="middle" fill="#111" stroke="#111" stroke-width="0.28" font-family="Liberation Sans" font-weight="bold" textLength="16.2" lengthAdjust="spacingAndGlyphs">HOUSE</text>
<text x="915.40" y="248.80" font-size="5.0" text-anchor="middle" fill="#332200" stroke="#332200" stroke-width="0.28" font-family="Liberation Sans" font-weight="bold" >4</text>
<circle cx="1052.1" cy="227.9" r="10.3" fill="none" stroke="#111" stroke-width="1.7"/>
<text x="1052.10" y="228.50" font-size="5.4" text-anchor="middle" fill="#111" stroke="#111" stroke-width="0.28" font-family="Liberation Sans" font-weight="bold" textLength="16.2" lengthAdjust="spacingAndGlyphs">HOUSE</text>
<text x="1052.10" y="234.40" font-size="5.0" text-anchor="middle" fill="#332200" stroke="#332200" stroke-width="0.28" font-family="Liberation Sans" font-weight="bold" >5</text>
<circle cx="1194.4" cy="207.5" r="10.3" fill="none" stroke="#111" stroke-width="1.7"/>
<text x="1194.40" y="208.10" font-size="5.4" text-anchor="middle" fill="#111" stroke="#111" stroke-width="0.28" font-family="Liberation Sans" font-weight="bold" textLength="16.2" lengthAdjust="spacingAndGlyphs">HOUSE</text>
<text x="1194.40" y="214.00" font-size="5.0" text-anchor="middle" fill="#332200" stroke="#332200" stroke-width="0.28" font-family="Liberation Sans" font-weight="bold" >6</text>
<circle cx="1332.5" cy="183.1" r="10.3" fill="none" stroke="#111" stroke-width="1.7"/>
<text x="1332.50" y="183.70" font-size="5.4" text-anchor="middle" fill="#111" stroke="#111" stroke-width="0.28" font-family="Liberation Sans" font-weight="bold" textLength="16.2" lengthAdjust="spacingAndGlyphs">HOUSE</text>
<text x="1332.50" y="189.60" font-size="5.0" text-anchor="middle" fill="#332200" stroke="#332200" stroke-width="0.28" font-family="Liberation Sans" font-weight="bold" >7</text>
<circle cx="1479.7" cy="157.4" r="10.3" fill="none" stroke="#111" stroke-width="1.7"/>
<text x="1479.70" y="158.00" font-size="5.4" text-anchor="middle" fill="#111" stroke="#111" stroke-width="0.28" font-family="Liberation Sans" font-weight="bold" textLength="16.2" lengthAdjust="spacingAndGlyphs">HOUSE</text>
<text x="1479.70" y="163.90" font-size="5.0" text-anchor="middle" fill="#332200" stroke="#332200" stroke-width="0.28" font-family="Liberation Sans" font-weight="bold" >8</text>
<g clip-path="url(#siteclip)">
<rect x="345.80" y="140.00" width="1.60" height="620.00" fill="#fff" stroke="none" stroke-width="1" />
<line x1="345.80" y1="140.00" x2="345.80" y2="760.00" stroke="#666" stroke-width="0.8" />
<rect x="562.90" y="140.00" width="1.60" height="620.00" fill="#fff" stroke="none" stroke-width="1" />
<line x1="562.90" y1="140.00" x2="562.90" y2="760.00" stroke="#666" stroke-width="0.8" />
<rect x="771.30" y="140.00" width="1.60" height="620.00" fill="#fff" stroke="none" stroke-width="1" />
<line x1="771.30" y1="140.00" x2="771.30" y2="760.00" stroke="#666" stroke-width="0.8" />
<rect x="979.10" y="140.00" width="1.60" height="620.00" fill="#fff" stroke="none" stroke-width="1" />
<line x1="979.10" y1="140.00" x2="979.10" y2="760.00" stroke="#666" stroke-width="0.8" />
<rect x="1265.30" y="140.00" width="1.60" height="620.00" fill="#fff" stroke="none" stroke-width="1" />
<line x1="1265.30" y1="140.00" x2="1265.30" y2="760.00" stroke="#666" stroke-width="0.8" />
<rect x="1409.90" y="140.00" width="1.70" height="620.00" fill="#fff" stroke="none" stroke-width="1" />
<line x1="1411.60" y1="140.00" x2="1411.60" y2="760.00" stroke="#666" stroke-width="0.8" />
<line x1="1122.60" y1="580.00" x2="1122.60" y2="760.00" stroke="#555" stroke-width="0.8" />
<line x1="1126.80" y1="580.00" x2="1126.80" y2="760.00" stroke="#555" stroke-width="0.8" />
</g>
<line x1="1124.60" y1="591.00" x2="1124.60" y2="656.50" stroke="#ff0000" stroke-width="3.1" />
<line x1="349.50" y1="104.40" x2="349.50" y2="722.70" stroke="#ff0000" stroke-width="2.9" stroke-dasharray="10.9 1.8 2.5 2.13"/>
<line x1="565.10" y1="104.40" x2="565.10" y2="722.70" stroke="#ff0000" stroke-width="2.9" stroke-dasharray="10.9 1.8 2.5 2.13"/>
<line x1="773.60" y1="104.40" x2="773.60" y2="722.70" stroke="#ff0000" stroke-width="2.9" stroke-dasharray="10.9 1.8 2.5 2.13"/>
<line x1="981.60" y1="104.40" x2="981.60" y2="722.70" stroke="#ff0000" stroke-width="2.9" stroke-dasharray="10.9 1.8 2.5 2.13"/>
<line x1="1124.50" y1="104.40" x2="1124.50" y2="722.70" stroke="#ff0000" stroke-width="2.9" stroke-dasharray="10.9 1.8 2.5 2.13"/>
<line x1="1267.50" y1="104.40" x2="1267.50" y2="722.70" stroke="#ff0000" stroke-width="2.9" stroke-dasharray="10.9 1.8 2.5 2.13"/>
<line x1="1409.40" y1="104.40" x2="1409.40" y2="722.70" stroke="#ff0000" stroke-width="2.9" stroke-dasharray="10.9 1.8 2.5 2.13"/>
<rect x="136.50" y="353.60" width="33.90" height="100.20" fill="#fff" stroke="#111" stroke-width="1" shape-rendering="crispEdges"/>
<rect x="139.50" y="356.60" width="30.90" height="94.20" fill="none" stroke="#111" stroke-width="1" shape-rendering="crispEdges"/>
<rect x="351.00" y="339.50" width="35.70" height="114.90" fill="#fff" stroke="#111" stroke-width="1" shape-rendering="crispEdges"/>
<rect x="354.00" y="342.50" width="32.70" height="108.90" fill="none" stroke="#111" stroke-width="1" shape-rendering="crispEdges"/>
<rect x="567.00" y="430.50" width="36.40" height="12.70" fill="#e0e0e0" stroke="none" stroke-width="1" />
<rect x="567.00" y="340.80" width="36.40" height="89.70" fill="#fff" stroke="#111" stroke-width="1" shape-rendering="crispEdges"/>
<rect x="570.00" y="343.80" width="33.40" height="83.70" fill="none" stroke="#111" stroke-width="1" shape-rendering="crispEdges"/>
<rect x="774.50" y="405.80" width="37.10" height="16.70" fill="#e0e0e0" stroke="none" stroke-width="1" />
<rect x="774.50" y="308.60" width="37.10" height="97.20" fill="#fff" stroke="#111" stroke-width="1" shape-rendering="crispEdges"/>
<rect x="777.50" y="311.60" width="34.10" height="91.20" fill="none" stroke="#111" stroke-width="1" shape-rendering="crispEdges"/>
<rect x="983.50" y="400.50" width="36.10" height="12.00" fill="#e0e0e0" stroke="none" stroke-width="1" />
<rect x="983.50" y="297.00" width="36.10" height="103.50" fill="#fff" stroke="#111" stroke-width="1" shape-rendering="crispEdges"/>
<rect x="986.50" y="300.00" width="33.10" height="97.50" fill="none" stroke="#111" stroke-width="1" shape-rendering="crispEdges"/>
<rect x="1230.00" y="296.40" width="36.40" height="103.10" fill="#fff" stroke="#111" stroke-width="1" shape-rendering="crispEdges"/>
<rect x="1230.00" y="299.40" width="33.40" height="97.10" fill="none" stroke="#111" stroke-width="1" shape-rendering="crispEdges"/>
<rect x="1371.40" y="258.60" width="36.10" height="102.40" fill="#fff" stroke="#111" stroke-width="1" shape-rendering="crispEdges"/>
<rect x="1371.40" y="261.60" width="33.10" height="96.40" fill="none" stroke="#111" stroke-width="1" shape-rendering="crispEdges"/>
<rect x="1513.50" y="233.60" width="41.50" height="102.40" fill="#fff" stroke="#111" stroke-width="1" shape-rendering="crispEdges"/>
<rect x="1513.50" y="236.60" width="38.50" height="96.40" fill="none" stroke="#111" stroke-width="1" shape-rendering="crispEdges"/>
<rect x="184.50" y="476.90" width="160.60" height="29.10" fill="#fff" stroke="#111" stroke-width="1" shape-rendering="crispEdges"/>
<line x1="197.88" y1="476.90" x2="197.88" y2="506.00" stroke="#444" stroke-width="0.7" shape-rendering="crispEdges"/>
<line x1="211.27" y1="476.90" x2="211.27" y2="506.00" stroke="#444" stroke-width="0.7" shape-rendering="crispEdges"/>
<line x1="224.65" y1="476.90" x2="224.65" y2="506.00" stroke="#444" stroke-width="0.7" shape-rendering="crispEdges"/>
<line x1="238.03" y1="476.90" x2="238.03" y2="506.00" stroke="#444" stroke-width="0.7" shape-rendering="crispEdges"/>
<line x1="251.42" y1="476.90" x2="251.42" y2="506.00" stroke="#444" stroke-width="0.7" shape-rendering="crispEdges"/>
<line x1="264.80" y1="476.90" x2="264.80" y2="506.00" stroke="#444" stroke-width="0.7" shape-rendering="crispEdges"/>
<line x1="278.18" y1="476.90" x2="278.18" y2="506.00" stroke="#444" stroke-width="0.7" shape-rendering="crispEdges"/>
<line x1="291.57" y1="476.90" x2="291.57" y2="506.00" stroke="#444" stroke-width="0.7" shape-rendering="crispEdges"/>
<line x1="304.95" y1="476.90" x2="304.95" y2="506.00" stroke="#444" stroke-width="0.7" shape-rendering="crispEdges"/>
<line x1="318.33" y1="476.90" x2="318.33" y2="506.00" stroke="#444" stroke-width="0.7" shape-rendering="crispEdges"/>
<line x1="331.72" y1="476.90" x2="331.72" y2="506.00" stroke="#444" stroke-width="0.7" shape-rendering="crispEdges"/>
<line x1="184.50" y1="491.45" x2="345.10" y2="491.45" stroke="#444" stroke-width="0.7" shape-rendering="crispEdges"/>
<text x="264.80" y="491.15" font-size="3.2" text-anchor="middle" fill="#111" stroke="#111" stroke-width="0.28" font-family="Liberation Sans" font-weight="bold" >ΑΚΑΛΥΠΤΗ</text>
<text x="264.80" y="495.05" font-size="3.2" text-anchor="middle" fill="#111" stroke="#111" stroke-width="0.28" font-family="Liberation Sans" font-weight="bold" >ΒΕΡΑΝΤΑ</text>
<rect x="401.50" y="497.00" width="161.10" height="9.20" fill="#fff" stroke="#111" stroke-width="1" shape-rendering="crispEdges"/>
<line x1="414.93" y1="497.00" x2="414.93" y2="506.20" stroke="#444" stroke-width="0.7" shape-rendering="crispEdges"/>
<line x1="428.35" y1="497.00" x2="428.35" y2="506.20" stroke="#444" stroke-width="0.7" shape-rendering="crispEdges"/>
<line x1="441.77" y1="497.00" x2="441.77" y2="506.20" stroke="#444" stroke-width="0.7" shape-rendering="crispEdges"/>
<line x1="455.20" y1="497.00" x2="455.20" y2="506.20" stroke="#444" stroke-width="0.7" shape-rendering="crispEdges"/>
<line x1="468.62" y1="497.00" x2="468.62" y2="506.20" stroke="#444" stroke-width="0.7" shape-rendering="crispEdges"/>
<line x1="482.05" y1="497.00" x2="482.05" y2="506.20" stroke="#444" stroke-width="0.7" shape-rendering="crispEdges"/>
<line x1="495.48" y1="497.00" x2="495.48" y2="506.20" stroke="#444" stroke-width="0.7" shape-rendering="crispEdges"/>
<line x1="508.90" y1="497.00" x2="508.90" y2="506.20" stroke="#444" stroke-width="0.7" shape-rendering="crispEdges"/>
<line x1="522.33" y1="497.00" x2="522.33" y2="506.20" stroke="#444" stroke-width="0.7" shape-rendering="crispEdges"/>
<line x1="535.75" y1="497.00" x2="535.75" y2="506.20" stroke="#444" stroke-width="0.7" shape-rendering="crispEdges"/>
<line x1="549.18" y1="497.00" x2="549.18" y2="506.20" stroke="#444" stroke-width="0.7" shape-rendering="crispEdges"/>
<line x1="401.50" y1="501.60" x2="562.60" y2="501.60" stroke="#444" stroke-width="0.7" shape-rendering="crispEdges"/>
<rect x="387.40" y="477.00" width="107.90" height="20.00" fill="#fff" stroke="#222" stroke-width="0.9" />
<line x1="389.50" y1="477.50" x2="389.50" y2="496.50" stroke="#000" stroke-width="1" shape-rendering="crispEdges"/>
<line x1="392.30" y1="477.50" x2="392.30" y2="496.50" stroke="#000" stroke-width="0.8" shape-rendering="crispEdges"/>
<line x1="395.30" y1="477.50" x2="395.30" y2="496.50" stroke="#000" stroke-width="1" shape-rendering="crispEdges"/>
<line x1="397.50" y1="477.50" x2="397.50" y2="496.50" stroke="#000" stroke-width="1" shape-rendering="crispEdges"/>
<line x1="399.70" y1="477.50" x2="399.70" y2="496.50" stroke="#000" stroke-width="1" shape-rendering="crispEdges"/>
<line x1="402.70" y1="477.50" x2="402.70" y2="496.50" stroke="#000" stroke-width="1" shape-rendering="crispEdges"/>
<line x1="405.70" y1="477.50" x2="405.70" y2="496.50" stroke="#000" stroke-width="0.8" shape-rendering="crispEdges"/>
<line x1="407.70" y1="477.50" x2="407.70" y2="496.50" stroke="#000" stroke-width="1" shape-rendering="crispEdges"/>
<line x1="409.90" y1="477.50" x2="409.90" y2="496.50" stroke="#000" stroke-width="1" shape-rendering="crispEdges"/>
<line x1="412.90" y1="477.50" x2="412.90" y2="496.50" stroke="#000" stroke-width="1" shape-rendering="crispEdges"/>
<line x1="415.30" y1="477.50" x2="415.30" y2="496.50" stroke="#000" stroke-width="1.5" shape-rendering="crispEdges"/>
<line x1="417.70" y1="477.50" x2="417.70" y2="496.50" stroke="#000" stroke-width="0.8" shape-rendering="crispEdges"/>
<line x1="420.10" y1="477.50" x2="420.10" y2="496.50" stroke="#000" stroke-width="1.5" shape-rendering="crispEdges"/>
<line x1="422.50" y1="477.50" x2="422.50" y2="496.50" stroke="#000" stroke-width="1" shape-rendering="crispEdges"/>
<line x1="424.70" y1="477.50" x2="424.70" y2="496.50" stroke="#000" stroke-width="0.8" shape-rendering="crispEdges"/>
<line x1="427.10" y1="477.50" x2="427.10" y2="496.50" stroke="#000" stroke-width="1" shape-rendering="crispEdges"/>
<line x1="429.50" y1="477.50" x2="429.50" y2="496.50" stroke="#000" stroke-width="1" shape-rendering="crispEdges"/>
<line x1="432.30" y1="477.50" x2="432.30" y2="496.50" stroke="#000" stroke-width="1" shape-rendering="crispEdges"/>
<line x1="434.70" y1="477.50" x2="434.70" y2="496.50" stroke="#000" stroke-width="1" shape-rendering="crispEdges"/>
<line x1="437.10" y1="477.50" x2="437.10" y2="496.50" stroke="#000" stroke-width="1" shape-rendering="crispEdges"/>
<line x1="440.10" y1="477.50" x2="440.10" y2="496.50" stroke="#000" stroke-width="1" shape-rendering="crispEdges"/>
<line x1="442.30" y1="477.50" x2="442.30" y2="496.50" stroke="#000" stroke-width="1" shape-rendering="crispEdges"/>
<line x1="445.30" y1="477.50" x2="445.30" y2="496.50" stroke="#000" stroke-width="1" shape-rendering="crispEdges"/>
<line x1="447.70" y1="477.50" x2="447.70" y2="496.50" stroke="#000" stroke-width="1" shape-rendering="crispEdges"/>
<line x1="449.90" y1="477.50" x2="449.90" y2="496.50" stroke="#000" stroke-width="1" shape-rendering="crispEdges"/>
<line x1="452.70" y1="477.50" x2="452.70" y2="496.50" stroke="#000" stroke-width="0.8" shape-rendering="crispEdges"/>
<line x1="454.70" y1="477.50" x2="454.70" y2="496.50" stroke="#000" stroke-width="1" shape-rendering="crispEdges"/>
<line x1="456.90" y1="477.50" x2="456.90" y2="496.50" stroke="#000" stroke-width="1" shape-rendering="crispEdges"/>
<line x1="459.70" y1="477.50" x2="459.70" y2="496.50" stroke="#000" stroke-width="1" shape-rendering="crispEdges"/>
<line x1="462.70" y1="477.50" x2="462.70" y2="496.50" stroke="#000" stroke-width="1" shape-rendering="crispEdges"/>
<line x1="465.10" y1="477.50" x2="465.10" y2="496.50" stroke="#000" stroke-width="1.5" shape-rendering="crispEdges"/>
<line x1="468.10" y1="477.50" x2="468.10" y2="496.50" stroke="#000" stroke-width="1" shape-rendering="crispEdges"/>
<line x1="470.30" y1="477.50" x2="470.30" y2="496.50" stroke="#000" stroke-width="1" shape-rendering="crispEdges"/>
<line x1="472.50" y1="477.50" x2="472.50" y2="496.50" stroke="#000" stroke-width="1" shape-rendering="crispEdges"/>
<line x1="475.50" y1="477.50" x2="475.50" y2="496.50" stroke="#000" stroke-width="0.8" shape-rendering="crispEdges"/>
<line x1="477.50" y1="477.50" x2="477.50" y2="496.50" stroke="#000" stroke-width="1.5" shape-rendering="crispEdges"/>
<line x1="480.30" y1="477.50" x2="480.30" y2="496.50" stroke="#000" stroke-width="1.5" shape-rendering="crispEdges"/>
<line x1="482.30" y1="477.50" x2="482.30" y2="496.50" stroke="#000" stroke-width="0.8" shape-rendering="crispEdges"/>
<line x1="485.30" y1="477.50" x2="485.30" y2="496.50" stroke="#000" stroke-width="0.8" shape-rendering="crispEdges"/>
<line x1="487.70" y1="477.50" x2="487.70" y2="496.50" stroke="#000" stroke-width="1" shape-rendering="crispEdges"/>
<line x1="489.90" y1="477.50" x2="489.90" y2="496.50" stroke="#000" stroke-width="1" shape-rendering="crispEdges"/>
<line x1="492.90" y1="477.50" x2="492.90" y2="496.50" stroke="#000" stroke-width="1" shape-rendering="crispEdges"/>
<line x1="389.00" y1="496.00" x2="494.00" y2="496.00" stroke="#333" stroke-width="0.6" />
<rect x="499.30" y="477.00" width="63.30" height="17.20" fill="#fff" stroke="#111" stroke-width="1" shape-rendering="crispEdges"/>
<line x1="511.96" y1="477.00" x2="511.96" y2="494.20" stroke="#444" stroke-width="0.7" shape-rendering="crispEdges"/>
<line x1="524.62" y1="477.00" x2="524.62" y2="494.20" stroke="#444" stroke-width="0.7" shape-rendering="crispEdges"/>
<line x1="537.28" y1="477.00" x2="537.28" y2="494.20" stroke="#444" stroke-width="0.7" shape-rendering="crispEdges"/>
<line x1="549.94" y1="477.00" x2="549.94" y2="494.20" stroke="#444" stroke-width="0.7" shape-rendering="crispEdges"/>
<line x1="499.30" y1="485.60" x2="562.60" y2="485.60" stroke="#444" stroke-width="0.7" shape-rendering="crispEdges"/>
<text x="530.95" y="485.30" font-size="3.2" text-anchor="middle" fill="#111" stroke="#111" stroke-width="0.28" font-family="Liberation Sans" font-weight="bold" >ΑΚΑΛΥΠΤΗ</text>
<text x="530.95" y="489.20" font-size="3.2" text-anchor="middle" fill="#111" stroke="#111" stroke-width="0.28" font-family="Liberation Sans" font-weight="bold" >ΒΕΡΑΝΤΑ</text>
<rect x="617.20" y="503.00" width="150.90" height="13.40" fill="#fff" stroke="#111" stroke-width="1" shape-rendering="crispEdges"/>
<line x1="629.78" y1="503.00" x2="629.78" y2="516.40" stroke="#444" stroke-width="0.7" shape-rendering="crispEdges"/>
<line x1="642.35" y1="503.00" x2="642.35" y2="516.40" stroke="#444" stroke-width="0.7" shape-rendering="crispEdges"/>
<line x1="654.93" y1="503.00" x2="654.93" y2="516.40" stroke="#444" stroke-width="0.7" shape-rendering="crispEdges"/>
<line x1="667.50" y1="503.00" x2="667.50" y2="516.40" stroke="#444" stroke-width="0.7" shape-rendering="crispEdges"/>
<line x1="680.08" y1="503.00" x2="680.08" y2="516.40" stroke="#444" stroke-width="0.7" shape-rendering="crispEdges"/>
<line x1="692.65" y1="503.00" x2="692.65" y2="516.40" stroke="#444" stroke-width="0.7" shape-rendering="crispEdges"/>
<line x1="705.23" y1="503.00" x2="705.23" y2="516.40" stroke="#444" stroke-width="0.7" shape-rendering="crispEdges"/>
<line x1="717.80" y1="503.00" x2="717.80" y2="516.40" stroke="#444" stroke-width="0.7" shape-rendering="crispEdges"/>
<line x1="730.38" y1="503.00" x2="730.38" y2="516.40" stroke="#444" stroke-width="0.7" shape-rendering="crispEdges"/>
<line x1="742.95" y1="503.00" x2="742.95" y2="516.40" stroke="#444" stroke-width="0.7" shape-rendering="crispEdges"/>
<line x1="755.52" y1="503.00" x2="755.52" y2="516.40" stroke="#444" stroke-width="0.7" shape-rendering="crispEdges"/>
<text x="692.65" y="509.40" font-size="3.2" text-anchor="middle" fill="#111" stroke="#111" stroke-width="0.28" font-family="Liberation Sans" font-weight="bold" >ΑΚΑΛΥΠΤΗ</text>
<text x="692.65" y="513.30" font-size="3.2" text-anchor="middle" fill="#111" stroke="#111" stroke-width="0.28" font-family="Liberation Sans" font-weight="bold" >ΒΕΡΑΝΤΑ</text>
<line x1="617.20" y1="507.40" x2="768.10" y2="507.40" stroke="#444" stroke-width="0.7" />
<rect x="825.40" y="482.00" width="152.60" height="13.40" fill="#fff" stroke="#111" stroke-width="1" shape-rendering="crispEdges"/>
<line x1="839.27" y1="482.00" x2="839.27" y2="495.40" stroke="#444" stroke-width="0.7" shape-rendering="crispEdges"/>
<line x1="853.15" y1="482.00" x2="853.15" y2="495.40" stroke="#444" stroke-width="0.7" shape-rendering="crispEdges"/>
<line x1="867.02" y1="482.00" x2="867.02" y2="495.40" stroke="#444" stroke-width="0.7" shape-rendering="crispEdges"/>
<line x1="880.89" y1="482.00" x2="880.89" y2="495.40" stroke="#444" stroke-width="0.7" shape-rendering="crispEdges"/>
<line x1="894.76" y1="482.00" x2="894.76" y2="495.40" stroke="#444" stroke-width="0.7" shape-rendering="crispEdges"/>
<line x1="908.64" y1="482.00" x2="908.64" y2="495.40" stroke="#444" stroke-width="0.7" shape-rendering="crispEdges"/>
<line x1="922.51" y1="482.00" x2="922.51" y2="495.40" stroke="#444" stroke-width="0.7" shape-rendering="crispEdges"/>
<line x1="936.38" y1="482.00" x2="936.38" y2="495.40" stroke="#444" stroke-width="0.7" shape-rendering="crispEdges"/>
<line x1="950.25" y1="482.00" x2="950.25" y2="495.40" stroke="#444" stroke-width="0.7" shape-rendering="crispEdges"/>
<line x1="964.13" y1="482.00" x2="964.13" y2="495.40" stroke="#444" stroke-width="0.7" shape-rendering="crispEdges"/>
<text x="901.70" y="488.40" font-size="3.2" text-anchor="middle" fill="#111" stroke="#111" stroke-width="0.28" font-family="Liberation Sans" font-weight="bold" >ΑΚΑΛΥΠΤΗ</text>
<text x="901.70" y="492.30" font-size="3.2" text-anchor="middle" fill="#111" stroke="#111" stroke-width="0.28" font-family="Liberation Sans" font-weight="bold" >ΒΕΡΑΝΤΑ</text>
<line x1="825.40" y1="493.50" x2="978.00" y2="493.50" stroke="#444" stroke-width="0.7" />
<rect x="1019.60" y="573.70" width="104.00" height="17.50" fill="#fff" stroke="#111" stroke-width="1" shape-rendering="crispEdges"/>
<line x1="1031.50" y1="573.70" x2="1031.50" y2="591.20" stroke="#444" stroke-width="0.7" shape-rendering="crispEdges"/>
<line x1="1045.20" y1="573.70" x2="1045.20" y2="591.20" stroke="#444" stroke-width="0.7" shape-rendering="crispEdges"/>
<line x1="1059.60" y1="573.70" x2="1059.60" y2="591.20" stroke="#444" stroke-width="0.7" shape-rendering="crispEdges"/>
<line x1="1073.40" y1="573.70" x2="1073.40" y2="591.20" stroke="#444" stroke-width="0.7" shape-rendering="crispEdges"/>
<line x1="1087.30" y1="573.70" x2="1087.30" y2="591.20" stroke="#444" stroke-width="0.7" shape-rendering="crispEdges"/>
<line x1="1100.70" y1="573.70" x2="1100.70" y2="591.20" stroke="#444" stroke-width="0.7" shape-rendering="crispEdges"/>
<line x1="1114.40" y1="573.70" x2="1114.40" y2="591.20" stroke="#444" stroke-width="0.7" shape-rendering="crispEdges"/>
<text x="1059.60" y="582.60" font-size="3.2" text-anchor="middle" fill="#111" stroke="#111" stroke-width="0.28" font-family="Liberation Sans" font-weight="bold" >ΑΚΑΛΥΠΤΗ</text>
<text x="1059.60" y="587.40" font-size="3.2" text-anchor="middle" fill="#111" stroke="#111" stroke-width="0.28" font-family="Liberation Sans" font-weight="bold" >ΒΕΡΑΝΤΑ</text>
<rect x="1126.60" y="573.70" width="103.50" height="17.50" fill="#fff" stroke="#111" stroke-width="1" shape-rendering="crispEdges"/>
<line x1="1142.50" y1="573.70" x2="1142.50" y2="591.20" stroke="#444" stroke-width="0.7" shape-rendering="crispEdges"/>
<line x1="1156.50" y1="573.70" x2="1156.50" y2="591.20" stroke="#444" stroke-width="0.7" shape-rendering="crispEdges"/>
<line x1="1170.40" y1="573.70" x2="1170.40" y2="591.20" stroke="#444" stroke-width="0.7" shape-rendering="crispEdges"/>
<line x1="1184.10" y1="573.70" x2="1184.10" y2="591.20" stroke="#444" stroke-width="0.7" shape-rendering="crispEdges"/>
<line x1="1197.50" y1="573.70" x2="1197.50" y2="591.20" stroke="#444" stroke-width="0.7" shape-rendering="crispEdges"/>
<line x1="1211.50" y1="573.70" x2="1211.50" y2="591.20" stroke="#444" stroke-width="0.7" shape-rendering="crispEdges"/>
<line x1="1225.20" y1="573.70" x2="1225.20" y2="591.20" stroke="#444" stroke-width="0.7" shape-rendering="crispEdges"/>
<line x1="1126.60" y1="576.20" x2="1230.10" y2="576.20" stroke="#444" stroke-width="0.7" />
<text x="1189.70" y="582.60" font-size="3.2" text-anchor="middle" fill="#111" stroke="#111" stroke-width="0.28" font-family="Liberation Sans" font-weight="bold" >ΑΚΑΛΥΠΤΗ</text>
<text x="1189.70" y="587.40" font-size="3.2" text-anchor="middle" fill="#111" stroke="#111" stroke-width="0.28" font-family="Liberation Sans" font-weight="bold" >ΒΕΡΑΝΤΑ</text>
<rect x="1270.70" y="579.00" width="100.70" height="17.40" fill="#fff" stroke="#111" stroke-width="1" shape-rendering="crispEdges"/>
<line x1="1285.09" y1="579.00" x2="1285.09" y2="596.40" stroke="#444" stroke-width="0.7" shape-rendering="crispEdges"/>
<line x1="1299.47" y1="579.00" x2="1299.47" y2="596.40" stroke="#444" stroke-width="0.7" shape-rendering="crispEdges"/>
<line x1="1313.86" y1="579.00" x2="1313.86" y2="596.40" stroke="#444" stroke-width="0.7" shape-rendering="crispEdges"/>
<line x1="1328.24" y1="579.00" x2="1328.24" y2="596.40" stroke="#444" stroke-width="0.7" shape-rendering="crispEdges"/>
<line x1="1342.63" y1="579.00" x2="1342.63" y2="596.40" stroke="#444" stroke-width="0.7" shape-rendering="crispEdges"/>
<line x1="1357.01" y1="579.00" x2="1357.01" y2="596.40" stroke="#444" stroke-width="0.7" shape-rendering="crispEdges"/>
<line x1="1270.70" y1="587.70" x2="1371.40" y2="587.70" stroke="#444" stroke-width="0.7" shape-rendering="crispEdges"/>
<text x="1321.05" y="587.40" font-size="3.2" text-anchor="middle" fill="#111" stroke="#111" stroke-width="0.28" font-family="Liberation Sans" font-weight="bold" >ΑΚΑΛΥΠΤΗ</text>
<text x="1321.05" y="591.30" font-size="3.2" text-anchor="middle" fill="#111" stroke="#111" stroke-width="0.28" font-family="Liberation Sans" font-weight="bold" >ΒΕΡΑΝΤΑ</text>
<rect x="1413.40" y="552.80" width="100.10" height="17.40" fill="#fff" stroke="#111" stroke-width="1" shape-rendering="crispEdges"/>
<line x1="1427.70" y1="552.80" x2="1427.70" y2="570.20" stroke="#444" stroke-width="0.7" shape-rendering="crispEdges"/>
<line x1="1442.00" y1="552.80" x2="1442.00" y2="570.20" stroke="#444" stroke-width="0.7" shape-rendering="crispEdges"/>
<line x1="1456.30" y1="552.80" x2="1456.30" y2="570.20" stroke="#444" stroke-width="0.7" shape-rendering="crispEdges"/>
<line x1="1470.60" y1="552.80" x2="1470.60" y2="570.20" stroke="#444" stroke-width="0.7" shape-rendering="crispEdges"/>
<line x1="1484.90" y1="552.80" x2="1484.90" y2="570.20" stroke="#444" stroke-width="0.7" shape-rendering="crispEdges"/>
<line x1="1499.20" y1="552.80" x2="1499.20" y2="570.20" stroke="#444" stroke-width="0.7" shape-rendering="crispEdges"/>
<text x="1463.45" y="561.20" font-size="3.2" text-anchor="middle" fill="#111" stroke="#111" stroke-width="0.28" font-family="Liberation Sans" font-weight="bold" >ΑΚΑΛΥΠΤΗ</text>
<text x="1463.45" y="565.10" font-size="3.2" text-anchor="middle" fill="#111" stroke="#111" stroke-width="0.28" font-family="Liberation Sans" font-weight="bold" >ΒΕΡΑΝΤΑ</text>
<line x1="1413.40" y1="556.20" x2="1513.50" y2="556.20" stroke="#444" stroke-width="0.7" />
<rect x="170.20" y="339.10" width="179.40" height="137.80" fill="#fff" stroke="none" stroke-width="1" />
<rect x="171.20" y="340.10" width="177.40" height="135.80" fill="none" stroke="#000" stroke-width="2" shape-rendering="crispEdges"/>
<rect x="174.20" y="343.10" width="171.40" height="129.80" fill="none" stroke="#000" stroke-width="2" shape-rendering="crispEdges"/>
<rect x="191.40" y="365.40" width="68.40" height="86.20" fill="#fff" stroke="#000" stroke-width="1.1" shape-rendering="crispEdges"/>
<line x1="208.50" y1="365.40" x2="208.50" y2="451.60" stroke="#000" stroke-width="1" shape-rendering="crispEdges"/>
<line x1="225.60" y1="365.40" x2="225.60" y2="451.60" stroke="#000" stroke-width="1" shape-rendering="crispEdges"/>
<line x1="242.70" y1="365.40" x2="242.70" y2="451.60" stroke="#000" stroke-width="1" shape-rendering="crispEdges"/>
<line x1="191.40" y1="394.13" x2="259.80" y2="394.13" stroke="#000" stroke-width="1" shape-rendering="crispEdges"/>
<line x1="191.40" y1="422.87" x2="259.80" y2="422.87" stroke="#000" stroke-width="1" shape-rendering="crispEdges"/>
<text x="201.45" y="371.15" font-size="3.0" text-anchor="middle" fill="#2a1a10" stroke="#2a1a10" stroke-width="0.28" font-family="Liberation Sans" font-weight="bold" >36</text>
<text x="199.95" y="379.77" font-size="3.0" text-anchor="middle" fill="#2a1a10" stroke="#2a1a10" stroke-width="0.28" font-family="Liberation Sans" font-weight="bold" >260W</text>
<text x="199.95" y="388.39" font-size="3.0" text-anchor="middle" fill="#1a1a30" stroke="#1a1a30" stroke-width="0.28" font-family="Liberation Sans" font-weight="bold" >PV11</text>
<text x="201.45" y="399.88" font-size="3.0" text-anchor="middle" fill="#2a1a10" stroke="#2a1a10" stroke-width="0.28" font-family="Liberation Sans" font-weight="bold" >36</text>
<text x="199.95" y="408.50" font-size="3.0" text-anchor="middle" fill="#2a1a10" stroke="#2a1a10" stroke-width="0.28" font-family="Liberation Sans" font-weight="bold" >260W</text>
<text x="199.95" y="417.12" font-size="3.0" text-anchor="middle" fill="#1a1a30" stroke="#1a1a30" stroke-width="0.28" font-family="Liberation Sans" font-weight="bold" >PV11</text>
<text x="201.45" y="428.61" font-size="3.0" text-anchor="middle" fill="#2a1a10" stroke="#2a1a10" stroke-width="0.28" font-family="Liberation Sans" font-weight="bold" >36</text>
<text x="199.95" y="437.23" font-size="3.0" text-anchor="middle" fill="#2a1a10" stroke="#2a1a10" stroke-width="0.28" font-family="Liberation Sans" font-weight="bold" >260W</text>
<text x="199.95" y="445.85" font-size="3.0" text-anchor="middle" fill="#1a1a30" stroke="#1a1a30" stroke-width="0.28" font-family="Liberation Sans" font-weight="bold" >PV11</text>
<text x="218.55" y="371.15" font-size="3.0" text-anchor="middle" fill="#2a1a10" stroke="#2a1a10" stroke-width="0.28" font-family="Liberation Sans" font-weight="bold" >36</text>
<text x="217.05" y="379.77" font-size="3.0" text-anchor="middle" fill="#2a1a10" stroke="#2a1a10" stroke-width="0.28" font-family="Liberation Sans" font-weight="bold" >260W</text>
<text x="217.05" y="388.39" font-size="3.0" text-anchor="middle" fill="#1a1a30" stroke="#1a1a30" stroke-width="0.28" font-family="Liberation Sans" font-weight="bold" >PV11</text>
<text x="218.55" y="399.88" font-size="3.0" text-anchor="middle" fill="#2a1a10" stroke="#2a1a10" stroke-width="0.28" font-family="Liberation Sans" font-weight="bold" >36</text>
<text x="217.05" y="408.50" font-size="3.0" text-anchor="middle" fill="#2a1a10" stroke="#2a1a10" stroke-width="0.28" font-family="Liberation Sans" font-weight="bold" >260W</text>
<text x="217.05" y="417.12" font-size="3.0" text-anchor="middle" fill="#1a1a30" stroke="#1a1a30" stroke-width="0.28" font-family="Liberation Sans" font-weight="bold" >PV11</text>
<text x="218.55" y="428.61" font-size="3.0" text-anchor="middle" fill="#2a1a10" stroke="#2a1a10" stroke-width="0.28" font-family="Liberation Sans" font-weight="bold" >36</text>
<text x="217.05" y="437.23" font-size="3.0" text-anchor="middle" fill="#2a1a10" stroke="#2a1a10" stroke-width="0.28" font-family="Liberation Sans" font-weight="bold" >260W</text>
<text x="217.05" y="445.85" font-size="3.0" text-anchor="middle" fill="#1a1a30" stroke="#1a1a30" stroke-width="0.28" font-family="Liberation Sans" font-weight="bold" >PV11</text>
<text x="235.65" y="371.15" font-size="3.0" text-anchor="middle" fill="#2a1a10" stroke="#2a1a10" stroke-width="0.28" font-family="Liberation Sans" font-weight="bold" >36</text>
<text x="234.15" y="379.77" font-size="3.0" text-anchor="middle" fill="#2a1a10" stroke="#2a1a10" stroke-width="0.28" font-family="Liberation Sans" font-weight="bold" >260W</text>
<text x="234.15" y="388.39" font-size="3.0" text-anchor="middle" fill="#1a1a30" stroke="#1a1a30" stroke-width="0.28" font-family="Liberation Sans" font-weight="bold" >PV11</text>
<text x="235.65" y="399.88" font-size="3.0" text-anchor="middle" fill="#2a1a10" stroke="#2a1a10" stroke-width="0.28" font-family="Liberation Sans" font-weight="bold" >36</text>
<text x="234.15" y="408.50" font-size="3.0" text-anchor="middle" fill="#2a1a10" stroke="#2a1a10" stroke-width="0.28" font-family="Liberation Sans" font-weight="bold" >260W</text>
<text x="234.15" y="417.12" font-size="3.0" text-anchor="middle" fill="#1a1a30" stroke="#1a1a30" stroke-width="0.28" font-family="Liberation Sans" font-weight="bold" >PV11</text>
<text x="235.65" y="428.61" font-size="3.0" text-anchor="middle" fill="#2a1a10" stroke="#2a1a10" stroke-width="0.28" font-family="Liberation Sans" font-weight="bold" >36</text>
<text x="234.15" y="437.23" font-size="3.0" text-anchor="middle" fill="#2a1a10" stroke="#2a1a10" stroke-width="0.28" font-family="Liberation Sans" font-weight="bold" >260W</text>
<text x="234.15" y="445.85" font-size="3.0" text-anchor="middle" fill="#1a1a30" stroke="#1a1a30" stroke-width="0.28" font-family="Liberation Sans" font-weight="bold" >PV11</text>
<text x="252.75" y="371.15" font-size="3.0" text-anchor="middle" fill="#2a1a10" stroke="#2a1a10" stroke-width="0.28" font-family="Liberation Sans" font-weight="bold" >36</text>
<text x="251.25" y="379.77" font-size="3.0" text-anchor="middle" fill="#2a1a10" stroke="#2a1a10" stroke-width="0.28" font-family="Liberation Sans" font-weight="bold" >260W</text>
<text x="251.25" y="388.39" font-size="3.0" text-anchor="middle" fill="#1a1a30" stroke="#1a1a30" stroke-width="0.28" font-family="Liberation Sans" font-weight="bold" >PV11</text>
<text x="252.75" y="399.88" font-size="3.0" text-anchor="middle" fill="#2a1a10" stroke="#2a1a10" stroke-width="0.28" font-family="Liberation Sans" font-weight="bold" >36</text>
<text x="251.25" y="408.50" font-size="3.0" text-anchor="middle" fill="#2a1a10" stroke="#2a1a10" stroke-width="0.28" font-family="Liberation Sans" font-weight="bold" >260W</text>
<text x="251.25" y="417.12" font-size="3.0" text-anchor="middle" fill="#1a1a30" stroke="#1a1a30" stroke-width="0.28" font-family="Liberation Sans" font-weight="bold" >PV11</text>
<text x="252.75" y="428.61" font-size="3.0" text-anchor="middle" fill="#2a1a10" stroke="#2a1a10" stroke-width="0.28" font-family="Liberation Sans" font-weight="bold" >36</text>
<text x="251.25" y="437.23" font-size="3.0" text-anchor="middle" fill="#2a1a10" stroke="#2a1a10" stroke-width="0.28" font-family="Liberation Sans" font-weight="bold" >260W</text>
<text x="251.25" y="445.85" font-size="3.0" text-anchor="middle" fill="#1a1a30" stroke="#1a1a30" stroke-width="0.28" font-family="Liberation Sans" font-weight="bold" >PV11</text>
<rect x="279.50" y="370.40" width="14.30" height="5.10" fill="#fff" stroke="#000" stroke-width="1.2" />
<line x1="279.50" y1="375.10" x2="293.80" y2="375.10" stroke="#000" stroke-width="1.4" />
<polyline points="285.94,370.40 285.94,367.40 292.37,367.40 292.37,370.40" fill="#fff" stroke="#000" stroke-width="0.8"/>
<line x1="288.35" y1="367.40" x2="288.35" y2="370.40" stroke="#000" stroke-width="0.5" />
<line x1="289.95" y1="367.40" x2="289.95" y2="370.40" stroke="#000" stroke-width="0.5" />
<rect x="297.50" y="370.40" width="14.00" height="5.10" fill="#fff" stroke="#000" stroke-width="1.2" />
<line x1="297.50" y1="375.10" x2="311.50" y2="375.10" stroke="#000" stroke-width="1.4" />
<polyline points="303.80,370.40 303.80,367.40 310.10,367.40 310.10,370.40" fill="#fff" stroke="#000" stroke-width="0.8"/>
<line x1="306.15" y1="367.40" x2="306.15" y2="370.40" stroke="#000" stroke-width="0.5" />
<line x1="307.75" y1="367.40" x2="307.75" y2="370.40" stroke="#000" stroke-width="0.5" />
<rect x="315.50" y="370.40" width="14.20" height="5.10" fill="#fff" stroke="#000" stroke-width="1.2" />
<line x1="315.50" y1="375.10" x2="329.70" y2="375.10" stroke="#000" stroke-width="1.4" />
<polyline points="321.89,370.40 321.89,367.40 328.28,367.40 328.28,370.40" fill="#fff" stroke="#000" stroke-width="0.8"/>
<line x1="324.28" y1="367.40" x2="324.28" y2="370.40" stroke="#000" stroke-width="0.5" />
<line x1="325.88" y1="367.40" x2="325.88" y2="370.40" stroke="#000" stroke-width="0.5" />
<path d="M288.48,399.40 L317.42,399.40 Q323.54,410.00 317.42,420.60 L288.48,420.60 Q282.36,410.00 288.48,399.40 Z" fill="#fff" stroke="#000" stroke-width="1.15"/>
<line x1="288.48" y1="399.40" x2="288.48" y2="420.60" stroke="#000" stroke-width="0.8" />
<line x1="317.42" y1="399.40" x2="317.42" y2="420.60" stroke="#000" stroke-width="0.8" />
<circle cx="294.79" cy="410.00" r="3.82" fill="none" stroke="#000" stroke-width="0.7"/>
<rect x="285.40" y="425.50" width="14.70" height="22.30" fill="#fff" stroke="#000" stroke-width="2" shape-rendering="crispEdges"/>
<rect x="305.40" y="425.50" width="15.10" height="22.30" fill="#fff" stroke="#000" stroke-width="2" shape-rendering="crispEdges"/>
<rect x="386.70" y="340.40" width="178.40" height="136.50" fill="#fff" stroke="none" stroke-width="1" />
<rect x="387.70" y="341.40" width="176.40" height="134.50" fill="none" stroke="#000" stroke-width="2" shape-rendering="crispEdges"/>
<rect x="390.70" y="344.40" width="170.40" height="128.50" fill="none" stroke="#000" stroke-width="2" shape-rendering="crispEdges"/>
<rect x="408.40" y="365.40" width="68.40" height="86.20" fill="#fff" stroke="#000" stroke-width="1.1" shape-rendering="crispEdges"/>
<line x1="425.50" y1="365.40" x2="425.50" y2="451.60" stroke="#000" stroke-width="1" shape-rendering="crispEdges"/>
<line x1="442.60" y1="365.40" x2="442.60" y2="451.60" stroke="#000" stroke-width="1" shape-rendering="crispEdges"/>
<line x1="459.70" y1="365.40" x2="459.70" y2="451.60" stroke="#000" stroke-width="1" shape-rendering="crispEdges"/>
<line x1="408.40" y1="394.13" x2="476.80" y2="394.13" stroke="#000" stroke-width="1" shape-rendering="crispEdges"/>
<line x1="408.40" y1="422.87" x2="476.80" y2="422.87" stroke="#000" stroke-width="1" shape-rendering="crispEdges"/>
<text x="418.45" y="371.15" font-size="3.0" text-anchor="middle" fill="#2a1a10" stroke="#2a1a10" stroke-width="0.28" font-family="Liberation Sans" font-weight="bold" >36</text>
<text x="416.95" y="379.77" font-size="3.0" text-anchor="middle" fill="#2a1a10" stroke="#2a1a10" stroke-width="0.28" font-family="Liberation Sans" font-weight="bold" >260W</text>
<text x="416.95" y="388.39" font-size="3.0" text-anchor="middle" fill="#1a1a30" stroke="#1a1a30" stroke-width="0.28" font-family="Liberation Sans" font-weight="bold" >PV11</text>
<text x="418.45" y="399.88" font-size="3.0" text-anchor="middle" fill="#2a1a10" stroke="#2a1a10" stroke-width="0.28" font-family="Liberation Sans" font-weight="bold" >36</text>
<text x="416.95" y="408.50" font-size="3.0" text-anchor="middle" fill="#2a1a10" stroke="#2a1a10" stroke-width="0.28" font-family="Liberation Sans" font-weight="bold" >260W</text>
<text x="416.95" y="417.12" font-size="3.0" text-anchor="middle" fill="#1a1a30" stroke="#1a1a30" stroke-width="0.28" font-family="Liberation Sans" font-weight="bold" >PV11</text>
<text x="418.45" y="428.61" font-size="3.0" text-anchor="middle" fill="#2a1a10" stroke="#2a1a10" stroke-width="0.28" font-family="Liberation Sans" font-weight="bold" >36</text>
<text x="416.95" y="437.23" font-size="3.0" text-anchor="middle" fill="#2a1a10" stroke="#2a1a10" stroke-width="0.28" font-family="Liberation Sans" font-weight="bold" >260W</text>
<text x="416.95" y="445.85" font-size="3.0" text-anchor="middle" fill="#1a1a30" stroke="#1a1a30" stroke-width="0.28" font-family="Liberation Sans" font-weight="bold" >PV11</text>
<text x="435.55" y="371.15" font-size="3.0" text-anchor="middle" fill="#2a1a10" stroke="#2a1a10" stroke-width="0.28" font-family="Liberation Sans" font-weight="bold" >36</text>
<text x="434.05" y="379.77" font-size="3.0" text-anchor="middle" fill="#2a1a10" stroke="#2a1a10" stroke-width="0.28" font-family="Liberation Sans" font-weight="bold" >260W</text>
<text x="434.05" y="388.39" font-size="3.0" text-anchor="middle" fill="#1a1a30" stroke="#1a1a30" stroke-width="0.28" font-family="Liberation Sans" font-weight="bold" >PV11</text>
<text x="435.55" y="399.88" font-size="3.0" text-anchor="middle" fill="#2a1a10" stroke="#2a1a10" stroke-width="0.28" font-family="Liberation Sans" font-weight="bold" >36</text>
<text x="434.05" y="408.50" font-size="3.0" text-anchor="middle" fill="#2a1a10" stroke="#2a1a10" stroke-width="0.28" font-family="Liberation Sans" font-weight="bold" >260W</text>
<text x="434.05" y="417.12" font-size="3.0" text-anchor="middle" fill="#1a1a30" stroke="#1a1a30" stroke-width="0.28" font-family="Liberation Sans" font-weight="bold" >PV11</text>
<text x="435.55" y="428.61" font-size="3.0" text-anchor="middle" fill="#2a1a10" stroke="#2a1a10" stroke-width="0.28" font-family="Liberation Sans" font-weight="bold" >36</text>
<text x="434.05" y="437.23" font-size="3.0" text-anchor="middle" fill="#2a1a10" stroke="#2a1a10" stroke-width="0.28" font-family="Liberation Sans" font-weight="bold" >260W</text>
<text x="434.05" y="445.85" font-size="3.0" text-anchor="middle" fill="#1a1a30" stroke="#1a1a30" stroke-width="0.28" font-family="Liberation Sans" font-weight="bold" >PV11</text>
<text x="452.65" y="371.15" font-size="3.0" text-anchor="middle" fill="#2a1a10" stroke="#2a1a10" stroke-width="0.28" font-family="Liberation Sans" font-weight="bold" >36</text>
<text x="451.15" y="379.77" font-size="3.0" text-anchor="middle" fill="#2a1a10" stroke="#2a1a10" stroke-width="0.28" font-family="Liberation Sans" font-weight="bold" >260W</text>
<text x="451.15" y="388.39" font-size="3.0" text-anchor="middle" fill="#1a1a30" stroke="#1a1a30" stroke-width="0.28" font-family="Liberation Sans" font-weight="bold" >PV11</text>
<text x="452.65" y="399.88" font-size="3.0" text-anchor="middle" fill="#2a1a10" stroke="#2a1a10" stroke-width="0.28" font-family="Liberation Sans" font-weight="bold" >36</text>
<text x="451.15" y="408.50" font-size="3.0" text-anchor="middle" fill="#2a1a10" stroke="#2a1a10" stroke-width="0.28" font-family="Liberation Sans" font-weight="bold" >260W</text>
<text x="451.15" y="417.12" font-size="3.0" text-anchor="middle" fill="#1a1a30" stroke="#1a1a30" stroke-width="0.28" font-family="Liberation Sans" font-weight="bold" >PV11</text>
<text x="452.65" y="428.61" font-size="3.0" text-anchor="middle" fill="#2a1a10" stroke="#2a1a10" stroke-width="0.28" font-family="Liberation Sans" font-weight="bold" >36</text>
<text x="451.15" y="437.23" font-size="3.0" text-anchor="middle" fill="#2a1a10" stroke="#2a1a10" stroke-width="0.28" font-family="Liberation Sans" font-weight="bold" >260W</text>
<text x="451.15" y="445.85" font-size="3.0" text-anchor="middle" fill="#1a1a30" stroke="#1a1a30" stroke-width="0.28" font-family="Liberation Sans" font-weight="bold" >PV11</text>
<text x="469.75" y="371.15" font-size="3.0" text-anchor="middle" fill="#2a1a10" stroke="#2a1a10" stroke-width="0.28" font-family="Liberation Sans" font-weight="bold" >36</text>
<text x="468.25" y="379.77" font-size="3.0" text-anchor="middle" fill="#2a1a10" stroke="#2a1a10" stroke-width="0.28" font-family="Liberation Sans" font-weight="bold" >260W</text>
<text x="468.25" y="388.39" font-size="3.0" text-anchor="middle" fill="#1a1a30" stroke="#1a1a30" stroke-width="0.28" font-family="Liberation Sans" font-weight="bold" >PV11</text>
<text x="469.75" y="399.88" font-size="3.0" text-anchor="middle" fill="#2a1a10" stroke="#2a1a10" stroke-width="0.28" font-family="Liberation Sans" font-weight="bold" >36</text>
<text x="468.25" y="408.50" font-size="3.0" text-anchor="middle" fill="#2a1a10" stroke="#2a1a10" stroke-width="0.28" font-family="Liberation Sans" font-weight="bold" >260W</text>
<text x="468.25" y="417.12" font-size="3.0" text-anchor="middle" fill="#1a1a30" stroke="#1a1a30" stroke-width="0.28" font-family="Liberation Sans" font-weight="bold" >PV11</text>
<text x="469.75" y="428.61" font-size="3.0" text-anchor="middle" fill="#2a1a10" stroke="#2a1a10" stroke-width="0.28" font-family="Liberation Sans" font-weight="bold" >36</text>
<text x="468.25" y="437.23" font-size="3.0" text-anchor="middle" fill="#2a1a10" stroke="#2a1a10" stroke-width="0.28" font-family="Liberation Sans" font-weight="bold" >260W</text>
<text x="468.25" y="445.85" font-size="3.0" text-anchor="middle" fill="#1a1a30" stroke="#1a1a30" stroke-width="0.28" font-family="Liberation Sans" font-weight="bold" >PV11</text>
<rect x="496.00" y="370.60" width="14.00" height="5.20" fill="#fff" stroke="#000" stroke-width="1.2" />
<line x1="496.00" y1="375.40" x2="510.00" y2="375.40" stroke="#000" stroke-width="1.4" />
<polyline points="502.30,370.60 502.30,367.60 508.60,367.60 508.60,370.60" fill="#fff" stroke="#000" stroke-width="0.8"/>
<line x1="504.65" y1="367.60" x2="504.65" y2="370.60" stroke="#000" stroke-width="0.5" />
<line x1="506.25" y1="367.60" x2="506.25" y2="370.60" stroke="#000" stroke-width="0.5" />
<rect x="513.00" y="370.60" width="15.00" height="5.20" fill="#fff" stroke="#000" stroke-width="1.2" />
<line x1="513.00" y1="375.40" x2="528.00" y2="375.40" stroke="#000" stroke-width="1.4" />
<polyline points="519.75,370.60 519.75,367.60 526.50,367.60 526.50,370.60" fill="#fff" stroke="#000" stroke-width="0.8"/>
<line x1="522.33" y1="367.60" x2="522.33" y2="370.60" stroke="#000" stroke-width="0.5" />
<line x1="523.92" y1="367.60" x2="523.92" y2="370.60" stroke="#000" stroke-width="0.5" />
<rect x="531.00" y="370.60" width="15.00" height="5.20" fill="#fff" stroke="#000" stroke-width="1.2" />
<line x1="531.00" y1="375.40" x2="546.00" y2="375.40" stroke="#000" stroke-width="1.4" />
<polyline points="537.75,370.60 537.75,367.60 544.50,367.60 544.50,370.60" fill="#fff" stroke="#000" stroke-width="0.8"/>
<line x1="540.33" y1="367.60" x2="540.33" y2="370.60" stroke="#000" stroke-width="0.5" />
<line x1="541.92" y1="367.60" x2="541.92" y2="370.60" stroke="#000" stroke-width="0.5" />
<path d="M505.59,399.00 L534.61,399.00 Q540.75,409.70 534.61,420.40 L505.59,420.40 Q499.45,409.70 505.59,399.00 Z" fill="#fff" stroke="#000" stroke-width="1.15"/>
<line x1="505.59" y1="399.00" x2="505.59" y2="420.40" stroke="#000" stroke-width="0.8" />
<line x1="534.61" y1="399.00" x2="534.61" y2="420.40" stroke="#000" stroke-width="0.8" />
<circle cx="511.92" cy="409.70" r="3.85" fill="none" stroke="#000" stroke-width="0.7"/>
<rect x="501.60" y="425.80" width="15.20" height="22.70" fill="#fff" stroke="#000" stroke-width="2" shape-rendering="crispEdges"/>
<rect x="521.20" y="425.80" width="15.60" height="22.70" fill="#fff" stroke="#000" stroke-width="2" shape-rendering="crispEdges"/>
<rect x="603.40" y="329.50" width="170.60" height="173.40" fill="#fff" stroke="none" stroke-width="1" />
<rect x="604.40" y="330.50" width="168.60" height="171.40" fill="none" stroke="#000" stroke-width="2" shape-rendering="crispEdges"/>
<rect x="607.40" y="333.50" width="162.60" height="165.40" fill="none" stroke="#000" stroke-width="2" shape-rendering="crispEdges"/>
<rect x="649.50" y="355.20" width="102.30" height="57.20" fill="#fff" stroke="#000" stroke-width="1.1" shape-rendering="crispEdges"/>
<line x1="666.55" y1="355.20" x2="666.55" y2="412.40" stroke="#000" stroke-width="1" shape-rendering="crispEdges"/>
<line x1="683.60" y1="355.20" x2="683.60" y2="412.40" stroke="#000" stroke-width="1" shape-rendering="crispEdges"/>
<line x1="700.65" y1="355.20" x2="700.65" y2="412.40" stroke="#000" stroke-width="1" shape-rendering="crispEdges"/>
<line x1="717.70" y1="355.20" x2="717.70" y2="412.40" stroke="#000" stroke-width="1" shape-rendering="crispEdges"/>
<line x1="734.75" y1="355.20" x2="734.75" y2="412.40" stroke="#000" stroke-width="1" shape-rendering="crispEdges"/>
<line x1="649.50" y1="383.80" x2="751.80" y2="383.80" stroke="#000" stroke-width="1" shape-rendering="crispEdges"/>
<text x="659.52" y="360.92" font-size="3.0" text-anchor="middle" fill="#2a1a10" stroke="#2a1a10" stroke-width="0.28" font-family="Liberation Sans" font-weight="bold" >36</text>
<text x="658.02" y="369.50" font-size="3.0" text-anchor="middle" fill="#2a1a10" stroke="#2a1a10" stroke-width="0.28" font-family="Liberation Sans" font-weight="bold" >260W</text>
<text x="658.02" y="378.08" font-size="3.0" text-anchor="middle" fill="#1a1a30" stroke="#1a1a30" stroke-width="0.28" font-family="Liberation Sans" font-weight="bold" >PV11</text>
<text x="659.52" y="389.52" font-size="3.0" text-anchor="middle" fill="#2a1a10" stroke="#2a1a10" stroke-width="0.28" font-family="Liberation Sans" font-weight="bold" >36</text>
<text x="658.02" y="398.10" font-size="3.0" text-anchor="middle" fill="#2a1a10" stroke="#2a1a10" stroke-width="0.28" font-family="Liberation Sans" font-weight="bold" >260W</text>
<text x="658.02" y="406.68" font-size="3.0" text-anchor="middle" fill="#1a1a30" stroke="#1a1a30" stroke-width="0.28" font-family="Liberation Sans" font-weight="bold" >PV11</text>
<text x="676.58" y="360.92" font-size="3.0" text-anchor="middle" fill="#2a1a10" stroke="#2a1a10" stroke-width="0.28" font-family="Liberation Sans" font-weight="bold" >36</text>
<text x="675.08" y="369.50" font-size="3.0" text-anchor="middle" fill="#2a1a10" stroke="#2a1a10" stroke-width="0.28" font-family="Liberation Sans" font-weight="bold" >260W</text>
<text x="675.08" y="378.08" font-size="3.0" text-anchor="middle" fill="#1a1a30" stroke="#1a1a30" stroke-width="0.28" font-family="Liberation Sans" font-weight="bold" >PV11</text>
<text x="676.58" y="389.52" font-size="3.0" text-anchor="middle" fill="#2a1a10" stroke="#2a1a10" stroke-width="0.28" font-family="Liberation Sans" font-weight="bold" >36</text>
<text x="675.08" y="398.10" font-size="3.0" text-anchor="middle" fill="#2a1a10" stroke="#2a1a10" stroke-width="0.28" font-family="Liberation Sans" font-weight="bold" >260W</text>
<text x="675.08" y="406.68" font-size="3.0" text-anchor="middle" fill="#1a1a30" stroke="#1a1a30" stroke-width="0.28" font-family="Liberation Sans" font-weight="bold" >PV11</text>
<text x="693.62" y="360.92" font-size="3.0" text-anchor="middle" fill="#2a1a10" stroke="#2a1a10" stroke-width="0.28" font-family="Liberation Sans" font-weight="bold" >36</text>
<text x="692.12" y="369.50" font-size="3.0" text-anchor="middle" fill="#2a1a10" stroke="#2a1a10" stroke-width="0.28" font-family="Liberation Sans" font-weight="bold" >260W</text>
<text x="692.12" y="378.08" font-size="3.0" text-anchor="middle" fill="#1a1a30" stroke="#1a1a30" stroke-width="0.28" font-family="Liberation Sans" font-weight="bold" >PV11</text>
<text x="693.62" y="389.52" font-size="3.0" text-anchor="middle" fill="#2a1a10" stroke="#2a1a10" stroke-width="0.28" font-family="Liberation Sans" font-weight="bold" >36</text>
<text x="692.12" y="398.10" font-size="3.0" text-anchor="middle" fill="#2a1a10" stroke="#2a1a10" stroke-width="0.28" font-family="Liberation Sans" font-weight="bold" >260W</text>
<text x="692.12" y="406.68" font-size="3.0" text-anchor="middle" fill="#1a1a30" stroke="#1a1a30" stroke-width="0.28" font-family="Liberation Sans" font-weight="bold" >PV11</text>
<text x="710.67" y="360.92" font-size="3.0" text-anchor="middle" fill="#2a1a10" stroke="#2a1a10" stroke-width="0.28" font-family="Liberation Sans" font-weight="bold" >36</text>
<text x="709.17" y="369.50" font-size="3.0" text-anchor="middle" fill="#2a1a10" stroke="#2a1a10" stroke-width="0.28" font-family="Liberation Sans" font-weight="bold" >260W</text>
<text x="709.17" y="378.08" font-size="3.0" text-anchor="middle" fill="#1a1a30" stroke="#1a1a30" stroke-width="0.28" font-family="Liberation Sans" font-weight="bold" >PV11</text>
<text x="710.67" y="389.52" font-size="3.0" text-anchor="middle" fill="#2a1a10" stroke="#2a1a10" stroke-width="0.28" font-family="Liberation Sans" font-weight="bold" >36</text>
<text x="709.17" y="398.10" font-size="3.0" text-anchor="middle" fill="#2a1a10" stroke="#2a1a10" stroke-width="0.28" font-family="Liberation Sans" font-weight="bold" >260W</text>
<text x="709.17" y="406.68" font-size="3.0" text-anchor="middle" fill="#1a1a30" stroke="#1a1a30" stroke-width="0.28" font-family="Liberation Sans" font-weight="bold" >PV11</text>
<text x="727.72" y="360.92" font-size="3.0" text-anchor="middle" fill="#2a1a10" stroke="#2a1a10" stroke-width="0.28" font-family="Liberation Sans" font-weight="bold" >36</text>
<text x="726.22" y="369.50" font-size="3.0" text-anchor="middle" fill="#2a1a10" stroke="#2a1a10" stroke-width="0.28" font-family="Liberation Sans" font-weight="bold" >260W</text>
<text x="726.22" y="378.08" font-size="3.0" text-anchor="middle" fill="#1a1a30" stroke="#1a1a30" stroke-width="0.28" font-family="Liberation Sans" font-weight="bold" >PV11</text>
<text x="727.72" y="389.52" font-size="3.0" text-anchor="middle" fill="#2a1a10" stroke="#2a1a10" stroke-width="0.28" font-family="Liberation Sans" font-weight="bold" >36</text>
<text x="726.22" y="398.10" font-size="3.0" text-anchor="middle" fill="#2a1a10" stroke="#2a1a10" stroke-width="0.28" font-family="Liberation Sans" font-weight="bold" >260W</text>
<text x="726.22" y="406.68" font-size="3.0" text-anchor="middle" fill="#1a1a30" stroke="#1a1a30" stroke-width="0.28" font-family="Liberation Sans" font-weight="bold" >PV11</text>
<text x="744.77" y="360.92" font-size="3.0" text-anchor="middle" fill="#2a1a10" stroke="#2a1a10" stroke-width="0.28" font-family="Liberation Sans" font-weight="bold" >36</text>
<text x="743.27" y="369.50" font-size="3.0" text-anchor="middle" fill="#2a1a10" stroke="#2a1a10" stroke-width="0.28" font-family="Liberation Sans" font-weight="bold" >260W</text>
<text x="743.27" y="378.08" font-size="3.0" text-anchor="middle" fill="#1a1a30" stroke="#1a1a30" stroke-width="0.28" font-family="Liberation Sans" font-weight="bold" >PV11</text>
<text x="744.77" y="389.52" font-size="3.0" text-anchor="middle" fill="#2a1a10" stroke="#2a1a10" stroke-width="0.28" font-family="Liberation Sans" font-weight="bold" >36</text>
<text x="743.27" y="398.10" font-size="3.0" text-anchor="middle" fill="#2a1a10" stroke="#2a1a10" stroke-width="0.28" font-family="Liberation Sans" font-weight="bold" >260W</text>
<text x="743.27" y="406.68" font-size="3.0" text-anchor="middle" fill="#1a1a30" stroke="#1a1a30" stroke-width="0.28" font-family="Liberation Sans" font-weight="bold" >PV11</text>
<rect x="700.50" y="422.50" width="13.90" height="5.80" fill="#fff" stroke="#000" stroke-width="1.2" />
<line x1="700.50" y1="427.90" x2="714.40" y2="427.90" stroke="#000" stroke-width="1.4" />
<polyline points="706.75,422.50 706.75,419.50 713.01,419.50 713.01,422.50" fill="#fff" stroke="#000" stroke-width="0.8"/>
<line x1="709.08" y1="419.50" x2="709.08" y2="422.50" stroke="#000" stroke-width="0.5" />
<line x1="710.68" y1="419.50" x2="710.68" y2="422.50" stroke="#000" stroke-width="0.5" />
<rect x="718.50" y="422.50" width="13.90" height="5.80" fill="#fff" stroke="#000" stroke-width="1.2" />
<line x1="718.50" y1="427.90" x2="732.40" y2="427.90" stroke="#000" stroke-width="1.4" />
<polyline points="724.75,422.50 724.75,419.50 731.01,419.50 731.01,422.50" fill="#fff" stroke="#000" stroke-width="0.8"/>
<line x1="727.08" y1="419.50" x2="727.08" y2="422.50" stroke="#000" stroke-width="0.5" />
<line x1="728.68" y1="419.50" x2="728.68" y2="422.50" stroke="#000" stroke-width="0.5" />
<rect x="736.20" y="422.50" width="14.60" height="5.80" fill="#fff" stroke="#000" stroke-width="1.2" />
<line x1="736.20" y1="427.90" x2="750.80" y2="427.90" stroke="#000" stroke-width="1.4" />
<polyline points="742.77,422.50 742.77,419.50 749.34,419.50 749.34,422.50" fill="#fff" stroke="#000" stroke-width="0.8"/>
<line x1="745.25" y1="419.50" x2="745.25" y2="422.50" stroke="#000" stroke-width="0.5" />
<line x1="746.85" y1="419.50" x2="746.85" y2="422.50" stroke="#000" stroke-width="0.5" />
<path d="M709.81,436.00 L738.99,436.00 Q745.16,446.40 738.99,456.80 L709.81,456.80 Q703.64,446.40 709.81,436.00 Z" fill="#fff" stroke="#000" stroke-width="1.15"/>
<line x1="709.81" y1="436.00" x2="709.81" y2="456.80" stroke="#000" stroke-width="0.8" />
<line x1="738.99" y1="436.00" x2="738.99" y2="456.80" stroke="#000" stroke-width="0.8" />
<circle cx="716.17" cy="446.40" r="3.74" fill="none" stroke="#000" stroke-width="0.7"/>
<rect x="706.70" y="462.30" width="14.60" height="21.90" fill="#fff" stroke="#000" stroke-width="2" shape-rendering="crispEdges"/>
<rect x="726.10" y="462.30" width="15.70" height="21.90" fill="#fff" stroke="#000" stroke-width="2" shape-rendering="crispEdges"/>
<rect x="811.60" y="308.40" width="170.20" height="173.60" fill="#fff" stroke="none" stroke-width="1" />
<rect x="812.60" y="309.40" width="168.20" height="171.60" fill="none" stroke="#000" stroke-width="2" shape-rendering="crispEdges"/>
<rect x="815.60" y="312.40" width="162.20" height="165.60" fill="none" stroke="#000" stroke-width="2" shape-rendering="crispEdges"/>
<rect x="857.30" y="334.10" width="103.00" height="57.20" fill="#fff" stroke="#000" stroke-width="1.1" shape-rendering="crispEdges"/>
<line x1="874.47" y1="334.10" x2="874.47" y2="391.30" stroke="#000" stroke-width="1" shape-rendering="crispEdges"/>
<line x1="891.63" y1="334.10" x2="891.63" y2="391.30" stroke="#000" stroke-width="1" shape-rendering="crispEdges"/>
<line x1="908.80" y1="334.10" x2="908.80" y2="391.30" stroke="#000" stroke-width="1" shape-rendering="crispEdges"/>
<line x1="925.97" y1="334.10" x2="925.97" y2="391.30" stroke="#000" stroke-width="1" shape-rendering="crispEdges"/>
<line x1="943.13" y1="334.10" x2="943.13" y2="391.30" stroke="#000" stroke-width="1" shape-rendering="crispEdges"/>
<line x1="857.30" y1="362.70" x2="960.30" y2="362.70" stroke="#000" stroke-width="1" shape-rendering="crispEdges"/>
<text x="867.38" y="339.82" font-size="3.0" text-anchor="middle" fill="#2a1a10" stroke="#2a1a10" stroke-width="0.28" font-family="Liberation Sans" font-weight="bold" >36</text>
<text x="865.88" y="348.40" font-size="3.0" text-anchor="middle" fill="#2a1a10" stroke="#2a1a10" stroke-width="0.28" font-family="Liberation Sans" font-weight="bold" >260W</text>
<text x="865.88" y="356.98" font-size="3.0" text-anchor="middle" fill="#1a1a30" stroke="#1a1a30" stroke-width="0.28" font-family="Liberation Sans" font-weight="bold" >PV11</text>
<text x="867.38" y="368.42" font-size="3.0" text-anchor="middle" fill="#2a1a10" stroke="#2a1a10" stroke-width="0.28" font-family="Liberation Sans" font-weight="bold" >36</text>
<text x="865.88" y="377.00" font-size="3.0" text-anchor="middle" fill="#2a1a10" stroke="#2a1a10" stroke-width="0.28" font-family="Liberation Sans" font-weight="bold" >260W</text>
<text x="865.88" y="385.58" font-size="3.0" text-anchor="middle" fill="#1a1a30" stroke="#1a1a30" stroke-width="0.28" font-family="Liberation Sans" font-weight="bold" >PV11</text>
<text x="884.55" y="339.82" font-size="3.0" text-anchor="middle" fill="#2a1a10" stroke="#2a1a10" stroke-width="0.28" font-family="Liberation Sans" font-weight="bold" >36</text>
<text x="883.05" y="348.40" font-size="3.0" text-anchor="middle" fill="#2a1a10" stroke="#2a1a10" stroke-width="0.28" font-family="Liberation Sans" font-weight="bold" >260W</text>
<text x="883.05" y="356.98" font-size="3.0" text-anchor="middle" fill="#1a1a30" stroke="#1a1a30" stroke-width="0.28" font-family="Liberation Sans" font-weight="bold" >PV11</text>
<text x="884.55" y="368.42" font-size="3.0" text-anchor="middle" fill="#2a1a10" stroke="#2a1a10" stroke-width="0.28" font-family="Liberation Sans" font-weight="bold" >36</text>
<text x="883.05" y="377.00" font-size="3.0" text-anchor="middle" fill="#2a1a10" stroke="#2a1a10" stroke-width="0.28" font-family="Liberation Sans" font-weight="bold" >260W</text>
<text x="883.05" y="385.58" font-size="3.0" text-anchor="middle" fill="#1a1a30" stroke="#1a1a30" stroke-width="0.28" font-family="Liberation Sans" font-weight="bold" >PV11</text>
<text x="901.72" y="339.82" font-size="3.0" text-anchor="middle" fill="#2a1a10" stroke="#2a1a10" stroke-width="0.28" font-family="Liberation Sans" font-weight="bold" >36</text>
<text x="900.22" y="348.40" font-size="3.0" text-anchor="middle" fill="#2a1a10" stroke="#2a1a10" stroke-width="0.28" font-family="Liberation Sans" font-weight="bold" >260W</text>
<text x="900.22" y="356.98" font-size="3.0" text-anchor="middle" fill="#1a1a30" stroke="#1a1a30" stroke-width="0.28" font-family="Liberation Sans" font-weight="bold" >PV11</text>
<text x="901.72" y="368.42" font-size="3.0" text-anchor="middle" fill="#2a1a10" stroke="#2a1a10" stroke-width="0.28" font-family="Liberation Sans" font-weight="bold" >36</text>
<text x="900.22" y="377.00" font-size="3.0" text-anchor="middle" fill="#2a1a10" stroke="#2a1a10" stroke-width="0.28" font-family="Liberation Sans" font-weight="bold" >260W</text>
<text x="900.22" y="385.58" font-size="3.0" text-anchor="middle" fill="#1a1a30" stroke="#1a1a30" stroke-width="0.28" font-family="Liberation Sans" font-weight="bold" >PV11</text>
<text x="918.88" y="339.82" font-size="3.0" text-anchor="middle" fill="#2a1a10" stroke="#2a1a10" stroke-width="0.28" font-family="Liberation Sans" font-weight="bold" >36</text>
<text x="917.38" y="348.40" font-size="3.0" text-anchor="middle" fill="#2a1a10" stroke="#2a1a10" stroke-width="0.28" font-family="Liberation Sans" font-weight="bold" >260W</text>
<text x="917.38" y="356.98" font-size="3.0" text-anchor="middle" fill="#1a1a30" stroke="#1a1a30" stroke-width="0.28" font-family="Liberation Sans" font-weight="bold" >PV11</text>
<text x="918.88" y="368.42" font-size="3.0" text-anchor="middle" fill="#2a1a10" stroke="#2a1a10" stroke-width="0.28" font-family="Liberation Sans" font-weight="bold" >36</text>
<text x="917.38" y="377.00" font-size="3.0" text-anchor="middle" fill="#2a1a10" stroke="#2a1a10" stroke-width="0.28" font-family="Liberation Sans" font-weight="bold" >260W</text>
<text x="917.38" y="385.58" font-size="3.0" text-anchor="middle" fill="#1a1a30" stroke="#1a1a30" stroke-width="0.28" font-family="Liberation Sans" font-weight="bold" >PV11</text>
<text x="936.05" y="339.82" font-size="3.0" text-anchor="middle" fill="#2a1a10" stroke="#2a1a10" stroke-width="0.28" font-family="Liberation Sans" font-weight="bold" >36</text>
<text x="934.55" y="348.40" font-size="3.0" text-anchor="middle" fill="#2a1a10" stroke="#2a1a10" stroke-width="0.28" font-family="Liberation Sans" font-weight="bold" >260W</text>
<text x="934.55" y="356.98" font-size="3.0" text-anchor="middle" fill="#1a1a30" stroke="#1a1a30" stroke-width="0.28" font-family="Liberation Sans" font-weight="bold" >PV11</text>
<text x="936.05" y="368.42" font-size="3.0" text-anchor="middle" fill="#2a1a10" stroke="#2a1a10" stroke-width="0.28" font-family="Liberation Sans" font-weight="bold" >36</text>
<text x="934.55" y="377.00" font-size="3.0" text-anchor="middle" fill="#2a1a10" stroke="#2a1a10" stroke-width="0.28" font-family="Liberation Sans" font-weight="bold" >260W</text>
<text x="934.55" y="385.58" font-size="3.0" text-anchor="middle" fill="#1a1a30" stroke="#1a1a30" stroke-width="0.28" font-family="Liberation Sans" font-weight="bold" >PV11</text>
<text x="953.22" y="339.82" font-size="3.0" text-anchor="middle" fill="#2a1a10" stroke="#2a1a10" stroke-width="0.28" font-family="Liberation Sans" font-weight="bold" >36</text>
<text x="951.72" y="348.40" font-size="3.0" text-anchor="middle" fill="#2a1a10" stroke="#2a1a10" stroke-width="0.28" font-family="Liberation Sans" font-weight="bold" >260W</text>
<text x="951.72" y="356.98" font-size="3.0" text-anchor="middle" fill="#1a1a30" stroke="#1a1a30" stroke-width="0.28" font-family="Liberation Sans" font-weight="bold" >PV11</text>
<text x="953.22" y="368.42" font-size="3.0" text-anchor="middle" fill="#2a1a10" stroke="#2a1a10" stroke-width="0.28" font-family="Liberation Sans" font-weight="bold" >36</text>
<text x="951.72" y="377.00" font-size="3.0" text-anchor="middle" fill="#2a1a10" stroke="#2a1a10" stroke-width="0.28" font-family="Liberation Sans" font-weight="bold" >260W</text>
<text x="951.72" y="385.58" font-size="3.0" text-anchor="middle" fill="#1a1a30" stroke="#1a1a30" stroke-width="0.28" font-family="Liberation Sans" font-weight="bold" >PV11</text>
<rect x="908.20" y="401.50" width="14.20" height="5.50" fill="#fff" stroke="#000" stroke-width="1.2" />
<line x1="908.20" y1="406.60" x2="922.40" y2="406.60" stroke="#000" stroke-width="1.4" />
<polyline points="914.59,401.50 914.59,398.50 920.98,398.50 920.98,401.50" fill="#fff" stroke="#000" stroke-width="0.8"/>
<line x1="916.99" y1="398.50" x2="916.99" y2="401.50" stroke="#000" stroke-width="0.5" />
<line x1="918.59" y1="398.50" x2="918.59" y2="401.50" stroke="#000" stroke-width="0.5" />
<rect x="926.00" y="401.50" width="14.20" height="5.50" fill="#fff" stroke="#000" stroke-width="1.2" />
<line x1="926.00" y1="406.60" x2="940.20" y2="406.60" stroke="#000" stroke-width="1.4" />
<polyline points="932.39,401.50 932.39,398.50 938.78,398.50 938.78,401.50" fill="#fff" stroke="#000" stroke-width="0.8"/>
<line x1="934.79" y1="398.50" x2="934.79" y2="401.50" stroke="#000" stroke-width="0.5" />
<line x1="936.38" y1="398.50" x2="936.38" y2="401.50" stroke="#000" stroke-width="0.5" />
<rect x="943.90" y="401.50" width="13.80" height="5.50" fill="#fff" stroke="#000" stroke-width="1.2" />
<line x1="943.90" y1="406.60" x2="957.70" y2="406.60" stroke="#000" stroke-width="1.4" />
<polyline points="950.11,401.50 950.11,398.50 956.32,398.50 956.32,401.50" fill="#fff" stroke="#000" stroke-width="0.8"/>
<line x1="952.42" y1="398.50" x2="952.42" y2="401.50" stroke="#000" stroke-width="0.5" />
<line x1="954.01" y1="398.50" x2="954.01" y2="401.50" stroke="#000" stroke-width="0.5" />
<path d="M917.18,414.40 L946.82,414.40 Q953.09,425.50 946.82,436.60 L917.18,436.60 Q910.91,425.50 917.18,414.40 Z" fill="#fff" stroke="#000" stroke-width="1.15"/>
<line x1="917.18" y1="414.40" x2="917.18" y2="436.60" stroke="#000" stroke-width="0.8" />
<line x1="946.82" y1="414.40" x2="946.82" y2="436.60" stroke="#000" stroke-width="0.8" />
<circle cx="923.64" cy="425.50" r="4.00" fill="none" stroke="#000" stroke-width="0.7"/>
<rect x="914.00" y="441.40" width="15.90" height="22.90" fill="#fff" stroke="#000" stroke-width="2" shape-rendering="crispEdges"/>
<rect x="934.50" y="441.40" width="15.50" height="22.90" fill="#fff" stroke="#000" stroke-width="2" shape-rendering="crispEdges"/>
<path d="M1019.6,291 H1116.2 V304.7 H1133 V291 H1229.1 V573.6 H1019.6 Z" fill="#fff" stroke="#000" stroke-width="1.8"/>
<line x1="1124.80" y1="304.70" x2="1124.80" y2="573.60" stroke="#000" stroke-width="4" />
<path d="M1022.8,295 H1113 V308.7 H1120.2 V569.8 H1022.8 Z" fill="none" stroke="#000" stroke-width="1.8"/>
<path d="M1128.9,308.7 H1137 V295 H1226.1 V569.8 H1128.9 Z" fill="none" stroke="#000" stroke-width="1.8"/>
<rect x="1034.50" y="338.80" width="13.80" height="4.90" fill="#fff" stroke="#000" stroke-width="1.2" />
<line x1="1034.50" y1="343.30" x2="1048.30" y2="343.30" stroke="#000" stroke-width="1.4" />
<polyline points="1040.71,338.80 1040.71,335.80 1046.92,335.80 1046.92,338.80" fill="#fff" stroke="#000" stroke-width="0.8"/>
<line x1="1043.02" y1="335.80" x2="1043.02" y2="338.80" stroke="#000" stroke-width="0.5" />
<line x1="1044.62" y1="335.80" x2="1044.62" y2="338.80" stroke="#000" stroke-width="0.5" />
<rect x="1051.80" y="338.80" width="13.90" height="4.90" fill="#fff" stroke="#000" stroke-width="1.2" />
<line x1="1051.80" y1="343.30" x2="1065.70" y2="343.30" stroke="#000" stroke-width="1.4" />
<polyline points="1058.06,338.80 1058.06,335.80 1064.31,335.80 1064.31,338.80" fill="#fff" stroke="#000" stroke-width="0.8"/>
<line x1="1060.38" y1="335.80" x2="1060.38" y2="338.80" stroke="#000" stroke-width="0.5" />
<line x1="1061.98" y1="335.80" x2="1061.98" y2="338.80" stroke="#000" stroke-width="0.5" />
<rect x="1070.10" y="338.80" width="13.90" height="4.90" fill="#fff" stroke="#000" stroke-width="1.2" />
<line x1="1070.10" y1="343.30" x2="1084.00" y2="343.30" stroke="#000" stroke-width="1.4" />
<polyline points="1076.36,338.80 1076.36,335.80 1082.61,335.80 1082.61,338.80" fill="#fff" stroke="#000" stroke-width="0.8"/>
<line x1="1078.68" y1="335.80" x2="1078.68" y2="338.80" stroke="#000" stroke-width="0.5" />
<line x1="1080.28" y1="335.80" x2="1080.28" y2="338.80" stroke="#000" stroke-width="0.5" />
<path d="M1044.38,367.50 L1072.62,367.50 Q1078.59,377.40 1072.62,387.30 L1044.38,387.30 Q1038.41,377.40 1044.38,367.50 Z" fill="#fff" stroke="#000" stroke-width="1.15"/>
<line x1="1044.38" y1="367.50" x2="1044.38" y2="387.30" stroke="#000" stroke-width="0.8" />
<line x1="1072.62" y1="367.50" x2="1072.62" y2="387.30" stroke="#000" stroke-width="0.8" />
<circle cx="1050.54" cy="377.40" r="3.56" fill="none" stroke="#000" stroke-width="0.7"/>
<rect x="1040.40" y="393.20" width="14.40" height="21.30" fill="#fff" stroke="#000" stroke-width="2" shape-rendering="crispEdges"/>
<rect x="1059.20" y="393.20" width="16.40" height="21.30" fill="#fff" stroke="#000" stroke-width="2" shape-rendering="crispEdges"/>
<rect x="1033.40" y="442.50" width="68.20" height="85.50" fill="#fff" stroke="#000" stroke-width="1.1" shape-rendering="crispEdges"/>
<line x1="1050.45" y1="442.50" x2="1050.45" y2="528.00" stroke="#000" stroke-width="1" shape-rendering="crispEdges"/>
<line x1="1067.50" y1="442.50" x2="1067.50" y2="528.00" stroke="#000" stroke-width="1" shape-rendering="crispEdges"/>
<line x1="1084.55" y1="442.50" x2="1084.55" y2="528.00" stroke="#000" stroke-width="1" shape-rendering="crispEdges"/>
<line x1="1033.40" y1="471.00" x2="1101.60" y2="471.00" stroke="#000" stroke-width="1" shape-rendering="crispEdges"/>
<line x1="1033.40" y1="499.50" x2="1101.60" y2="499.50" stroke="#000" stroke-width="1" shape-rendering="crispEdges"/>
<text x="1043.43" y="448.20" font-size="3.0" text-anchor="middle" fill="#2a1a10" stroke="#2a1a10" stroke-width="0.28" font-family="Liberation Sans" font-weight="bold" >36</text>
<text x="1041.93" y="456.75" font-size="3.0" text-anchor="middle" fill="#2a1a10" stroke="#2a1a10" stroke-width="0.28" font-family="Liberation Sans" font-weight="bold" >W08C</text>
<text x="1041.93" y="465.30" font-size="3.0" text-anchor="middle" fill="#1a1a30" stroke="#1a1a30" stroke-width="0.28" font-family="Liberation Sans" font-weight="bold" >11VP</text>
<text x="1043.43" y="476.70" font-size="3.0" text-anchor="middle" fill="#2a1a10" stroke="#2a1a10" stroke-width="0.28" font-family="Liberation Sans" font-weight="bold" >36</text>
<text x="1041.93" y="485.25" font-size="3.0" text-anchor="middle" fill="#2a1a10" stroke="#2a1a10" stroke-width="0.28" font-family="Liberation Sans" font-weight="bold" >W08C</text>
<text x="1041.93" y="493.80" font-size="3.0" text-anchor="middle" fill="#1a1a30" stroke="#1a1a30" stroke-width="0.28" font-family="Liberation Sans" font-weight="bold" >11VP</text>
<text x="1043.43" y="505.20" font-size="3.0" text-anchor="middle" fill="#2a1a10" stroke="#2a1a10" stroke-width="0.28" font-family="Liberation Sans" font-weight="bold" >36</text>
<text x="1041.93" y="513.75" font-size="3.0" text-anchor="middle" fill="#2a1a10" stroke="#2a1a10" stroke-width="0.28" font-family="Liberation Sans" font-weight="bold" >W08C</text>
<text x="1041.93" y="522.30" font-size="3.0" text-anchor="middle" fill="#1a1a30" stroke="#1a1a30" stroke-width="0.28" font-family="Liberation Sans" font-weight="bold" >11VP</text>
<text x="1060.47" y="448.20" font-size="3.0" text-anchor="middle" fill="#2a1a10" stroke="#2a1a10" stroke-width="0.28" font-family="Liberation Sans" font-weight="bold" >36</text>
<text x="1058.97" y="456.75" font-size="3.0" text-anchor="middle" fill="#2a1a10" stroke="#2a1a10" stroke-width="0.28" font-family="Liberation Sans" font-weight="bold" >W08C</text>
<text x="1058.97" y="465.30" font-size="3.0" text-anchor="middle" fill="#1a1a30" stroke="#1a1a30" stroke-width="0.28" font-family="Liberation Sans" font-weight="bold" >11VP</text>
<text x="1060.47" y="476.70" font-size="3.0" text-anchor="middle" fill="#2a1a10" stroke="#2a1a10" stroke-width="0.28" font-family="Liberation Sans" font-weight="bold" >36</text>
<text x="1058.97" y="485.25" font-size="3.0" text-anchor="middle" fill="#2a1a10" stroke="#2a1a10" stroke-width="0.28" font-family="Liberation Sans" font-weight="bold" >W08C</text>
<text x="1058.97" y="493.80" font-size="3.0" text-anchor="middle" fill="#1a1a30" stroke="#1a1a30" stroke-width="0.28" font-family="Liberation Sans" font-weight="bold" >11VP</text>
<text x="1060.47" y="505.20" font-size="3.0" text-anchor="middle" fill="#2a1a10" stroke="#2a1a10" stroke-width="0.28" font-family="Liberation Sans" font-weight="bold" >36</text>
<text x="1058.97" y="513.75" font-size="3.0" text-anchor="middle" fill="#2a1a10" stroke="#2a1a10" stroke-width="0.28" font-family="Liberation Sans" font-weight="bold" >W08C</text>
<text x="1058.97" y="522.30" font-size="3.0" text-anchor="middle" fill="#1a1a30" stroke="#1a1a30" stroke-width="0.28" font-family="Liberation Sans" font-weight="bold" >11VP</text>
<text x="1077.53" y="448.20" font-size="3.0" text-anchor="middle" fill="#2a1a10" stroke="#2a1a10" stroke-width="0.28" font-family="Liberation Sans" font-weight="bold" >36</text>
<text x="1076.03" y="456.75" font-size="3.0" text-anchor="middle" fill="#2a1a10" stroke="#2a1a10" stroke-width="0.28" font-family="Liberation Sans" font-weight="bold" >W08C</text>
<text x="1076.03" y="465.30" font-size="3.0" text-anchor="middle" fill="#1a1a30" stroke="#1a1a30" stroke-width="0.28" font-family="Liberation Sans" font-weight="bold" >11VP</text>
<text x="1077.53" y="476.70" font-size="3.0" text-anchor="middle" fill="#2a1a10" stroke="#2a1a10" stroke-width="0.28" font-family="Liberation Sans" font-weight="bold" >36</text>
<text x="1076.03" y="485.25" font-size="3.0" text-anchor="middle" fill="#2a1a10" stroke="#2a1a10" stroke-width="0.28" font-family="Liberation Sans" font-weight="bold" >W08C</text>
<text x="1076.03" y="493.80" font-size="3.0" text-anchor="middle" fill="#1a1a30" stroke="#1a1a30" stroke-width="0.28" font-family="Liberation Sans" font-weight="bold" >11VP</text>
<text x="1077.53" y="505.20" font-size="3.0" text-anchor="middle" fill="#2a1a10" stroke="#2a1a10" stroke-width="0.28" font-family="Liberation Sans" font-weight="bold" >36</text>
<text x="1076.03" y="513.75" font-size="3.0" text-anchor="middle" fill="#2a1a10" stroke="#2a1a10" stroke-width="0.28" font-family="Liberation Sans" font-weight="bold" >W08C</text>
<text x="1076.03" y="522.30" font-size="3.0" text-anchor="middle" fill="#1a1a30" stroke="#1a1a30" stroke-width="0.28" font-family="Liberation Sans" font-weight="bold" >11VP</text>
<text x="1094.57" y="448.20" font-size="3.0" text-anchor="middle" fill="#2a1a10" stroke="#2a1a10" stroke-width="0.28" font-family="Liberation Sans" font-weight="bold" >36</text>
<text x="1093.07" y="456.75" font-size="3.0" text-anchor="middle" fill="#2a1a10" stroke="#2a1a10" stroke-width="0.28" font-family="Liberation Sans" font-weight="bold" >W08C</text>
<text x="1093.07" y="465.30" font-size="3.0" text-anchor="middle" fill="#1a1a30" stroke="#1a1a30" stroke-width="0.28" font-family="Liberation Sans" font-weight="bold" >11VP</text>
<text x="1094.57" y="476.70" font-size="3.0" text-anchor="middle" fill="#2a1a10" stroke="#2a1a10" stroke-width="0.28" font-family="Liberation Sans" font-weight="bold" >36</text>
<text x="1093.07" y="485.25" font-size="3.0" text-anchor="middle" fill="#2a1a10" stroke="#2a1a10" stroke-width="0.28" font-family="Liberation Sans" font-weight="bold" >W08C</text>
<text x="1093.07" y="493.80" font-size="3.0" text-anchor="middle" fill="#1a1a30" stroke="#1a1a30" stroke-width="0.28" font-family="Liberation Sans" font-weight="bold" >11VP</text>
<text x="1094.57" y="505.20" font-size="3.0" text-anchor="middle" fill="#2a1a10" stroke="#2a1a10" stroke-width="0.28" font-family="Liberation Sans" font-weight="bold" >36</text>
<text x="1093.07" y="513.75" font-size="3.0" text-anchor="middle" fill="#2a1a10" stroke="#2a1a10" stroke-width="0.28" font-family="Liberation Sans" font-weight="bold" >W08C</text>
<text x="1093.07" y="522.30" font-size="3.0" text-anchor="middle" fill="#1a1a30" stroke="#1a1a30" stroke-width="0.28" font-family="Liberation Sans" font-weight="bold" >11VP</text>
<rect x="1164.70" y="338.80" width="13.40" height="4.90" fill="#fff" stroke="#000" stroke-width="1.2" />
<line x1="1164.70" y1="343.30" x2="1178.10" y2="343.30" stroke="#000" stroke-width="1.4" />
<polyline points="1170.73,338.80 1170.73,335.80 1176.76,335.80 1176.76,338.80" fill="#fff" stroke="#000" stroke-width="0.8"/>
<line x1="1172.94" y1="335.80" x2="1172.94" y2="338.80" stroke="#000" stroke-width="0.5" />
<line x1="1174.54" y1="335.80" x2="1174.54" y2="338.80" stroke="#000" stroke-width="0.5" />
<rect x="1183.00" y="338.80" width="14.00" height="4.90" fill="#fff" stroke="#000" stroke-width="1.2" />
<line x1="1183.00" y1="343.30" x2="1197.00" y2="343.30" stroke="#000" stroke-width="1.4" />
<polyline points="1189.30,338.80 1189.30,335.80 1195.60,335.80 1195.60,338.80" fill="#fff" stroke="#000" stroke-width="0.8"/>
<line x1="1191.65" y1="335.80" x2="1191.65" y2="338.80" stroke="#000" stroke-width="0.5" />
<line x1="1193.25" y1="335.80" x2="1193.25" y2="338.80" stroke="#000" stroke-width="0.5" />
<rect x="1200.40" y="338.80" width="13.90" height="4.90" fill="#fff" stroke="#000" stroke-width="1.2" />
<line x1="1200.40" y1="343.30" x2="1214.30" y2="343.30" stroke="#000" stroke-width="1.4" />
<polyline points="1206.65,338.80 1206.65,335.80 1212.91,335.80 1212.91,338.80" fill="#fff" stroke="#000" stroke-width="0.8"/>
<line x1="1208.98" y1="335.80" x2="1208.98" y2="338.80" stroke="#000" stroke-width="0.5" />
<line x1="1210.58" y1="335.80" x2="1210.58" y2="338.80" stroke="#000" stroke-width="0.5" />
<path d="M1177.12,367.50 L1204.88,367.50 Q1210.76,377.40 1204.88,387.30 L1177.12,387.30 Q1171.24,377.40 1177.12,367.50 Z" fill="#fff" stroke="#000" stroke-width="1.15"/>
<line x1="1177.12" y1="367.50" x2="1177.12" y2="387.30" stroke="#000" stroke-width="0.8" />
<line x1="1204.88" y1="367.50" x2="1204.88" y2="387.30" stroke="#000" stroke-width="0.8" />
<circle cx="1198.83" cy="377.40" r="3.56" fill="none" stroke="#000" stroke-width="0.7"/>
<rect x="1174.20" y="393.20" width="14.30" height="21.30" fill="#fff" stroke="#000" stroke-width="2" shape-rendering="crispEdges"/>
<rect x="1194.00" y="393.20" width="15.30" height="21.30" fill="#fff" stroke="#000" stroke-width="2" shape-rendering="crispEdges"/>
<rect x="1147.40" y="442.50" width="68.40" height="85.50" fill="#fff" stroke="#000" stroke-width="1.1" shape-rendering="crispEdges"/>
<line x1="1164.50" y1="442.50" x2="1164.50" y2="528.00" stroke="#000" stroke-width="1" shape-rendering="crispEdges"/>
<line x1="1181.60" y1="442.50" x2="1181.60" y2="528.00" stroke="#000" stroke-width="1" shape-rendering="crispEdges"/>
<line x1="1198.70" y1="442.50" x2="1198.70" y2="528.00" stroke="#000" stroke-width="1" shape-rendering="crispEdges"/>
<line x1="1147.40" y1="471.00" x2="1215.80" y2="471.00" stroke="#000" stroke-width="1" shape-rendering="crispEdges"/>
<line x1="1147.40" y1="499.50" x2="1215.80" y2="499.50" stroke="#000" stroke-width="1" shape-rendering="crispEdges"/>
<text x="1157.45" y="448.20" font-size="3.0" text-anchor="middle" fill="#2a1a10" stroke="#2a1a10" stroke-width="0.28" font-family="Liberation Sans" font-weight="bold" >36</text>
<text x="1155.95" y="456.75" font-size="3.0" text-anchor="middle" fill="#2a1a10" stroke="#2a1a10" stroke-width="0.28" font-family="Liberation Sans" font-weight="bold" >260W</text>
<text x="1155.95" y="465.30" font-size="3.0" text-anchor="middle" fill="#1a1a30" stroke="#1a1a30" stroke-width="0.28" font-family="Liberation Sans" font-weight="bold" >PV11</text>
<text x="1157.45" y="476.70" font-size="3.0" text-anchor="middle" fill="#2a1a10" stroke="#2a1a10" stroke-width="0.28" font-family="Liberation Sans" font-weight="bold" >36</text>
<text x="1155.95" y="485.25" font-size="3.0" text-anchor="middle" fill="#2a1a10" stroke="#2a1a10" stroke-width="0.28" font-family="Liberation Sans" font-weight="bold" >260W</text>
<text x="1155.95" y="493.80" font-size="3.0" text-anchor="middle" fill="#1a1a30" stroke="#1a1a30" stroke-width="0.28" font-family="Liberation Sans" font-weight="bold" >PV11</text>
<text x="1157.45" y="505.20" font-size="3.0" text-anchor="middle" fill="#2a1a10" stroke="#2a1a10" stroke-width="0.28" font-family="Liberation Sans" font-weight="bold" >36</text>
<text x="1155.95" y="513.75" font-size="3.0" text-anchor="middle" fill="#2a1a10" stroke="#2a1a10" stroke-width="0.28" font-family="Liberation Sans" font-weight="bold" >260W</text>
<text x="1155.95" y="522.30" font-size="3.0" text-anchor="middle" fill="#1a1a30" stroke="#1a1a30" stroke-width="0.28" font-family="Liberation Sans" font-weight="bold" >PV11</text>
<text x="1174.55" y="448.20" font-size="3.0" text-anchor="middle" fill="#2a1a10" stroke="#2a1a10" stroke-width="0.28" font-family="Liberation Sans" font-weight="bold" >36</text>
<text x="1173.05" y="456.75" font-size="3.0" text-anchor="middle" fill="#2a1a10" stroke="#2a1a10" stroke-width="0.28" font-family="Liberation Sans" font-weight="bold" >260W</text>
<text x="1173.05" y="465.30" font-size="3.0" text-anchor="middle" fill="#1a1a30" stroke="#1a1a30" stroke-width="0.28" font-family="Liberation Sans" font-weight="bold" >PV11</text>
<text x="1174.55" y="476.70" font-size="3.0" text-anchor="middle" fill="#2a1a10" stroke="#2a1a10" stroke-width="0.28" font-family="Liberation Sans" font-weight="bold" >36</text>
<text x="1173.05" y="485.25" font-size="3.0" text-anchor="middle" fill="#2a1a10" stroke="#2a1a10" stroke-width="0.28" font-family="Liberation Sans" font-weight="bold" >260W</text>
<text x="1173.05" y="493.80" font-size="3.0" text-anchor="middle" fill="#1a1a30" stroke="#1a1a30" stroke-width="0.28" font-family="Liberation Sans" font-weight="bold" >PV11</text>
<text x="1174.55" y="505.20" font-size="3.0" text-anchor="middle" fill="#2a1a10" stroke="#2a1a10" stroke-width="0.28" font-family="Liberation Sans" font-weight="bold" >36</text>
<text x="1173.05" y="513.75" font-size="3.0" text-anchor="middle" fill="#2a1a10" stroke="#2a1a10" stroke-width="0.28" font-family="Liberation Sans" font-weight="bold" >260W</text>
<text x="1173.05" y="522.30" font-size="3.0" text-anchor="middle" fill="#1a1a30" stroke="#1a1a30" stroke-width="0.28" font-family="Liberation Sans" font-weight="bold" >PV11</text>
<text x="1191.65" y="448.20" font-size="3.0" text-anchor="middle" fill="#2a1a10" stroke="#2a1a10" stroke-width="0.28" font-family="Liberation Sans" font-weight="bold" >36</text>
<text x="1190.15" y="456.75" font-size="3.0" text-anchor="middle" fill="#2a1a10" stroke="#2a1a10" stroke-width="0.28" font-family="Liberation Sans" font-weight="bold" >260W</text>
<text x="1190.15" y="465.30" font-size="3.0" text-anchor="middle" fill="#1a1a30" stroke="#1a1a30" stroke-width="0.28" font-family="Liberation Sans" font-weight="bold" >PV11</text>
<text x="1191.65" y="476.70" font-size="3.0" text-anchor="middle" fill="#2a1a10" stroke="#2a1a10" stroke-width="0.28" font-family="Liberation Sans" font-weight="bold" >36</text>
<text x="1190.15" y="485.25" font-size="3.0" text-anchor="middle" fill="#2a1a10" stroke="#2a1a10" stroke-width="0.28" font-family="Liberation Sans" font-weight="bold" >260W</text>
<text x="1190.15" y="493.80" font-size="3.0" text-anchor="middle" fill="#1a1a30" stroke="#1a1a30" stroke-width="0.28" font-family="Liberation Sans" font-weight="bold" >PV11</text>
<text x="1191.65" y="505.20" font-size="3.0" text-anchor="middle" fill="#2a1a10" stroke="#2a1a10" stroke-width="0.28" font-family="Liberation Sans" font-weight="bold" >36</text>
<text x="1190.15" y="513.75" font-size="3.0" text-anchor="middle" fill="#2a1a10" stroke="#2a1a10" stroke-width="0.28" font-family="Liberation Sans" font-weight="bold" >260W</text>
<text x="1190.15" y="522.30" font-size="3.0" text-anchor="middle" fill="#1a1a30" stroke="#1a1a30" stroke-width="0.28" font-family="Liberation Sans" font-weight="bold" >PV11</text>
<text x="1208.75" y="448.20" font-size="3.0" text-anchor="middle" fill="#2a1a10" stroke="#2a1a10" stroke-width="0.28" font-family="Liberation Sans" font-weight="bold" >36</text>
<text x="1207.25" y="456.75" font-size="3.0" text-anchor="middle" fill="#2a1a10" stroke="#2a1a10" stroke-width="0.28" font-family="Liberation Sans" font-weight="bold" >260W</text>
<text x="1207.25" y="465.30" font-size="3.0" text-anchor="middle" fill="#1a1a30" stroke="#1a1a30" stroke-width="0.28" font-family="Liberation Sans" font-weight="bold" >PV11</text>
<text x="1208.75" y="476.70" font-size="3.0" text-anchor="middle" fill="#2a1a10" stroke="#2a1a10" stroke-width="0.28" font-family="Liberation Sans" font-weight="bold" >36</text>
<text x="1207.25" y="485.25" font-size="3.0" text-anchor="middle" fill="#2a1a10" stroke="#2a1a10" stroke-width="0.28" font-family="Liberation Sans" font-weight="bold" >260W</text>
<text x="1207.25" y="493.80" font-size="3.0" text-anchor="middle" fill="#1a1a30" stroke="#1a1a30" stroke-width="0.28" font-family="Liberation Sans" font-weight="bold" >PV11</text>
<text x="1208.75" y="505.20" font-size="3.0" text-anchor="middle" fill="#2a1a10" stroke="#2a1a10" stroke-width="0.28" font-family="Liberation Sans" font-weight="bold" >36</text>
<text x="1207.25" y="513.75" font-size="3.0" text-anchor="middle" fill="#2a1a10" stroke="#2a1a10" stroke-width="0.28" font-family="Liberation Sans" font-weight="bold" >260W</text>
<text x="1207.25" y="522.30" font-size="3.0" text-anchor="middle" fill="#1a1a30" stroke="#1a1a30" stroke-width="0.28" font-family="Liberation Sans" font-weight="bold" >PV11</text>
<rect x="1266.70" y="253.60" width="104.70" height="325.40" fill="#fff" stroke="none" stroke-width="1" />
<rect x="1267.70" y="254.60" width="102.70" height="323.40" fill="none" stroke="#000" stroke-width="2" shape-rendering="crispEdges"/>
<rect x="1270.70" y="257.60" width="96.70" height="317.40" fill="none" stroke="#000" stroke-width="2" shape-rendering="crispEdges"/>
<rect x="1292.30" y="310.50" width="15.10" height="5.40" fill="#fff" stroke="#000" stroke-width="1.2" />
<line x1="1292.30" y1="315.50" x2="1307.40" y2="315.50" stroke="#000" stroke-width="1.4" />
<polyline points="1299.10,310.50 1299.10,307.50 1305.89,307.50 1305.89,310.50" fill="#fff" stroke="#000" stroke-width="0.8"/>
<line x1="1301.69" y1="307.50" x2="1301.69" y2="310.50" stroke="#000" stroke-width="0.5" />
<line x1="1303.29" y1="307.50" x2="1303.29" y2="310.50" stroke="#000" stroke-width="0.5" />
<rect x="1309.70" y="310.50" width="15.20" height="5.40" fill="#fff" stroke="#000" stroke-width="1.2" />
<line x1="1309.70" y1="315.50" x2="1324.90" y2="315.50" stroke="#000" stroke-width="1.4" />
<polyline points="1316.54,310.50 1316.54,307.50 1323.38,307.50 1323.38,310.50" fill="#fff" stroke="#000" stroke-width="0.8"/>
<line x1="1319.16" y1="307.50" x2="1319.16" y2="310.50" stroke="#000" stroke-width="0.5" />
<line x1="1320.76" y1="307.50" x2="1320.76" y2="310.50" stroke="#000" stroke-width="0.5" />
<rect x="1327.80" y="310.50" width="15.70" height="5.40" fill="#fff" stroke="#000" stroke-width="1.2" />
<line x1="1327.80" y1="315.50" x2="1343.50" y2="315.50" stroke="#000" stroke-width="1.4" />
<polyline points="1334.87,310.50 1334.87,307.50 1341.93,307.50 1341.93,310.50" fill="#fff" stroke="#000" stroke-width="0.8"/>
<line x1="1337.60" y1="307.50" x2="1337.60" y2="310.50" stroke="#000" stroke-width="0.5" />
<line x1="1339.20" y1="307.50" x2="1339.20" y2="310.50" stroke="#000" stroke-width="0.5" />
<path d="M1305.04,339.20 L1333.66,339.20 Q1339.72,349.95 1333.66,360.70 L1305.04,360.70 Q1298.98,349.95 1305.04,339.20 Z" fill="#fff" stroke="#000" stroke-width="1.15"/>
<line x1="1305.04" y1="339.20" x2="1305.04" y2="360.70" stroke="#000" stroke-width="0.8" />
<line x1="1333.66" y1="339.20" x2="1333.66" y2="360.70" stroke="#000" stroke-width="0.8" />
<circle cx="1311.28" cy="349.95" r="3.87" fill="none" stroke="#000" stroke-width="0.7"/>
<rect x="1300.80" y="365.20" width="15.50" height="22.40" fill="#fff" stroke="#000" stroke-width="2" shape-rendering="crispEdges"/>
<rect x="1321.20" y="365.20" width="15.50" height="22.40" fill="#fff" stroke="#000" stroke-width="2" shape-rendering="crispEdges"/>
<rect x="1292.90" y="414.80" width="51.80" height="86.20" fill="#fff" stroke="#000" stroke-width="1.1" shape-rendering="crispEdges"/>
<line x1="1310.17" y1="414.80" x2="1310.17" y2="501.00" stroke="#000" stroke-width="1" shape-rendering="crispEdges"/>
<line x1="1327.43" y1="414.80" x2="1327.43" y2="501.00" stroke="#000" stroke-width="1" shape-rendering="crispEdges"/>
<line x1="1292.90" y1="443.53" x2="1344.70" y2="443.53" stroke="#000" stroke-width="1" shape-rendering="crispEdges"/>
<line x1="1292.90" y1="472.27" x2="1344.70" y2="472.27" stroke="#000" stroke-width="1" shape-rendering="crispEdges"/>
<text x="1303.03" y="420.55" font-size="3.0" text-anchor="middle" fill="#2a1a10" stroke="#2a1a10" stroke-width="0.28" font-family="Liberation Sans" font-weight="bold" >36</text>
<text x="1301.53" y="429.17" font-size="3.0" text-anchor="middle" fill="#2a1a10" stroke="#2a1a10" stroke-width="0.28" font-family="Liberation Sans" font-weight="bold" >260W</text>
<text x="1301.53" y="437.79" font-size="3.0" text-anchor="middle" fill="#1a1a30" stroke="#1a1a30" stroke-width="0.28" font-family="Liberation Sans" font-weight="bold" >PV11</text>
<text x="1303.03" y="449.28" font-size="3.0" text-anchor="middle" fill="#2a1a10" stroke="#2a1a10" stroke-width="0.28" font-family="Liberation Sans" font-weight="bold" >36</text>
<text x="1301.53" y="457.90" font-size="3.0" text-anchor="middle" fill="#2a1a10" stroke="#2a1a10" stroke-width="0.28" font-family="Liberation Sans" font-weight="bold" >260W</text>
<text x="1301.53" y="466.52" font-size="3.0" text-anchor="middle" fill="#1a1a30" stroke="#1a1a30" stroke-width="0.28" font-family="Liberation Sans" font-weight="bold" >PV11</text>
<text x="1303.03" y="478.01" font-size="3.0" text-anchor="middle" fill="#2a1a10" stroke="#2a1a10" stroke-width="0.28" font-family="Liberation Sans" font-weight="bold" >36</text>
<text x="1301.53" y="486.63" font-size="3.0" text-anchor="middle" fill="#2a1a10" stroke="#2a1a10" stroke-width="0.28" font-family="Liberation Sans" font-weight="bold" >260W</text>
<text x="1301.53" y="495.25" font-size="3.0" text-anchor="middle" fill="#1a1a30" stroke="#1a1a30" stroke-width="0.28" font-family="Liberation Sans" font-weight="bold" >PV11</text>
<text x="1320.30" y="420.55" font-size="3.0" text-anchor="middle" fill="#2a1a10" stroke="#2a1a10" stroke-width="0.28" font-family="Liberation Sans" font-weight="bold" >36</text>
<text x="1318.80" y="429.17" font-size="3.0" text-anchor="middle" fill="#2a1a10" stroke="#2a1a10" stroke-width="0.28" font-family="Liberation Sans" font-weight="bold" >260W</text>
<text x="1318.80" y="437.79" font-size="3.0" text-anchor="middle" fill="#1a1a30" stroke="#1a1a30" stroke-width="0.28" font-family="Liberation Sans" font-weight="bold" >PV11</text>
<text x="1320.30" y="449.28" font-size="3.0" text-anchor="middle" fill="#2a1a10" stroke="#2a1a10" stroke-width="0.28" font-family="Liberation Sans" font-weight="bold" >36</text>
<text x="1318.80" y="457.90" font-size="3.0" text-anchor="middle" fill="#2a1a10" stroke="#2a1a10" stroke-width="0.28" font-family="Liberation Sans" font-weight="bold" >260W</text>
<text x="1318.80" y="466.52" font-size="3.0" text-anchor="middle" fill="#1a1a30" stroke="#1a1a30" stroke-width="0.28" font-family="Liberation Sans" font-weight="bold" >PV11</text>
<text x="1320.30" y="478.01" font-size="3.0" text-anchor="middle" fill="#2a1a10" stroke="#2a1a10" stroke-width="0.28" font-family="Liberation Sans" font-weight="bold" >36</text>
<text x="1318.80" y="486.63" font-size="3.0" text-anchor="middle" fill="#2a1a10" stroke="#2a1a10" stroke-width="0.28" font-family="Liberation Sans" font-weight="bold" >260W</text>
<text x="1318.80" y="495.25" font-size="3.0" text-anchor="middle" fill="#1a1a30" stroke="#1a1a30" stroke-width="0.28" font-family="Liberation Sans" font-weight="bold" >PV11</text>
<text x="1337.57" y="420.55" font-size="3.0" text-anchor="middle" fill="#2a1a10" stroke="#2a1a10" stroke-width="0.28" font-family="Liberation Sans" font-weight="bold" >36</text>
<text x="1336.07" y="429.17" font-size="3.0" text-anchor="middle" fill="#2a1a10" stroke="#2a1a10" stroke-width="0.28" font-family="Liberation Sans" font-weight="bold" >260W</text>
<text x="1336.07" y="437.79" font-size="3.0" text-anchor="middle" fill="#1a1a30" stroke="#1a1a30" stroke-width="0.28" font-family="Liberation Sans" font-weight="bold" >PV11</text>
<text x="1337.57" y="449.28" font-size="3.0" text-anchor="middle" fill="#2a1a10" stroke="#2a1a10" stroke-width="0.28" font-family="Liberation Sans" font-weight="bold" >36</text>
<text x="1336.07" y="457.90" font-size="3.0" text-anchor="middle" fill="#2a1a10" stroke="#2a1a10" stroke-width="0.28" font-family="Liberation Sans" font-weight="bold" >260W</text>
<text x="1336.07" y="466.52" font-size="3.0" text-anchor="middle" fill="#1a1a30" stroke="#1a1a30" stroke-width="0.28" font-family="Liberation Sans" font-weight="bold" >PV11</text>
<text x="1337.57" y="478.01" font-size="3.0" text-anchor="middle" fill="#2a1a10" stroke="#2a1a10" stroke-width="0.28" font-family="Liberation Sans" font-weight="bold" >36</text>
<text x="1336.07" y="486.63" font-size="3.0" text-anchor="middle" fill="#2a1a10" stroke="#2a1a10" stroke-width="0.28" font-family="Liberation Sans" font-weight="bold" >260W</text>
<text x="1336.07" y="495.25" font-size="3.0" text-anchor="middle" fill="#1a1a30" stroke="#1a1a30" stroke-width="0.28" font-family="Liberation Sans" font-weight="bold" >PV11</text>
<rect x="1409.30" y="227.40" width="104.70" height="325.40" fill="#fff" stroke="none" stroke-width="1" />
<rect x="1410.30" y="228.40" width="102.70" height="323.40" fill="none" stroke="#000" stroke-width="2" shape-rendering="crispEdges"/>
<rect x="1413.30" y="231.40" width="96.70" height="317.40" fill="none" stroke="#000" stroke-width="2" shape-rendering="crispEdges"/>
<rect x="1433.70" y="284.50" width="16.30" height="5.20" fill="#fff" stroke="#000" stroke-width="1.2" />
<line x1="1433.70" y1="289.30" x2="1450.00" y2="289.30" stroke="#000" stroke-width="1.4" />
<polyline points="1441.04,284.50 1441.04,281.50 1448.37,281.50 1448.37,284.50" fill="#fff" stroke="#000" stroke-width="0.8"/>
<line x1="1443.90" y1="281.50" x2="1443.90" y2="284.50" stroke="#000" stroke-width="0.5" />
<line x1="1445.50" y1="281.50" x2="1445.50" y2="284.50" stroke="#000" stroke-width="0.5" />
<rect x="1452.30" y="284.50" width="15.20" height="5.20" fill="#fff" stroke="#000" stroke-width="1.2" />
<line x1="1452.30" y1="289.30" x2="1467.50" y2="289.30" stroke="#000" stroke-width="1.4" />
<polyline points="1459.14,284.50 1459.14,281.50 1465.98,281.50 1465.98,284.50" fill="#fff" stroke="#000" stroke-width="0.8"/>
<line x1="1461.76" y1="281.50" x2="1461.76" y2="284.50" stroke="#000" stroke-width="0.5" />
<line x1="1463.36" y1="281.50" x2="1463.36" y2="284.50" stroke="#000" stroke-width="0.5" />
<rect x="1469.80" y="284.50" width="16.20" height="5.20" fill="#fff" stroke="#000" stroke-width="1.2" />
<line x1="1469.80" y1="289.30" x2="1486.00" y2="289.30" stroke="#000" stroke-width="1.4" />
<polyline points="1477.09,284.50 1477.09,281.50 1484.38,281.50 1484.38,284.50" fill="#fff" stroke="#000" stroke-width="0.8"/>
<line x1="1479.94" y1="281.50" x2="1479.94" y2="284.50" stroke="#000" stroke-width="0.5" />
<line x1="1481.54" y1="281.50" x2="1481.54" y2="284.50" stroke="#000" stroke-width="0.5" />
<path d="M1446.57,313.00 L1476.13,313.00 Q1482.38,323.75 1476.13,334.50 L1446.57,334.50 Q1440.32,323.75 1446.57,313.00 Z" fill="#fff" stroke="#000" stroke-width="1.15"/>
<line x1="1446.57" y1="313.00" x2="1446.57" y2="334.50" stroke="#000" stroke-width="0.8" />
<line x1="1476.13" y1="313.00" x2="1476.13" y2="334.50" stroke="#000" stroke-width="0.8" />
<circle cx="1453.01" cy="323.75" r="3.87" fill="none" stroke="#000" stroke-width="0.7"/>
<rect x="1443.40" y="338.40" width="15.60" height="24.20" fill="#fff" stroke="#000" stroke-width="2" shape-rendering="crispEdges"/>
<rect x="1463.80" y="338.40" width="15.50" height="24.20" fill="#fff" stroke="#000" stroke-width="2" shape-rendering="crispEdges"/>
<rect x="1434.90" y="388.60" width="53.00" height="86.20" fill="#fff" stroke="#000" stroke-width="1.1" shape-rendering="crispEdges"/>
<line x1="1452.57" y1="388.60" x2="1452.57" y2="474.80" stroke="#000" stroke-width="1" shape-rendering="crispEdges"/>
<line x1="1470.23" y1="388.60" x2="1470.23" y2="474.80" stroke="#000" stroke-width="1" shape-rendering="crispEdges"/>
<line x1="1434.90" y1="417.33" x2="1487.90" y2="417.33" stroke="#000" stroke-width="1" shape-rendering="crispEdges"/>
<line x1="1434.90" y1="446.07" x2="1487.90" y2="446.07" stroke="#000" stroke-width="1" shape-rendering="crispEdges"/>
<text x="1445.23" y="394.35" font-size="3.0" text-anchor="middle" fill="#2a1a10" stroke="#2a1a10" stroke-width="0.28" font-family="Liberation Sans" font-weight="bold" >36</text>
<text x="1443.73" y="402.97" font-size="3.0" text-anchor="middle" fill="#2a1a10" stroke="#2a1a10" stroke-width="0.28" font-family="Liberation Sans" font-weight="bold" >260W</text>
<text x="1443.73" y="411.59" font-size="3.0" text-anchor="middle" fill="#1a1a30" stroke="#1a1a30" stroke-width="0.28" font-family="Liberation Sans" font-weight="bold" >PV11</text>
<text x="1445.23" y="423.08" font-size="3.0" text-anchor="middle" fill="#2a1a10" stroke="#2a1a10" stroke-width="0.28" font-family="Liberation Sans" font-weight="bold" >36</text>
<text x="1443.73" y="431.70" font-size="3.0" text-anchor="middle" fill="#2a1a10" stroke="#2a1a10" stroke-width="0.28" font-family="Liberation Sans" font-weight="bold" >260W</text>
<text x="1443.73" y="440.32" font-size="3.0" text-anchor="middle" fill="#1a1a30" stroke="#1a1a30" stroke-width="0.28" font-family="Liberation Sans" font-weight="bold" >PV11</text>
<text x="1445.23" y="451.81" font-size="3.0" text-anchor="middle" fill="#2a1a10" stroke="#2a1a10" stroke-width="0.28" font-family="Liberation Sans" font-weight="bold" >36</text>
<text x="1443.73" y="460.43" font-size="3.0" text-anchor="middle" fill="#2a1a10" stroke="#2a1a10" stroke-width="0.28" font-family="Liberation Sans" font-weight="bold" >260W</text>
<text x="1443.73" y="469.05" font-size="3.0" text-anchor="middle" fill="#1a1a30" stroke="#1a1a30" stroke-width="0.28" font-family="Liberation Sans" font-weight="bold" >PV11</text>
<text x="1462.90" y="394.35" font-size="3.0" text-anchor="middle" fill="#2a1a10" stroke="#2a1a10" stroke-width="0.28" font-family="Liberation Sans" font-weight="bold" >36</text>
<text x="1461.40" y="402.97" font-size="3.0" text-anchor="middle" fill="#2a1a10" stroke="#2a1a10" stroke-width="0.28" font-family="Liberation Sans" font-weight="bold" >260W</text>
<text x="1461.40" y="411.59" font-size="3.0" text-anchor="middle" fill="#1a1a30" stroke="#1a1a30" stroke-width="0.28" font-family="Liberation Sans" font-weight="bold" >PV11</text>
<text x="1462.90" y="423.08" font-size="3.0" text-anchor="middle" fill="#2a1a10" stroke="#2a1a10" stroke-width="0.28" font-family="Liberation Sans" font-weight="bold" >36</text>
<text x="1461.40" y="431.70" font-size="3.0" text-anchor="middle" fill="#2a1a10" stroke="#2a1a10" stroke-width="0.28" font-family="Liberation Sans" font-weight="bold" >260W</text>
<text x="1461.40" y="440.32" font-size="3.0" text-anchor="middle" fill="#1a1a30" stroke="#1a1a30" stroke-width="0.28" font-family="Liberation Sans" font-weight="bold" >PV11</text>
<text x="1462.90" y="451.81" font-size="3.0" text-anchor="middle" fill="#2a1a10" stroke="#2a1a10" stroke-width="0.28" font-family="Liberation Sans" font-weight="bold" >36</text>
<text x="1461.40" y="460.43" font-size="3.0" text-anchor="middle" fill="#2a1a10" stroke="#2a1a10" stroke-width="0.28" font-family="Liberation Sans" font-weight="bold" >260W</text>
<text x="1461.40" y="469.05" font-size="3.0" text-anchor="middle" fill="#1a1a30" stroke="#1a1a30" stroke-width="0.28" font-family="Liberation Sans" font-weight="bold" >PV11</text>
<text x="1480.57" y="394.35" font-size="3.0" text-anchor="middle" fill="#2a1a10" stroke="#2a1a10" stroke-width="0.28" font-family="Liberation Sans" font-weight="bold" >36</text>
<text x="1479.07" y="402.97" font-size="3.0" text-anchor="middle" fill="#2a1a10" stroke="#2a1a10" stroke-width="0.28" font-family="Liberation Sans" font-weight="bold" >260W</text>
<text x="1479.07" y="411.59" font-size="3.0" text-anchor="middle" fill="#1a1a30" stroke="#1a1a30" stroke-width="0.28" font-family="Liberation Sans" font-weight="bold" >PV11</text>
<text x="1480.57" y="423.08" font-size="3.0" text-anchor="middle" fill="#2a1a10" stroke="#2a1a10" stroke-width="0.28" font-family="Liberation Sans" font-weight="bold" >36</text>
<text x="1479.07" y="431.70" font-size="3.0" text-anchor="middle" fill="#2a1a10" stroke="#2a1a10" stroke-width="0.28" font-family="Liberation Sans" font-weight="bold" >260W</text>
<text x="1479.07" y="440.32" font-size="3.0" text-anchor="middle" fill="#1a1a30" stroke="#1a1a30" stroke-width="0.28" font-family="Liberation Sans" font-weight="bold" >PV11</text>
<text x="1480.57" y="451.81" font-size="3.0" text-anchor="middle" fill="#2a1a10" stroke="#2a1a10" stroke-width="0.28" font-family="Liberation Sans" font-weight="bold" >36</text>
<text x="1479.07" y="460.43" font-size="3.0" text-anchor="middle" fill="#2a1a10" stroke="#2a1a10" stroke-width="0.28" font-family="Liberation Sans" font-weight="bold" >260W</text>
<text x="1479.07" y="469.05" font-size="3.0" text-anchor="middle" fill="#1a1a30" stroke="#1a1a30" stroke-width="0.28" font-family="Liberation Sans" font-weight="bold" >PV11</text>
<polyline points="129.8,456.0 129.8,366.0 142.3,358.0 159.0,349.3 171.3,344.7 200.0,338.6 245.0,341.0 313.0,348.4 360.0,351.4 450.0,353.3 501.0,351.6 564.6,347.3 603.4,342.3 740.0,328.5 773.5,326.0 808.2,322.3 840.0,319.2 880.0,315.3 914.2,310.5 948.5,306.8 976.0,305.4 1000.0,303.0 1057.0,297.1 1114.0,289.1 1148.4,283.4 1200.0,276.7 1267.6,265.7 1369.9,249.3 1410.0,240.1 1455.7,231.9 1503.2,221.0 1503.2,662.3 129.8,456.0" fill="none" stroke="#0b6fe3" stroke-width="3.3" stroke-dasharray="7.6 5.0 0.05 5.05" stroke-linecap="round" stroke-linejoin="round"/>
<line x1="1503.00" y1="574.50" x2="1564.00" y2="574.50" stroke="#111" stroke-width="0.9" />
<line x1="1555.40" y1="527.90" x2="1564.00" y2="527.90" stroke="#111" stroke-width="0.9" />
<line x1="1553.40" y1="548.60" x2="1564.00" y2="548.60" stroke="#111" stroke-width="0.9" />
<text x="1566.00" y="528.50" font-size="3.6" text-anchor="start" fill="#111" stroke="#111" stroke-width="0.28" font-family="Liberation Sans" font-weight="bold" >PLOT LINE</text>
<text x="1565.00" y="549.50" font-size="3.6" text-anchor="start" fill="#111" stroke="#111" stroke-width="0.28" font-family="Liberation Sans" font-weight="bold" >BOUNDARY WALL</text>
<text x="1565.00" y="573.50" font-size="3.6" text-anchor="start" fill="#111" stroke="#111" stroke-width="0.28" font-family="Liberation Sans" font-weight="bold" >BUILDING LINE 3 METERS</text>
<text x="1565.00" y="578.20" font-size="3.6" text-anchor="start" fill="#111" stroke="#111" stroke-width="0.28" font-family="Liberation Sans" font-weight="bold" >FROM BORDER</text>
<polygon points="1529.51,28.62 1526.59,38.25 1522.61,35.95" fill="#707070"/>
<polygon points="1533.08,42.01 1523.45,39.09 1525.75,35.11" fill="#707070"/>
<polygon points="1519.69,45.58 1522.61,35.95 1526.59,38.25" fill="#707070"/>
<polygon points="1516.12,32.19 1525.75,35.11 1523.45,39.09" fill="#707070"/>
<polygon points="1520.79,22.80 1526.92,36.48 1522.28,37.72" fill="#000"/>
<polygon points="1538.90,33.29 1525.22,39.42 1523.98,34.78" fill="#000"/>
<polygon points="1528.41,51.40 1522.28,37.72 1526.92,36.48" fill="#000"/>
<polygon points="1510.30,40.91 1523.98,34.78 1525.22,39.42" fill="#000"/>
<circle cx="1524.6" cy="37.1" r="2.6" fill="#fff"/>
<text x="1520.60" y="22.80" font-size="3.4" text-anchor="middle" fill="#1a2a40" stroke="#1a2a40" stroke-width="0.28" font-family="Liberation Sans" font-weight="bold" >N</text>
<text x="1539.90" y="33.60" font-size="3.4" text-anchor="middle" fill="#1a2a40" stroke="#1a2a40" stroke-width="0.28" font-family="Liberation Sans" font-weight="bold" >E</text>
<text x="1529.00" y="53.60" font-size="3.4" text-anchor="middle" fill="#1a2a40" stroke="#1a2a40" stroke-width="0.28" font-family="Liberation Sans" font-weight="bold" >S</text>
<text x="1508.30" y="41.50" font-size="3.4" text-anchor="middle" fill="#1a2a40" stroke="#1a2a40" stroke-width="0.28" font-family="Liberation Sans" font-weight="bold" >W</text>
<polygon points="1552.7,34.5 1554.6,31.9 1556.5,34.5 1554.6,37.1" fill="#111"/>
<line x1="1554.00" y1="34.50" x2="1572.70" y2="34.50" stroke="#111" stroke-width="0.8" />
<text x="1578.40" y="36.00" font-size="3.6" text-anchor="start" fill="#111" stroke="#111" stroke-width="0.12" font-family="Liberation Sans" font-weight="bold" textLength="51.6" lengthAdjust="spacingAndGlyphs">ΥΦΙΣΤΑΜΕΝΑ ΥΨΟΜΕΤΡΑ</text>
<polygon points="1552,43.8 1555.5,40.6 1556,42 1573.5,42 1574,43.8 1573.5,45.6 1556,45.6 1555.5,47" fill="#e0103a"/>
<text x="1578.40" y="45.30" font-size="3.6" text-anchor="start" fill="#111" stroke="#111" stroke-width="0.12" font-family="Liberation Sans" font-weight="bold" textLength="57.8" lengthAdjust="spacingAndGlyphs">ΠΡΟΤΕΙΝΟΜΕΝΑ ΥΨΟΜΕΤΡΑ</text>
<text x="1553.00" y="52.00" font-size="3.5" text-anchor="start" fill="#222" stroke="#222" stroke-width="0.12" font-family="Liberation Sans" font-weight="bold" textLength="22.6" lengthAdjust="spacingAndGlyphs">ΣΗΜΕΙΩΣΗ:</text>
<text x="1553.00" y="57.00" font-size="3.5" text-anchor="start" fill="#111" stroke="#111" stroke-width="0.12" font-family="Liberation Sans" font-weight="bold" textLength="83.9" lengthAdjust="spacingAndGlyphs">Η ΕΛΑΧΙΣΤΗ ΑΠΟΣΤΑΣΗ ΤΟΥ ΚΤΙΡΙΟΥ ΑΠΟ</text>
<text x="1553.00" y="62.00" font-size="3.5" text-anchor="start" fill="#111" stroke="#111" stroke-width="0.12" font-family="Liberation Sans" font-weight="bold" textLength="91" lengthAdjust="spacingAndGlyphs">ΤΟ ΣΥΝΟΡΟ ΤΟΥ ΟΙΚΟΠΕΔΟΥ ΕΙΝΑΙ 3 ΜΕΤΡΑ</text>
<text x="1553" y="74.2" font-size="7.4" fill="#111" font-family="Liberation Sans">ΚΛΙΜΑΚΟΜΕΤΡΟ</text>
<text x="1466.40" y="83.00" font-size="4.2" text-anchor="middle" fill="#222" stroke="#222" stroke-width="0.28" font-family="Liberation Sans" font-weight="bold" >0</text>
<text x="1482.10" y="83.00" font-size="4.2" text-anchor="middle" fill="#222" stroke="#222" stroke-width="0.28" font-family="Liberation Sans" font-weight="bold" >1</text>
<text x="1499.70" y="83.00" font-size="4.2" text-anchor="middle" fill="#222" stroke="#222" stroke-width="0.28" font-family="Liberation Sans" font-weight="bold" >2</text>
<text x="1551.30" y="83.00" font-size="4.2" text-anchor="middle" fill="#222" stroke="#222" stroke-width="0.28" font-family="Liberation Sans" font-weight="bold" >5</text>
<text x="1638.40" y="83.00" font-size="4.2" text-anchor="middle" fill="#222" stroke="#222" stroke-width="0.28" font-family="Liberation Sans" font-weight="bold" >10</text>
<rect x="1464.30" y="85.20" width="17.40" height="3.40" fill="#000" stroke="none" stroke-width="1" />
<rect x="1481.70" y="87.80" width="16.80" height="2.60" fill="#fff" stroke="#000" stroke-width="0.7" />
<rect x="1498.50" y="85.20" width="53.10" height="3.40" fill="#000" stroke="none" stroke-width="1" />
<rect x="1551.60" y="87.80" width="86.00" height="2.60" fill="#fff" stroke="#000" stroke-width="0.7" />
<g fill="#ffffff" opacity="0.42">
<text x="671" y="543.5" font-size="33" letter-spacing="7" font-family="Liberation Sans" textLength="307" lengthAdjust="spacing">REAL ESTATE</text>
<rect x="994" y="529.5" width="20.5" height="3.2"/>
</g>
<g fill="#ffffff" opacity="0.25">
<text x="668" y="513" font-size="290" font-family="Liberation Sans" textLength="400" lengthAdjust="spacingAndGlyphs">ARAZO</text>
</g>
</svg></body></html>
